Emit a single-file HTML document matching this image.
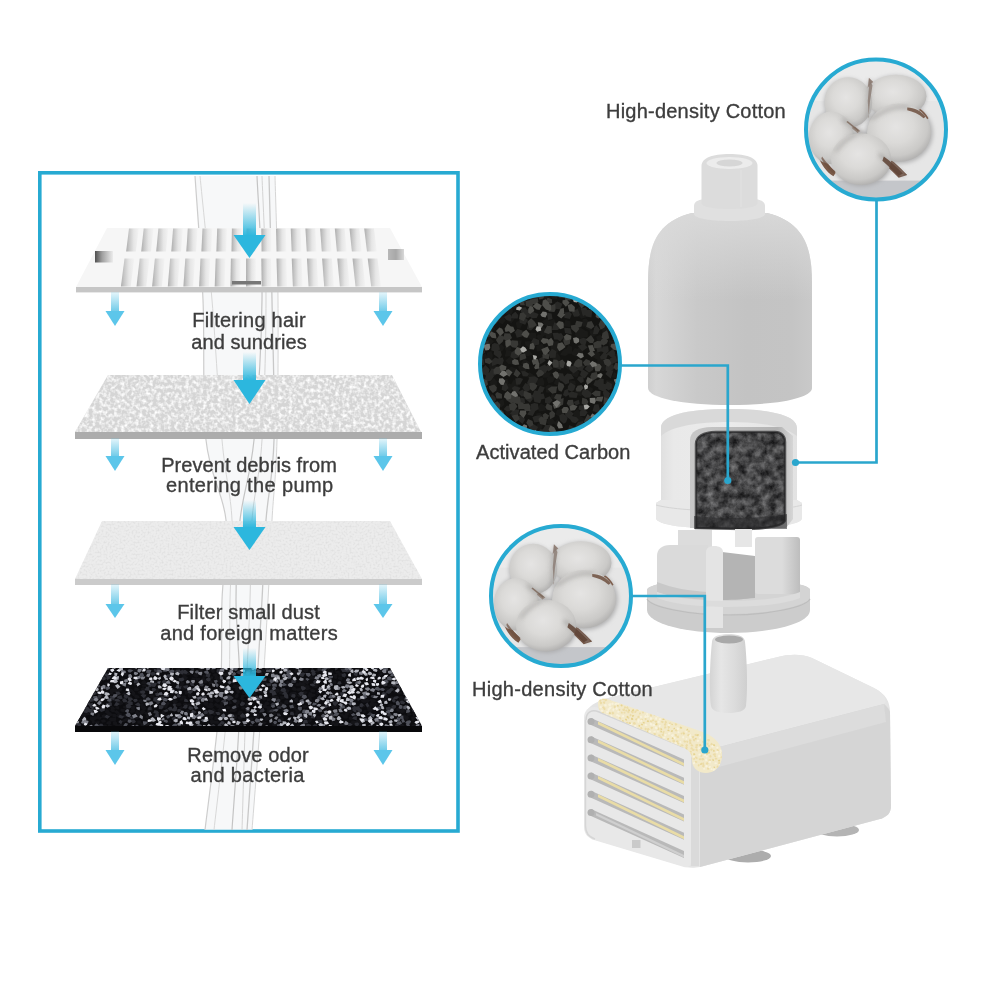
<!DOCTYPE html>
<html><head><meta charset="utf-8"><style>
html,body{margin:0;padding:0;background:#fff;}
svg{display:block;}
</style></head><body>
<svg width="1000" height="1000" viewBox="0 0 1000 1000">
<rect width="1000" height="1000" fill="#ffffff"/>

<defs>
 <linearGradient id="gShaft" x1="0" y1="0" x2="0" y2="1">
  <stop offset="0" stop-color="#2cb7de" stop-opacity="0"/>
  <stop offset="0.55" stop-color="#2cb7de" stop-opacity="0.55"/>
  <stop offset="1" stop-color="#2cb7de" stop-opacity="1"/>
 </linearGradient>
 <linearGradient id="gSmall" x1="0" y1="0" x2="0" y2="1">
  <stop offset="0" stop-color="#5cc4e6" stop-opacity="0.15"/>
  <stop offset="1" stop-color="#5cc4e6" stop-opacity="0.9"/>
 </linearGradient>
 <linearGradient id="gSlat" x1="0" y1="0" x2="1" y2="0">
  <stop offset="0" stop-color="#adadad"/>
  <stop offset="0.25" stop-color="#c8c8c8"/>
  <stop offset="0.6" stop-color="#e6e6e6"/>
  <stop offset="1" stop-color="#f3f3f3"/>
 </linearGradient>
 <linearGradient id="gBody" x1="0" y1="0" x2="1" y2="0">
  <stop offset="0" stop-color="#cfcfcf"/>
  <stop offset="0.05" stop-color="#d7d7d7"/>
  <stop offset="0.3" stop-color="#c9c9c9"/>
  <stop offset="0.6" stop-color="#c3c3c3"/>
  <stop offset="0.88" stop-color="#c4c4c4"/>
  <stop offset="1" stop-color="#c9c9c9"/>
 </linearGradient>
 <linearGradient id="gShoulder" x1="0" y1="0" x2="0" y2="1">
  <stop offset="0" stop-color="#dadada" stop-opacity="0.9"/>
  <stop offset="1" stop-color="#dadada" stop-opacity="0"/>
 </linearGradient>
 <filter id="fCartC" x="0" y="0" width="1" height="1" color-interpolation-filters="sRGB">
  <feTurbulence type="fractalNoise" baseFrequency="0.13" numOctaves="4" seed="12" result="n"/>
  <feColorMatrix in="n" type="matrix" values="0.55 0 0 0 0.0  0.55 0 0 0 0.0  0.55 0 0 0 0.005  0 0 0 0 1" result="g"/>
  <feComposite in="g" in2="SourceGraphic" operator="in"/>
 </filter>
 <linearGradient id="gBodyV" x1="0" y1="0" x2="0" y2="1">
  <stop offset="0" stop-color="#f2f2f2"/>
  <stop offset="1" stop-color="#e4e4e4"/>
 </linearGradient>
 <linearGradient id="gNotch" x1="0" y1="0" x2="1" y2="0"><stop offset="0" stop-color="#505050"/><stop offset="0.4" stop-color="#a0a0a0"/><stop offset="1" stop-color="#ececec"/></linearGradient>
 <linearGradient id="gNotch2" x1="0" y1="0" x2="1" y2="0"><stop offset="0" stop-color="#b8b8b8"/><stop offset="0.5" stop-color="#a8a8a8"/><stop offset="1" stop-color="#d8d8d8"/></linearGradient>
 <filter id="fFoam" x="0" y="0" width="1" height="1">
  <feTurbulence type="fractalNoise" baseFrequency="0.28" numOctaves="2" seed="3" result="n"/>
  <feColorMatrix in="n" type="matrix" values="0 0 0 0 0  0 0 0 0 0  0 0 0 0 0  2.4 0 0 0 -0.95" result="a"/>
  <feFlood flood-color="#ffffff" result="w"/>
  <feComposite in="w" in2="a" operator="in" result="spots"/>
  <feComposite in="spots" in2="SourceGraphic" operator="in" result="s2"/>
  <feMerge><feMergeNode in="SourceGraphic"/><feMergeNode in="s2"/></feMerge>
 </filter>
 <filter id="fPaper" x="0" y="0" width="1" height="1">
  <feTurbulence type="fractalNoise" baseFrequency="0.5" numOctaves="2" seed="5" result="n"/>
  <feColorMatrix in="n" type="matrix" values="0 0 0 0 0  0 0 0 0 0  0 0 0 0 0  1.4 0 0 0 -0.6" result="a"/>
  <feFlood flood-color="#d4d4d4" result="w"/>
  <feComposite in="w" in2="a" operator="in" result="spots"/>
  <feComposite in="spots" in2="SourceGraphic" operator="in" result="s2"/>
  <feMerge><feMergeNode in="SourceGraphic"/><feMergeNode in="s2"/></feMerge>
 </filter>
 <filter id="fCarbon" x="0" y="0" width="1" height="1">
  <feTurbulence type="fractalNoise" baseFrequency="0.3" numOctaves="2" seed="9" result="n"/>
  <feColorMatrix in="n" type="matrix" values="0 0 0 0 0  0 0 0 0 0  0 0 0 0 0  4 0 0 0 -1.95" result="a"/>
  <feFlood flood-color="#5a5c66" result="w"/>
  <feComposite in="w" in2="a" operator="in" result="spots"/>
  <feTurbulence type="fractalNoise" baseFrequency="0.45" numOctaves="1" seed="21" result="n2"/>
  <feColorMatrix in="n2" type="matrix" values="0 0 0 0 0  0 0 0 0 0  0 0 0 0 0  6 0 0 0 -3.6" result="a2"/>
  <feFlood flood-color="#d4d6de" result="w2"/>
  <feComposite in="w2" in2="a2" operator="in" result="spots2"/>
  <feMerge result="m"><feMergeNode in="spots"/><feMergeNode in="spots2"/></feMerge>
  <feComposite in="m" in2="SourceGraphic" operator="in" result="s2"/>
  <feMerge><feMergeNode in="SourceGraphic"/><feMergeNode in="s2"/></feMerge>
 </filter>
 <filter id="fCarbonC" x="0" y="0" width="1" height="1">
  <feTurbulence type="fractalNoise" baseFrequency="0.14" numOctaves="2" seed="13" result="n"/>
  <feColorMatrix in="n" type="matrix" values="0 0 0 0 0  0 0 0 0 0  0 0 0 0 0  3 0 0 0 -1.35" result="a"/>
  <feFlood flood-color="#3c3c3e" result="w"/>
  <feComposite in="w" in2="a" operator="in" result="spots"/>
  <feTurbulence type="fractalNoise" baseFrequency="0.2" numOctaves="1" seed="27" result="n2"/>
  <feColorMatrix in="n2" type="matrix" values="0 0 0 0 0  0 0 0 0 0  0 0 0 0 0  6 0 0 0 -3.7" result="a2"/>
  <feFlood flood-color="#8c8c90" result="w2"/>
  <feComposite in="w2" in2="a2" operator="in" result="spots2"/>
  <feMerge result="m"><feMergeNode in="spots"/><feMergeNode in="spots2"/></feMerge>
  <feComposite in="m" in2="SourceGraphic" operator="in" result="s2"/>
  <feMerge><feMergeNode in="SourceGraphic"/><feMergeNode in="s2"/></feMerge>
 </filter>
 <filter id="fCarbon2" x="0" y="0" width="1" height="1">
  <feTurbulence type="fractalNoise" baseFrequency="0.25" numOctaves="2" seed="4" result="n"/>
  <feColorMatrix in="n" type="matrix" values="0 0 0 0 0  0 0 0 0 0  0 0 0 0 0  3 0 0 0 -1.5" result="a"/>
  <feFlood flood-color="#5c5c5e" result="w"/>
  <feComposite in="w" in2="a" operator="in" result="spots"/>
  <feComposite in="spots" in2="SourceGraphic" operator="in" result="s2"/>
  <feMerge><feMergeNode in="SourceGraphic"/><feMergeNode in="s2"/></feMerge>
 </filter>
 <filter id="blur1"><feGaussianBlur stdDeviation="1"/></filter>
 <filter id="blur2"><feGaussianBlur stdDeviation="2"/></filter>
 <filter id="blur4"><feGaussianBlur stdDeviation="4"/></filter>
 <clipPath id="cC1"><circle cx="876" cy="129.5" r="69"/></clipPath>
 <clipPath id="cC2"><circle cx="550" cy="364" r="69"/></clipPath>
 <clipPath id="cC3"><circle cx="561" cy="596" r="69"/></clipPath>
</defs>

<rect x="39.8" y="172.8" width="418.2" height="658.2" fill="none" stroke="#27aad2" stroke-width="3.6"/>
<path d="M195.0 176.0 C196.3 196.7 201.2 256.0 203.0 300.0 C204.8 344.0 202.2 403.3 206.0 440.0 C209.8 476.7 223.3 493.3 226.0 520.0 C228.7 546.7 223.0 570.0 222.0 600.0 C221.0 630.0 222.8 661.7 220.0 700.0 C217.2 738.3 207.5 808.3 205.0 830.0 L252.0 830.0 C253.7 808.3 259.3 738.3 262.0 700.0 C264.7 661.7 266.3 630.0 268.0 600.0 C269.7 570.0 270.5 546.7 272.0 520.0 C273.5 493.3 276.0 476.7 277.0 440.0 C278.0 403.3 278.3 344.0 278.0 300.0 C277.7 256.0 275.5 196.7 275.0 176.0 Z" fill="#f4f5f6" opacity="0.7"/>
<path d="M195.0 176.0 C196.3 196.7 201.2 256.0 203.0 300.0 C204.8 344.0 202.2 403.3 206.0 440.0 C209.8 476.7 223.3 493.3 226.0 520.0 C228.7 546.7 223.0 570.0 222.0 600.0 C221.0 630.0 222.8 661.7 220.0 700.0 C217.2 738.3 207.5 808.3 205.0 830.0" fill="none" stroke="#cdcdcd" stroke-width="1.2"/>
<path d="M200.0 176.0 C202.0 196.7 208.3 256.0 212.0 300.0 C215.7 344.0 218.7 403.3 222.0 440.0 C225.3 476.7 230.7 493.3 232.0 520.0 C233.3 546.7 230.7 570.0 230.0 600.0 C229.3 630.0 230.7 661.7 228.0 700.0 C225.3 738.3 216.3 808.3 214.0 830.0" fill="none" stroke="#d8d8d8" stroke-width="1.0"/>
<path d="M257.0 176.0 C257.8 196.7 262.5 256.0 262.0 300.0 C261.5 344.0 257.7 403.3 254.0 440.0 C250.3 476.7 243.0 493.3 240.0 520.0 C237.0 546.7 236.0 570.0 236.0 600.0 C236.0 630.0 240.7 661.7 240.0 700.0 C239.3 738.3 233.3 808.3 232.0 830.0" fill="none" stroke="#c4c4c4" stroke-width="1.2"/>
<path d="M262.0 176.0 C262.7 196.7 266.0 256.0 266.0 300.0 C266.0 344.0 264.3 403.3 262.0 440.0 C259.7 476.7 254.0 493.3 252.0 520.0 C250.0 546.7 251.0 570.0 250.0 600.0 C249.0 630.0 247.3 661.7 246.0 700.0 C244.7 738.3 242.7 808.3 242.0 830.0" fill="none" stroke="#d4d4d4" stroke-width="1.0"/>
<path d="M269.0 176.0 C269.5 196.7 271.2 256.0 272.0 300.0 C272.8 344.0 275.0 403.3 274.0 440.0 C273.0 476.7 268.0 493.3 266.0 520.0 C264.0 546.7 263.7 570.0 262.0 600.0 C260.3 630.0 258.5 661.7 256.0 700.0 C253.5 738.3 248.5 808.3 247.0 830.0" fill="none" stroke="#c8c8c8" stroke-width="1.3"/>
<path d="M275.0 176.0 C275.5 196.7 277.7 256.0 278.0 300.0 C278.3 344.0 278.0 403.3 277.0 440.0 C276.0 476.7 273.5 493.3 272.0 520.0 C270.5 546.7 269.7 570.0 268.0 600.0 C266.3 630.0 264.7 661.7 262.0 700.0 C259.3 738.3 253.7 808.3 252.0 830.0" fill="none" stroke="#d6d6d6" stroke-width="1.0"/>
<polygon points="107,228 390,228 422,287 76,287" fill="#f6f6f6"/>
<rect x="76" y="287" width="346" height="5.4" fill="#c6c6c6"/>
<polygon points="129.0,228.5 138.8,228.5 135.9,251.5 126.1,251.5" fill="url(#gSlat)"/>
<polygon points="143.7,228.5 153.5,228.5 151.0,251.5 141.2,251.5" fill="url(#gSlat)"/>
<polygon points="158.4,228.5 168.2,228.5 166.0,251.5 156.2,251.5" fill="url(#gSlat)"/>
<polygon points="173.1,228.5 182.9,228.5 181.1,251.5 171.3,251.5" fill="url(#gSlat)"/>
<polygon points="187.8,228.5 197.6,228.5 196.1,251.5 186.3,251.5" fill="url(#gSlat)"/>
<polygon points="202.5,228.5 212.3,228.5 211.2,251.5 201.4,251.5" fill="url(#gSlat)"/>
<polygon points="217.2,228.5 227.0,228.5 226.2,251.5 216.4,251.5" fill="url(#gSlat)"/>
<polygon points="231.9,228.5 241.7,228.5 241.3,251.5 231.5,251.5" fill="url(#gSlat)"/>
<polygon points="246.6,228.5 256.4,228.5 256.3,251.5 246.5,251.5" fill="url(#gSlat)"/>
<polygon points="261.3,228.5 271.1,228.5 271.4,251.5 261.6,251.5" fill="url(#gSlat)"/>
<polygon points="276.0,228.5 285.8,228.5 286.4,251.5 276.6,251.5" fill="url(#gSlat)"/>
<polygon points="290.7,228.5 300.5,228.5 301.5,251.5 291.7,251.5" fill="url(#gSlat)"/>
<polygon points="305.4,228.5 315.2,228.5 316.6,251.5 306.8,251.5" fill="url(#gSlat)"/>
<polygon points="320.1,228.5 329.9,228.5 331.6,251.5 321.8,251.5" fill="url(#gSlat)"/>
<polygon points="334.8,228.5 344.6,228.5 346.7,251.5 336.9,251.5" fill="url(#gSlat)"/>
<polygon points="349.5,228.5 359.3,228.5 361.7,251.5 351.9,251.5" fill="url(#gSlat)"/>
<polygon points="364.2,228.5 374.0,228.5 376.8,251.5 367.0,251.5" fill="url(#gSlat)"/>
<polygon points="124.5,258.5 134.3,258.5 130.7,286.6 120.9,286.6" fill="url(#gSlat)"/>
<polygon points="139.7,258.5 149.5,258.5 146.3,286.6 136.5,286.6" fill="url(#gSlat)"/>
<polygon points="154.9,258.5 164.7,258.5 161.9,286.6 152.1,286.6" fill="url(#gSlat)"/>
<polygon points="170.1,258.5 179.9,258.5 177.6,286.6 167.8,286.6" fill="url(#gSlat)"/>
<polygon points="185.3,258.5 195.1,258.5 193.2,286.6 183.4,286.6" fill="url(#gSlat)"/>
<polygon points="200.5,258.5 210.3,258.5 208.9,286.6 199.1,286.6" fill="url(#gSlat)"/>
<polygon points="215.7,258.5 225.5,258.5 224.5,286.6 214.7,286.6" fill="url(#gSlat)"/>
<polygon points="230.9,258.5 240.7,258.5 240.2,286.6 230.4,286.6" fill="url(#gSlat)"/>
<polygon points="246.1,258.5 255.9,258.5 255.8,286.6 246.0,286.6" fill="url(#gSlat)"/>
<polygon points="261.3,258.5 271.1,258.5 271.5,286.6 261.7,286.6" fill="url(#gSlat)"/>
<polygon points="276.5,258.5 286.3,258.5 287.1,286.6 277.3,286.6" fill="url(#gSlat)"/>
<polygon points="291.7,258.5 301.5,258.5 302.7,286.6 292.9,286.6" fill="url(#gSlat)"/>
<polygon points="306.9,258.5 316.7,258.5 318.4,286.6 308.6,286.6" fill="url(#gSlat)"/>
<polygon points="322.1,258.5 331.9,258.5 334.0,286.6 324.2,286.6" fill="url(#gSlat)"/>
<polygon points="337.3,258.5 347.1,258.5 349.7,286.6 339.9,286.6" fill="url(#gSlat)"/>
<polygon points="352.5,258.5 362.3,258.5 365.3,286.6 355.5,286.6" fill="url(#gSlat)"/>
<polygon points="367.7,258.5 377.5,258.5 381.0,286.6 371.2,286.6" fill="url(#gSlat)"/>
<rect x="95" y="251" width="18" height="11.5" fill="url(#gNotch)"/>
<rect x="388" y="249" width="16" height="11" fill="url(#gNotch2)"/>
<rect x="232" y="281" width="29" height="3.5" fill="#777"/>
<polygon points="108,375 392,375 421,432 75,432" fill="#d5d5d5" filter="url(#fFoam)"/>
<rect x="75" y="432" width="347" height="7" fill="#acacac"/>
<polygon points="102,521 390,521 422,579 75,579" fill="#ececec" filter="url(#fPaper)"/>
<rect x="75" y="579" width="347" height="6" fill="#cbcbcb"/>
<clipPath id="cL4"><polygon points="108,668 390,668 422,726 75,726"/></clipPath>
<polygon points="108,668 390,668 422,726 75,726" fill="#0c0c0f"/>
<g clip-path="url(#cL4)"><path d="M82.1 664.5 84.8 662.7 87.6 664.8 86.0 666.4 83.4 666.6ZM101.4 663.7 102.2 666.8 99.1 667.1 96.0 665.5 98.2 663.4ZM102.1 664.6 100.6 662.7 104.5 660.4 104.6 663.3ZM125.7 660.0 127.7 663.6 124.7 664.3 121.7 663.1 123.0 661.0ZM126.3 665.3 126.2 662.4 129.0 660.7 131.9 662.8 129.4 665.4ZM175.3 661.0 178.3 661.1 179.9 663.6 178.2 665.7 174.9 664.9 174.6 662.2ZM190.5 661.2 193.6 662.9 192.0 664.9 188.9 663.9ZM205.3 663.5 205.4 661.7 208.5 661.8 209.6 664.1 207.3 665.0ZM209.0 664.8 213.6 663.6 215.1 666.4 212.2 668.1ZM235.0 662.6 238.3 663.5 238.2 665.6 234.4 665.7ZM242.3 660.8 245.7 661.8 245.8 664.9 242.9 664.9ZM263.2 663.2 266.4 661.6 267.8 662.9 267.4 665.2 263.6 665.3ZM270.1 663.0 272.7 662.8 273.9 664.4 272.6 666.8 268.9 666.5 268.2 663.7ZM283.6 661.4 287.2 662.0 287.2 665.5 283.5 664.8 281.2 663.3ZM297.9 661.6 300.1 664.4 297.8 666.2 294.1 664.4 296.0 662.4ZM298.8 664.1 299.0 661.5 302.7 662.8 302.6 664.9 299.6 666.1ZM342.0 662.5 345.7 662.0 345.9 664.9 343.5 666.5 340.4 664.9ZM356.6 664.9 353.1 666.2 351.0 663.3 354.4 662.4 357.9 663.2ZM358.1 665.5 356.1 662.9 357.8 661.4 361.4 662.1 361.4 663.7ZM364.8 664.1 364.4 666.5 360.4 665.5 360.3 663.9 361.8 661.9ZM369.1 664.8 368.2 666.4 366.3 666.2 363.7 665.6 364.8 662.9 367.5 663.5ZM390.4 667.1 387.0 665.9 385.4 664.5 388.2 662.8 391.1 664.0ZM398.6 662.9 397.2 665.5 394.8 664.3 394.2 662.3 397.3 661.7ZM401.3 663.7 400.8 665.3 400.3 667.4 397.1 666.1 396.2 664.0 398.2 663.0ZM406.2 666.8 406.5 664.0 408.2 662.9 410.4 663.9 410.4 666.7ZM417.0 662.3 420.0 662.2 422.0 663.4 422.5 664.7 419.2 666.4 418.2 664.1ZM426.2 666.5 423.4 665.2 425.2 663.0 427.1 663.4 429.6 665.6ZM427.9 661.2 431.3 661.6 430.6 664.3 427.0 664.6ZM78.6 666.9 82.1 667.9 80.2 669.9 77.0 668.7ZM91.6 668.9 92.5 666.1 93.9 665.5 96.5 667.4 96.6 669.6 93.9 670.4ZM99.5 669.0 98.4 666.7 98.4 665.1 101.5 664.6 102.7 666.5 102.3 668.3ZM125.5 665.2 129.2 666.6 126.4 668.4 122.8 667.2ZM130.2 667.5 132.7 667.0 134.8 668.9 133.5 671.2 130.1 670.6ZM156.3 666.2 155.9 668.7 151.9 668.9 151.7 666.8 153.1 665.2ZM176.0 668.4 177.3 665.6 180.8 665.5 180.6 667.8 179.2 669.5ZM183.8 666.7 185.7 668.9 182.3 669.5 179.5 667.7 181.9 665.7ZM221.7 667.4 220.2 669.0 216.7 669.0 216.5 666.9 219.5 664.9ZM240.1 664.8 242.6 665.0 243.2 666.8 242.7 668.6 239.6 668.1 238.3 665.9ZM248.1 664.2 249.7 666.1 248.5 669.0 246.8 667.9 245.0 667.1 245.6 664.7ZM340.2 668.6 339.6 666.1 343.6 666.2 343.3 668.4ZM358.6 669.7 357.4 668.0 356.7 665.6 360.4 665.3 362.4 666.7 361.1 668.2ZM388.2 664.9 392.0 665.9 390.7 669.1 387.9 667.5ZM405.1 666.2 403.0 668.3 400.2 667.4 401.3 664.5 404.3 664.4ZM419.6 670.9 417.1 668.8 419.3 667.0 421.1 668.4ZM423.3 670.5 420.8 670.5 419.4 668.2 422.9 667.2 424.3 668.6ZM426.3 669.2 423.3 667.6 426.1 665.8 428.9 666.1 429.0 668.6ZM90.1 672.4 85.8 671.6 87.2 668.8 90.2 668.9ZM100.8 671.9 101.8 669.9 104.7 668.8 105.3 671.4 104.7 672.7 101.7 672.8ZM109.5 675.1 106.3 673.7 106.9 670.9 110.0 670.8 112.4 672.6ZM134.2 672.4 132.1 672.2 132.7 669.5 135.2 668.3 137.9 669.2 137.2 671.3ZM200.2 671.8 198.6 669.3 203.0 668.2 202.7 671.2ZM210.2 670.5 211.5 668.8 214.5 669.8 215.0 672.2 212.6 673.0ZM225.7 671.3 229.5 669.4 230.6 672.6 228.6 674.0ZM264.9 669.8 266.7 672.4 264.8 673.5 261.8 671.5 260.4 670.1 262.4 668.4ZM293.5 671.1 296.0 669.0 298.9 669.5 299.7 672.8 295.4 674.1ZM305.1 672.7 302.5 670.1 306.0 668.6 308.8 668.4 307.9 671.5ZM317.9 672.6 314.7 671.7 316.1 669.5 317.8 669.5 319.7 671.4ZM328.0 671.6 332.9 670.1 333.5 674.1 328.9 673.7ZM336.2 673.6 334.4 671.6 339.3 670.5 340.3 673.6ZM381.7 671.3 379.1 672.7 377.2 671.0 378.1 669.4 380.8 668.9 382.6 669.1ZM428.8 673.0 426.7 670.9 431.4 669.5 431.4 672.2ZM76.9 676.0 76.6 677.7 72.5 678.4 71.0 676.7 71.8 673.7 74.6 674.8ZM82.4 676.9 76.9 677.0 77.2 673.9 81.7 674.1ZM82.5 672.3 84.1 671.6 86.5 672.4 85.6 674.5 84.0 675.7 81.4 675.3ZM97.8 676.7 93.6 677.9 92.2 675.8 92.8 673.9 95.4 673.0 97.4 673.9ZM104.1 674.8 102.3 677.5 100.0 677.1 99.2 676.2 99.8 673.7 102.0 673.7ZM125.1 676.3 123.3 674.1 123.8 672.3 126.5 671.5 127.9 673.3 127.8 675.0ZM187.1 675.5 184.4 675.9 182.4 676.3 181.8 673.1 184.8 672.0 187.1 672.6ZM187.0 675.5 185.0 672.4 188.4 671.4 190.6 674.4ZM196.7 677.7 194.5 677.0 193.0 675.6 194.9 672.9 198.3 674.0 198.0 676.7ZM207.7 674.8 206.2 677.2 202.9 678.2 202.4 675.3 205.7 674.3ZM212.9 675.7 212.4 674.5 214.9 673.3 217.2 673.4 217.8 675.3 216.0 677.3ZM228.5 673.4 228.1 676.7 224.5 676.2 222.9 674.7 225.5 672.3ZM249.8 677.9 247.6 675.6 250.3 673.8 252.7 676.1ZM256.9 672.8 259.3 675.1 256.2 677.3 252.5 675.0ZM263.4 673.4 262.4 675.1 259.5 675.0 258.7 673.7 260.9 671.1ZM334.5 676.9 332.6 674.2 337.8 673.7 337.2 676.3ZM343.1 673.3 341.9 675.4 339.0 676.4 337.8 673.9 339.2 672.4ZM379.7 672.4 382.3 673.1 382.3 674.8 380.4 675.9 377.2 675.8ZM418.9 672.5 417.6 676.2 415.3 674.7 415.0 672.4ZM426.5 674.2 423.3 677.5 420.0 675.9 422.2 672.8ZM86.9 675.5 91.0 677.8 89.3 679.7 85.0 680.4 85.7 677.7ZM93.0 680.4 90.0 680.2 89.9 677.1 93.1 676.1 94.6 678.6ZM95.6 680.4 97.4 678.2 100.9 678.7 99.6 681.4ZM125.0 680.9 121.2 680.7 120.7 678.5 122.8 677.4 125.1 678.7ZM178.7 677.6 178.2 679.9 175.1 678.3 174.6 676.3 178.0 675.9ZM181.6 677.3 183.7 675.6 186.1 676.1 188.0 677.6 186.2 680.3 184.1 679.7ZM191.1 680.4 191.8 677.6 195.4 677.8 195.3 680.0ZM195.2 678.1 200.6 677.7 200.0 680.6 196.8 681.3ZM205.3 678.3 205.2 679.9 202.0 681.1 201.3 678.6 202.5 677.4ZM212.4 679.1 210.1 679.6 209.1 678.6 209.6 676.8 211.4 676.2 213.9 676.5ZM215.4 675.7 217.2 675.5 219.2 677.2 218.6 679.3 215.8 679.5 214.0 678.6ZM251.0 678.4 247.0 679.2 247.0 675.9 251.1 675.6ZM262.3 679.5 259.8 679.3 258.8 676.1 263.1 675.8ZM271.0 680.5 267.8 681.7 267.3 677.8 270.3 678.0ZM314.0 676.4 314.3 679.2 311.5 679.6 308.6 679.4 309.7 676.3 310.7 675.4ZM334.0 675.9 336.9 675.6 337.5 677.9 335.7 679.2 333.8 677.8ZM339.7 679.7 337.9 678.9 338.3 676.8 341.3 676.4 342.8 678.1 341.8 680.7ZM409.6 677.2 411.3 674.6 413.1 676.2 414.5 678.4 411.2 678.8ZM411.8 677.4 414.3 676.6 415.9 680.2 411.8 679.8ZM422.6 680.5 420.1 679.2 420.9 677.3 424.3 678.2ZM424.5 679.8 422.7 678.6 424.0 676.2 425.3 674.6 427.4 677.0 427.1 678.3ZM95.9 679.6 97.8 680.9 96.6 683.7 92.9 682.5 93.4 680.6ZM99.9 683.1 97.5 682.4 97.2 679.4 100.3 679.3 102.2 681.7ZM110.0 684.1 107.1 685.0 104.0 684.5 104.9 682.3 106.9 681.9 109.9 681.6ZM140.8 683.6 141.8 681.4 144.3 679.7 147.0 682.7 145.5 684.7ZM184.7 683.8 183.0 685.5 180.1 684.1 181.1 681.8 184.2 681.9ZM204.7 683.7 202.1 680.6 206.0 679.2 207.9 682.2ZM212.8 682.8 208.9 685.1 208.5 681.8 212.2 680.1ZM221.1 683.2 216.5 681.7 218.7 678.9 222.5 679.2ZM246.3 680.0 248.8 682.0 246.5 684.7 243.8 682.3ZM247.5 681.1 249.6 680.7 253.2 681.9 251.1 683.7 248.0 683.7ZM258.7 678.9 260.6 679.9 258.8 683.3 256.1 683.3 254.2 681.9 255.7 679.6ZM264.9 682.5 262.1 684.9 258.2 683.6 258.9 680.7 263.2 681.5ZM265.1 685.6 263.7 682.2 266.0 681.1 268.5 683.7ZM285.4 682.1 287.8 680.5 290.8 682.4 289.3 684.8 287.3 684.6ZM302.2 685.4 298.7 685.8 298.1 683.9 299.6 681.5 301.9 682.4ZM301.8 681.9 303.6 679.5 305.1 679.4 308.1 681.6 307.7 683.0 304.2 683.0ZM307.3 684.9 305.0 683.0 307.6 679.8 309.5 682.2ZM333.1 680.2 336.1 680.6 336.5 683.6 332.7 683.4ZM344.7 680.2 347.6 679.0 348.4 681.2 347.0 683.9 344.5 683.0ZM369.1 681.1 369.5 679.6 372.6 678.6 373.3 681.2 370.8 683.5ZM400.4 681.5 402.4 679.3 406.1 680.6 406.1 684.1 402.8 683.4ZM409.8 682.0 409.8 684.4 406.6 684.4 406.8 681.6ZM419.3 680.9 421.5 683.6 418.6 685.5 416.0 685.2 416.5 682.5ZM421.3 681.8 423.6 682.0 423.7 684.3 421.8 686.0 418.9 684.6 418.8 682.5ZM426.8 684.2 426.3 682.9 427.4 680.8 430.0 682.0 431.8 684.6 429.5 685.0ZM92.6 684.6 95.8 684.3 96.9 686.6 95.3 687.5 92.0 687.7ZM116.9 686.1 115.6 688.2 113.7 688.8 112.4 686.1 114.2 684.9ZM126.3 685.9 128.2 685.6 130.4 686.6 130.4 688.3 126.6 689.5ZM137.9 685.7 133.9 685.6 134.1 682.5 137.3 682.9ZM141.3 684.4 145.9 684.9 146.6 687.1 142.3 686.8ZM180.0 683.6 183.3 683.3 184.0 684.9 182.6 687.4 179.5 686.5ZM236.8 686.3 234.8 688.1 232.0 687.8 233.5 684.6 235.7 684.5ZM236.7 685.0 239.4 685.0 239.0 687.6 237.6 689.3 234.7 688.8 234.3 685.7ZM251.0 685.1 248.7 686.1 246.4 683.9 248.1 682.7 251.8 683.1ZM255.8 687.4 252.5 686.6 251.7 683.4 255.8 684.1ZM295.7 683.6 297.9 683.0 299.7 685.2 298.1 686.3 295.5 685.7ZM303.3 687.0 300.9 685.3 300.2 682.2 304.3 682.7 306.0 684.8ZM307.4 689.1 305.4 688.2 303.9 686.8 306.4 684.9 309.4 685.5 309.7 687.4ZM318.7 685.7 316.4 688.3 313.3 687.6 312.6 684.2 315.1 683.7ZM369.2 686.7 366.1 688.8 364.0 686.5 368.0 684.8ZM392.1 683.4 392.3 686.7 390.9 687.5 387.7 686.6 388.5 684.6ZM418.6 686.2 420.6 684.7 423.4 684.0 424.5 686.4 422.4 687.3 420.6 688.8ZM109.4 691.9 109.9 689.4 112.8 688.1 114.7 690.9 112.1 693.0ZM116.9 688.6 117.6 690.2 116.1 693.0 113.7 691.7 113.4 688.9ZM122.6 689.9 119.9 691.7 116.4 689.9 121.3 687.1ZM131.0 692.3 128.1 691.7 129.0 689.3 130.9 688.5 132.4 689.4 134.0 691.3ZM137.5 687.7 140.0 689.8 137.6 690.9 134.0 690.7 134.7 686.9ZM143.3 687.1 145.1 688.6 146.2 690.5 142.3 691.5 141.1 690.8 141.0 688.5ZM159.1 690.2 158.0 692.7 155.1 691.2 154.8 689.4 158.8 687.9ZM186.8 688.4 185.5 689.7 183.4 690.1 180.8 688.9 181.9 686.8 185.1 686.7ZM224.0 690.2 221.5 692.4 219.2 690.4 218.8 688.0 223.6 687.4ZM239.2 688.2 237.8 690.6 234.8 690.2 236.2 686.4ZM254.0 690.5 249.3 691.3 248.4 689.8 250.1 687.3 252.5 687.8ZM280.2 691.0 277.8 692.9 275.2 692.0 273.8 690.4 276.5 688.8 278.7 688.7ZM284.6 689.6 286.7 689.2 289.8 690.0 287.9 693.4 284.9 692.6ZM296.6 689.0 296.2 691.0 292.8 690.5 291.6 689.1 293.2 686.5 296.1 687.7ZM302.3 690.4 297.6 691.6 296.1 689.2 297.6 688.3 300.5 687.9ZM305.4 690.0 305.6 687.3 306.8 685.9 309.4 687.5 311.0 688.7 308.1 690.0ZM310.0 689.8 312.3 688.9 315.4 690.3 314.5 692.7 310.8 692.1ZM385.5 688.0 388.6 688.1 389.1 690.4 386.6 692.4 384.4 690.8 383.6 688.1ZM398.4 689.7 398.7 687.1 400.0 686.4 402.2 687.1 402.9 688.6 401.3 689.8ZM90.4 691.6 91.4 693.7 87.5 694.3 85.1 692.0 88.6 690.2ZM109.6 694.3 110.6 690.8 113.5 692.6 113.3 694.6ZM124.1 692.1 127.9 694.2 124.9 695.5 121.5 694.8ZM135.3 694.4 133.1 695.9 131.5 694.3 132.0 692.0 133.8 691.1 135.2 692.6ZM144.0 692.8 140.9 694.4 138.7 693.6 137.3 692.3 140.8 690.0 143.6 691.0ZM188.1 689.8 188.9 691.8 188.8 694.1 185.3 694.7 184.2 690.7ZM239.0 689.6 240.5 692.4 237.5 693.9 235.9 691.0ZM242.3 691.5 245.0 690.7 248.4 692.6 246.2 693.8 242.3 694.0ZM250.7 695.3 246.5 694.6 246.7 692.4 248.1 690.7 250.6 692.8ZM252.4 694.6 253.5 692.1 256.8 692.9 256.6 695.0 253.9 695.6ZM262.8 692.1 259.9 693.4 258.0 692.9 257.9 690.8 260.5 689.4ZM283.2 692.7 281.5 694.2 279.0 694.1 279.6 691.6 281.9 691.3ZM288.8 695.1 290.1 692.8 292.1 691.9 294.4 694.6 291.0 696.7ZM290.6 693.9 293.1 691.7 295.9 691.9 296.9 693.6 296.3 695.7 292.6 696.3ZM305.8 694.8 303.1 693.4 302.7 691.2 304.1 691.1 307.8 691.8 306.7 693.3ZM312.4 692.7 311.3 696.5 307.9 694.9 308.9 691.9ZM316.4 691.5 317.5 689.7 320.0 692.2 320.0 693.5 316.4 694.2ZM375.7 693.0 371.7 694.2 371.7 690.7 375.8 689.8ZM394.8 693.0 392.9 691.6 392.6 689.9 396.6 689.5 397.1 691.1 398.1 692.6ZM402.0 694.3 398.8 694.5 396.9 693.1 397.6 691.7 400.2 691.6 401.9 692.3ZM78.0 694.7 82.5 696.1 80.9 699.9 77.7 697.7ZM91.4 697.2 88.6 697.8 88.5 695.4 90.8 693.3 92.4 695.0ZM130.2 700.3 127.8 697.7 129.4 694.9 132.4 697.1ZM135.8 699.1 133.4 695.7 135.7 694.4 138.2 695.2 140.0 697.5ZM142.7 699.3 145.1 696.0 148.2 696.8 146.5 699.8ZM151.6 694.5 154.8 695.1 154.2 697.5 151.8 698.1 149.3 697.2 149.5 695.2ZM156.7 696.2 159.7 697.4 159.3 699.4 156.6 700.2 154.8 698.5 155.0 697.3ZM183.2 699.1 181.0 698.0 181.3 695.8 184.9 695.4 186.6 696.9 185.5 698.6ZM189.3 697.9 187.8 696.5 187.9 694.0 192.6 694.0 193.5 696.3ZM238.7 694.5 238.5 696.7 237.0 698.3 234.7 697.8 234.5 696.3 236.5 693.6ZM240.8 695.7 242.3 694.3 245.2 695.4 243.5 697.9 241.1 698.4ZM245.4 693.1 249.6 694.6 248.8 697.2 243.8 696.6ZM271.6 696.9 273.2 695.1 276.1 696.1 276.7 697.8 273.7 700.1 271.8 698.3ZM276.5 695.4 279.0 697.1 279.6 699.4 277.7 700.0 274.6 699.0 275.3 696.7ZM284.3 696.0 285.9 698.3 280.9 699.7 279.6 696.2ZM302.0 695.7 300.1 697.0 297.9 696.5 297.0 695.3 299.5 693.8 301.5 694.1ZM312.7 695.7 311.4 697.1 308.3 697.2 307.8 694.8 308.9 692.9 311.8 694.0ZM309.8 695.8 310.6 693.3 315.3 694.0 315.7 696.1 311.7 697.5ZM388.8 697.2 386.7 698.4 383.9 696.9 384.4 694.5 387.6 695.0ZM395.2 697.2 393.4 700.0 388.7 698.0 391.8 696.2ZM399.7 696.1 403.4 696.3 403.7 699.2 399.8 700.2 398.5 697.7ZM71.1 700.2 70.9 697.1 74.2 696.8 74.8 699.1 72.6 701.3ZM80.0 699.6 77.8 701.9 75.1 700.1 77.1 697.9 80.1 697.4ZM83.7 701.6 80.6 698.1 84.6 696.6 86.2 698.7ZM87.4 700.1 90.8 699.7 91.7 701.4 89.0 704.4 86.2 702.7ZM111.3 700.5 112.4 698.4 116.6 699.2 114.8 702.1ZM141.6 699.1 143.8 701.6 141.8 703.3 138.8 702.3 138.0 700.4ZM174.7 699.4 178.3 701.0 175.7 703.7 173.5 704.0 171.9 700.5ZM182.6 700.5 179.5 700.3 180.4 698.1 182.4 697.1 185.0 698.6ZM211.0 697.8 213.8 699.0 212.9 702.3 209.2 701.5 208.0 699.6ZM217.9 698.3 220.7 700.9 217.2 702.7 213.8 699.6ZM236.4 703.5 235.1 701.2 237.8 699.8 239.6 700.4 240.2 701.9ZM242.5 700.9 239.9 698.6 242.1 696.9 245.6 699.6ZM264.2 700.5 261.0 699.8 263.0 697.5 264.3 696.2 266.8 697.3 266.6 699.8ZM267.2 701.2 266.8 698.6 270.4 697.9 270.1 700.4ZM284.2 702.5 284.5 700.7 286.6 699.8 289.1 701.2 286.5 702.8ZM297.5 697.3 298.7 700.4 297.0 702.4 293.5 701.3 295.2 698.0ZM311.2 696.9 312.1 700.0 307.6 700.6 308.0 698.0ZM366.5 700.9 365.1 702.7 363.3 702.9 360.6 700.8 362.4 698.6 365.0 698.2ZM370.4 700.2 368.7 702.6 364.8 702.7 366.6 699.1ZM369.9 698.9 373.9 698.9 375.9 700.3 375.7 702.2 371.9 702.9 370.0 701.2ZM382.6 701.3 382.6 698.8 385.9 698.2 387.2 700.8 384.9 702.6ZM398.3 700.7 398.9 699.5 402.2 699.1 404.1 700.6 403.5 702.2 400.0 703.2ZM79.0 707.2 78.7 703.6 80.9 703.5 84.5 704.0 82.4 706.4ZM120.8 705.6 117.7 704.8 116.9 702.0 119.1 700.4 122.3 701.3 123.2 703.9ZM129.2 703.3 127.2 705.5 125.3 704.5 125.6 702.4 127.0 701.2ZM143.6 703.0 143.7 706.0 142.0 707.4 140.2 705.8 139.9 703.8ZM170.1 703.1 167.9 705.7 165.7 706.4 165.1 703.3 167.8 701.8ZM175.3 703.5 178.2 702.9 180.3 702.4 181.9 705.3 179.1 706.2 177.1 706.1ZM187.3 703.4 187.4 705.1 184.0 706.6 182.6 703.9 185.1 702.8ZM190.7 706.3 186.5 706.0 186.4 703.3 190.6 703.8ZM203.0 704.0 203.8 701.6 208.0 701.6 208.5 704.0 206.0 706.2ZM210.1 702.6 212.0 702.6 213.8 705.3 210.2 705.8 208.1 704.2ZM213.8 704.5 215.8 702.5 217.8 703.9 219.2 705.7 216.7 706.6 214.5 706.0ZM221.2 706.4 219.7 702.5 222.2 701.7 224.3 703.8ZM229.5 704.6 228.0 702.8 229.2 700.0 231.3 701.7 232.1 703.5ZM237.2 705.5 234.6 702.7 237.5 701.2 240.6 703.1ZM248.5 702.8 250.6 705.3 247.4 706.8 244.7 705.5 246.8 701.9ZM264.2 703.3 265.8 701.8 268.0 701.5 269.8 704.1 267.8 704.9 265.5 704.7ZM282.5 706.3 279.0 705.9 277.6 703.8 280.6 701.7 283.7 703.6ZM288.0 704.2 283.5 703.5 284.5 701.5 287.9 700.6 288.8 702.6ZM296.0 705.0 294.2 707.4 291.6 704.8 292.7 702.7ZM370.7 702.1 373.4 702.3 374.7 703.4 373.2 706.0 370.8 706.4 369.4 703.7ZM373.8 707.6 372.8 705.0 374.9 702.7 378.0 703.8 376.2 706.1ZM390.1 707.6 387.1 705.4 389.9 703.4 393.1 703.9 392.1 705.7ZM422.9 703.3 426.0 704.2 424.4 706.6 421.5 706.4 420.6 704.0ZM71.4 708.5 73.7 706.4 76.4 708.8 72.7 709.8ZM80.4 708.3 79.2 710.2 76.5 709.7 75.2 707.5 78.1 706.2ZM112.6 706.1 115.8 708.7 111.3 709.6 110.0 707.4ZM117.2 709.3 115.3 708.0 115.8 706.1 118.9 706.2 119.5 709.2ZM127.1 709.2 123.4 708.2 122.8 706.2 128.0 705.8ZM134.3 705.4 135.3 707.2 134.0 709.7 130.9 708.9 130.7 706.5ZM144.2 710.5 140.9 708.6 140.5 706.3 144.7 705.5 146.4 708.8ZM167.9 706.4 166.1 708.9 163.6 706.7 165.9 704.0ZM180.0 709.5 178.8 707.6 181.7 706.0 184.2 708.4ZM206.5 707.6 206.8 704.8 210.2 705.6 209.5 708.4ZM210.6 708.6 208.5 707.3 209.5 705.2 211.8 704.5 214.2 706.0 212.4 708.5ZM220.2 707.3 219.4 708.1 216.7 707.8 215.5 705.4 218.4 704.2 221.4 704.7ZM224.7 707.0 223.9 708.7 221.0 709.9 218.4 707.7 220.0 705.3 222.8 705.6ZM230.6 707.1 229.3 709.8 226.5 709.0 226.5 706.0 229.3 706.3ZM238.7 705.4 239.0 707.3 236.0 707.4 235.6 704.6ZM242.1 706.3 246.2 707.0 243.3 709.8 240.8 708.7ZM262.1 706.2 264.7 704.0 267.4 705.8 266.3 708.3 264.1 708.1ZM271.4 706.5 270.7 709.5 267.8 710.3 265.8 707.3 267.7 705.9ZM294.3 706.6 296.6 707.3 296.1 709.9 292.7 709.5ZM304.9 704.7 307.9 706.5 304.4 708.8 301.6 706.5ZM330.4 706.5 334.3 704.9 335.5 708.5 332.1 708.7ZM337.3 708.0 333.2 707.3 334.8 704.3 338.1 705.7ZM360.8 705.8 362.8 704.4 365.6 704.7 365.0 706.9 361.2 708.0ZM370.0 705.2 371.5 707.2 370.2 709.9 367.2 708.9 366.7 706.7ZM427.1 706.3 430.0 705.4 431.9 706.8 429.5 709.3 427.9 708.5ZM106.6 708.9 108.8 710.4 110.0 713.0 107.6 714.2 105.0 712.8 105.2 710.4ZM110.1 710.8 111.0 708.7 113.8 708.9 115.0 710.1 114.3 712.1 112.0 712.1ZM116.8 710.1 119.7 712.8 116.6 714.1 113.9 711.8ZM125.8 709.2 123.7 712.2 120.2 711.2 120.6 708.5ZM131.6 713.0 129.4 711.9 131.3 709.6 135.3 709.4 134.8 712.3ZM136.3 710.1 138.5 710.3 138.8 712.6 137.0 714.4 135.0 712.5ZM139.4 711.2 142.7 709.4 145.7 711.0 143.0 714.0ZM149.6 709.6 151.2 712.4 149.3 713.7 146.5 712.9 147.0 711.0ZM151.0 706.9 153.1 709.3 152.2 711.3 149.7 711.1 149.0 708.5ZM161.5 711.4 163.4 710.0 165.4 711.6 166.3 712.6 164.0 714.2 161.8 714.5ZM184.6 713.3 185.6 710.6 188.7 709.5 190.3 712.8ZM213.2 708.1 215.8 710.3 215.0 712.4 212.3 711.8 210.7 710.4ZM223.4 709.7 222.4 711.8 217.8 711.7 217.5 708.9 220.4 707.8ZM233.4 712.1 229.5 711.4 230.2 709.8 231.8 707.5 233.2 708.4 235.0 710.1ZM233.5 709.2 236.2 707.8 237.1 710.3 234.3 712.6 232.7 711.3ZM240.4 714.9 238.5 713.1 238.8 710.6 241.8 711.1 243.1 712.1ZM267.4 709.3 270.1 708.8 271.8 710.3 271.0 713.1 267.5 713.7 266.4 710.9ZM281.7 708.4 284.2 708.7 286.9 710.0 284.3 712.0 281.5 711.2ZM294.4 714.4 290.1 714.0 290.5 711.2 293.8 711.1ZM301.0 711.2 297.9 713.5 295.5 711.9 295.1 709.6 298.6 708.9ZM352.5 710.7 352.2 712.9 350.7 714.0 348.2 711.9 348.4 709.7ZM364.0 709.9 366.6 710.2 366.4 712.7 362.1 713.2ZM372.7 710.5 370.5 712.5 366.5 710.6 368.7 708.3 370.7 708.2ZM396.8 711.4 396.1 708.4 399.7 707.3 399.9 711.4ZM404.8 709.3 405.0 712.2 401.6 713.2 398.9 711.5 400.5 709.8 402.9 708.5ZM431.2 707.5 432.6 709.6 430.0 711.7 427.0 710.6 427.2 708.0ZM78.7 716.9 76.2 717.9 73.6 716.8 73.5 714.3 77.2 714.2ZM85.8 717.1 82.4 717.7 80.2 716.7 80.7 714.9 82.8 713.8 85.8 713.7ZM85.6 715.8 84.4 713.5 84.3 711.4 88.6 711.6 90.0 714.7ZM100.3 714.9 99.0 717.7 96.5 716.7 98.5 712.7ZM106.9 714.9 104.7 718.2 101.9 717.6 101.7 715.3 103.9 714.3ZM111.2 716.2 107.3 715.6 107.0 712.9 110.1 712.0 112.8 714.4ZM115.7 713.9 117.0 715.7 115.8 716.9 112.6 717.1 112.1 714.4 113.4 714.0ZM117.0 716.9 116.6 715.6 118.3 713.1 122.0 713.6 121.4 716.4 120.5 717.1ZM127.8 716.3 124.6 717.6 121.5 716.5 123.6 714.5 126.0 714.0ZM137.5 715.4 137.4 712.2 140.5 712.2 143.3 713.4 139.9 716.1ZM143.8 713.2 145.8 711.7 149.1 713.4 146.5 715.3ZM162.9 715.1 166.2 713.8 167.6 714.8 167.3 716.6 164.2 717.3ZM206.2 714.9 207.9 712.3 210.0 713.1 210.3 715.2 208.8 715.7ZM212.7 712.5 214.6 711.4 217.5 713.0 214.7 715.6 212.6 714.6ZM238.1 711.7 241.8 711.8 242.0 713.9 240.1 715.7 237.1 714.6ZM258.1 717.7 254.8 715.1 257.0 712.9 259.8 714.1ZM272.4 714.2 273.4 712.1 274.7 711.3 276.6 713.4 276.1 714.8 273.6 715.6ZM295.8 711.8 298.7 712.7 297.7 716.3 294.3 714.5ZM342.1 716.4 339.3 714.3 343.2 713.5 344.7 716.5ZM346.1 712.4 349.0 711.9 348.5 715.1 345.8 716.3 344.4 714.2ZM406.9 716.5 404.5 718.8 401.7 716.5 404.8 714.3ZM406.5 714.3 407.3 712.6 410.2 712.5 411.8 714.8 408.4 716.1ZM414.7 711.6 416.2 713.1 415.5 715.6 413.3 716.5 412.1 713.6ZM71.2 718.0 72.6 715.8 76.2 715.4 77.0 717.3 74.6 719.7ZM78.2 718.2 81.0 717.5 82.3 719.4 80.6 721.6 77.8 722.0 76.0 719.8ZM94.8 719.2 91.6 721.0 89.6 719.5 90.1 716.6 93.5 717.3ZM94.4 720.4 93.4 719.1 91.8 717.4 95.1 716.1 97.5 716.7 97.5 718.6ZM99.9 720.1 95.5 718.1 98.2 716.2 102.4 717.3ZM108.9 719.9 110.1 717.7 113.7 717.4 114.4 720.6 111.9 721.8ZM113.2 717.9 116.0 717.0 116.3 720.0 115.0 721.6 111.8 720.9ZM125.3 718.0 129.0 718.1 129.7 718.7 129.8 721.5 126.8 721.1 125.2 720.2ZM139.4 715.4 139.2 718.3 136.2 719.5 134.1 718.0 136.1 714.9ZM149.1 717.9 147.3 718.8 145.4 717.0 146.4 714.7 148.7 715.4ZM213.6 716.3 212.3 719.2 209.4 719.0 208.2 716.9 210.5 715.0ZM217.9 720.0 214.5 720.3 214.5 717.0 216.3 715.8 218.7 717.7ZM234.3 714.3 237.1 714.4 237.5 717.8 234.8 719.7 232.6 718.5ZM240.9 715.5 242.7 717.3 242.6 719.5 238.4 719.5 237.7 716.9ZM252.8 720.2 250.3 721.5 249.6 718.0 250.8 717.1 254.3 717.8ZM259.3 717.6 256.5 719.6 253.5 717.4 256.3 715.7ZM264.3 719.2 264.6 717.3 266.8 716.4 269.7 717.4 269.5 719.4 265.5 720.9ZM272.0 715.5 273.1 718.2 271.6 720.0 268.0 719.6 268.4 717.3 270.0 715.2ZM282.7 721.6 280.3 720.7 278.1 718.6 280.9 716.9 283.8 717.7 283.8 719.8ZM306.7 715.4 308.7 716.2 310.3 717.6 308.4 719.0 305.7 719.9 304.5 717.6ZM317.0 720.3 315.3 717.2 317.9 715.4 321.6 716.7 320.4 718.9ZM347.8 718.1 346.1 718.8 343.6 718.6 342.4 715.9 345.0 714.4 347.8 715.1ZM349.4 720.1 348.4 717.2 350.9 716.5 353.8 717.6 352.1 720.5ZM407.8 720.1 404.2 719.8 404.4 716.1 407.5 715.3 409.1 717.6ZM413.2 720.4 411.3 719.4 411.2 716.9 414.2 715.9 416.0 717.9ZM95.2 721.9 93.4 723.9 91.9 722.7 91.6 720.5 93.8 719.5ZM98.9 724.7 96.4 724.5 94.6 721.8 99.6 721.1ZM105.9 720.7 105.6 722.3 102.4 722.8 100.6 720.5 103.8 719.2ZM111.0 721.6 111.0 724.1 109.4 724.8 106.0 723.4 107.4 721.5 109.9 720.7ZM116.9 724.8 113.4 725.0 112.8 722.4 114.4 720.1 117.1 722.5ZM123.9 722.4 120.9 722.0 122.0 719.9 124.8 718.8 127.2 720.2ZM137.1 720.7 140.5 720.2 141.9 723.8 137.4 723.7ZM171.6 722.2 167.8 723.6 167.5 720.9 170.3 719.3ZM215.3 721.0 214.9 722.6 211.4 724.3 210.1 722.6 209.8 720.7 211.4 718.8ZM218.8 724.0 215.2 723.7 213.3 722.7 213.9 721.3 217.3 720.6 218.9 721.8ZM266.9 722.4 264.7 724.4 261.4 724.6 260.5 722.5 263.9 721.3ZM288.3 719.9 291.2 720.1 292.8 721.9 290.5 723.2 286.9 723.1ZM308.0 719.7 310.3 717.9 312.5 719.8 309.9 722.9 307.9 722.1ZM334.5 721.9 334.9 723.4 332.3 725.2 330.4 724.0 331.5 721.4ZM339.6 724.0 336.4 724.5 334.4 721.7 336.5 720.5 339.9 722.0ZM355.9 723.6 351.9 725.0 350.2 722.0 353.0 720.2 355.2 720.9ZM356.7 720.1 358.7 719.9 361.5 721.6 359.6 724.3 357.0 723.7 355.2 721.6ZM388.5 720.3 386.7 721.8 384.3 723.3 383.1 721.7 382.5 719.0 385.5 718.5ZM106.7 724.8 107.2 727.7 102.9 726.8 103.3 724.7ZM111.5 724.9 112.3 728.2 108.7 729.1 106.6 727.4 108.6 724.3ZM117.5 723.9 118.9 725.4 117.3 728.2 114.5 725.1ZM122.4 726.4 120.2 727.0 117.8 726.4 118.3 724.6 121.5 723.1ZM143.7 722.5 144.5 724.6 143.7 726.5 140.8 726.3 140.3 723.2ZM143.6 723.4 148.2 722.0 149.6 725.1 146.2 725.9ZM183.6 723.5 185.8 726.3 182.2 728.4 179.4 726.3ZM194.1 727.2 192.0 725.5 192.3 724.2 195.1 723.3 197.8 724.6ZM236.8 724.1 238.7 726.7 235.5 728.5 232.7 727.1 233.4 725.3ZM240.5 724.2 243.7 727.1 240.0 728.2 239.0 726.4ZM255.3 727.8 254.4 725.1 259.0 725.2 259.2 728.5ZM272.9 722.3 275.8 722.6 276.5 725.7 273.8 727.3 272.1 724.9ZM301.1 726.7 299.0 727.4 297.1 727.2 296.6 725.3 298.7 723.2 301.3 725.4ZM338.2 726.9 336.0 727.3 333.7 725.6 333.5 723.5 336.5 722.7 338.4 724.2ZM343.1 725.5 342.9 728.1 340.1 728.6 338.3 727.4 338.7 725.7 342.0 724.2ZM345.5 727.3 342.5 725.3 343.1 722.8 346.7 722.5 346.7 725.4ZM362.7 726.1 360.8 728.2 358.5 726.7 360.2 723.7ZM403.3 724.3 404.6 725.5 402.5 727.6 400.0 726.5 399.2 724.9 401.2 723.1ZM410.9 726.7 412.4 724.4 415.1 723.4 416.4 725.7 414.4 727.4ZM71.4 727.1 73.9 728.9 74.1 732.1 71.2 732.0 68.9 730.3 69.0 728.6ZM92.2 727.0 95.5 727.0 96.1 728.2 94.8 730.6 92.8 730.2 92.0 728.7ZM110.8 728.7 112.0 726.0 115.3 726.2 116.5 729.6 113.4 730.3ZM121.8 728.9 118.5 730.2 116.6 727.7 119.4 726.0ZM135.8 730.1 134.4 732.2 131.1 730.4 132.7 728.3 135.2 727.9ZM171.1 732.5 167.9 732.0 167.0 730.9 168.7 728.4 171.2 728.7 171.2 730.8ZM221.5 727.3 222.4 730.4 218.3 730.1 216.0 729.1 219.1 726.8ZM246.0 729.8 244.8 732.1 241.5 731.5 241.3 728.1 243.5 727.4ZM248.4 727.7 250.8 726.6 251.9 730.4 250.1 731.7 246.7 729.2ZM253.3 727.8 254.2 729.2 255.4 731.6 252.7 733.0 250.8 732.0 249.7 730.2ZM261.6 726.1 263.4 728.6 259.6 730.6 257.7 728.5 258.9 726.2ZM266.6 732.2 264.0 730.7 264.9 728.9 266.7 728.2 269.0 730.2ZM272.1 731.2 268.3 732.8 266.8 729.6 268.6 728.0 271.5 728.1ZM270.7 729.6 272.7 727.9 275.0 727.6 275.6 730.0 274.1 731.7 271.2 731.4ZM306.4 729.3 304.8 731.7 302.8 730.3 302.6 727.7 304.1 726.2 307.1 728.0ZM319.3 730.4 317.5 732.1 314.1 731.5 314.5 728.7 317.2 728.4ZM323.2 725.5 325.2 728.8 321.9 730.7 321.2 728.2ZM345.0 728.0 344.6 730.8 341.7 731.3 340.4 729.7 341.7 728.0ZM370.5 732.8 369.2 730.6 370.4 728.5 373.4 728.8 374.6 731.7ZM385.6 728.9 384.6 731.1 380.9 730.6 380.3 728.8 383.9 727.4ZM390.5 728.5 392.5 726.6 394.7 728.4 394.2 731.0 390.8 730.8ZM402.8 728.3 405.6 728.3 406.5 730.5 403.5 731.5 401.8 731.6 400.8 729.9ZM413.1 731.2 410.9 732.2 408.2 729.6 410.4 727.3 414.1 728.7ZM415.8 726.1 420.1 728.1 416.7 731.2 413.6 729.3ZM425.4 725.7 427.1 728.9 425.5 730.6 422.8 728.4ZM118.9 731.9 122.7 732.3 124.1 735.0 121.2 736.8 118.6 735.6ZM143.7 730.1 143.1 732.2 140.7 733.9 138.5 733.3 138.3 730.0 142.0 728.7ZM163.2 732.4 163.0 735.5 158.9 735.4 160.3 732.5ZM170.4 732.4 168.1 733.7 164.9 732.2 165.8 730.4 170.2 730.2ZM171.5 731.1 173.8 733.4 172.9 735.3 170.6 735.8 169.1 733.3ZM194.0 730.8 196.9 731.7 195.4 733.5 194.1 735.6 190.6 733.9 190.6 732.0ZM196.2 734.8 198.1 732.3 200.3 732.1 202.4 734.4 200.5 735.6ZM223.7 731.0 226.6 729.5 230.0 732.3 226.7 734.7ZM237.3 735.3 233.6 733.4 236.1 730.9 239.0 731.3 240.0 734.0ZM255.8 730.0 259.0 729.0 260.0 732.4 258.1 733.8 255.3 732.1ZM259.2 731.8 260.1 728.9 264.3 729.3 263.9 731.6 262.9 732.9 260.2 733.0ZM263.3 731.5 266.8 732.1 267.7 734.0 265.5 735.1 262.7 734.3ZM273.7 733.8 273.1 736.2 269.8 736.0 268.9 733.8 270.3 732.5 272.5 731.6ZM299.9 730.5 303.2 731.5 305.5 732.4 303.0 735.1 300.7 734.8 299.1 732.2ZM309.3 735.5 306.4 732.4 309.1 731.3 312.2 731.8 312.6 734.1ZM334.6 731.2 337.9 731.6 335.9 734.0 333.5 734.9 331.7 732.7ZM338.1 732.0 341.9 731.7 344.2 733.6 340.5 735.7ZM345.3 731.1 348.2 731.6 350.0 733.2 348.4 735.3 344.9 734.0 343.5 733.3ZM375.2 733.4 371.6 734.6 368.3 732.9 370.1 730.2 372.8 730.0ZM380.6 734.9 379.7 733.4 381.4 730.3 384.1 731.0 385.2 733.1 383.6 734.3ZM399.0 732.3 399.3 729.9 402.2 730.1 404.2 731.8 402.4 733.8ZM403.4 734.4 405.0 732.3 408.4 733.1 406.9 735.4ZM412.3 735.1 411.2 734.0 411.1 731.4 412.7 731.0 416.0 732.1 416.3 733.5ZM420.4 731.2 418.4 733.4 416.0 732.6 415.8 730.2 418.6 729.0ZM422.0 735.9 421.2 733.1 424.7 731.4 424.8 734.5Z" fill="#141418"/><path d="M84.6 662.4 87.2 661.8 87.6 664.6 84.8 664.8ZM119.0 662.2 121.4 664.2 120.0 665.3 116.8 665.7 116.1 663.8 117.0 661.9ZM139.9 662.8 143.8 661.9 145.4 664.8 142.0 666.4ZM158.0 663.0 157.7 664.8 155.2 664.6 152.2 663.5 152.6 661.7 156.3 661.2ZM158.3 664.0 157.2 662.3 159.4 661.5 162.0 660.8 163.6 663.8 160.9 664.6ZM166.9 664.0 168.4 665.7 164.7 667.7 163.9 665.3ZM166.3 664.5 169.2 664.0 170.5 663.7 172.4 666.0 170.0 666.9 167.9 667.5ZM184.7 662.7 188.4 663.2 185.7 666.3 182.8 665.0ZM282.7 663.2 280.3 666.1 278.0 662.4 280.7 661.3ZM329.9 665.6 330.5 663.1 331.9 662.1 334.4 664.0 334.2 664.8 332.1 666.7ZM335.0 661.1 339.5 662.4 338.6 664.8 334.1 665.4 333.0 663.1ZM374.0 664.1 375.4 662.4 378.4 661.5 380.6 663.6 378.4 665.1ZM385.0 661.6 386.9 664.2 384.1 664.4 381.6 664.9 382.3 661.9 382.9 660.8ZM409.0 664.7 407.2 666.3 403.9 665.2 403.5 663.7 405.3 662.9 408.3 662.9ZM157.1 670.5 156.5 667.9 158.4 666.9 160.8 667.5 159.7 669.5ZM187.7 667.4 190.4 665.0 192.8 665.4 191.6 668.4 190.1 669.0ZM194.0 670.7 191.0 669.5 191.4 665.8 194.0 667.4ZM267.0 665.5 269.1 666.0 269.3 668.5 267.7 669.7 265.5 669.5 264.5 667.0ZM275.2 668.5 272.3 670.5 269.5 670.1 269.4 667.4 273.0 667.4ZM296.1 666.1 296.2 668.5 293.0 668.2 291.8 666.3 293.2 664.3ZM309.9 666.8 309.6 664.8 313.0 664.5 314.6 664.8 314.7 666.9 312.3 669.1ZM321.0 668.6 321.9 670.6 318.8 670.8 317.5 669.9 317.5 668.0 319.5 666.3ZM330.2 667.0 330.5 668.8 328.1 669.4 326.0 667.5 327.5 665.8ZM335.3 670.4 334.5 666.4 338.1 665.6 337.8 668.9ZM357.0 665.6 355.9 667.6 351.7 668.2 350.3 665.2 353.2 663.8ZM374.0 667.1 377.1 666.5 378.4 669.1 376.4 670.6 373.1 670.2 372.6 668.3ZM408.9 666.3 411.6 668.8 410.0 670.3 405.4 668.9 406.9 666.3ZM410.2 671.2 408.3 668.5 409.7 667.1 413.4 666.3 414.0 667.7 412.1 669.7ZM93.5 674.2 90.1 673.6 90.7 671.4 94.6 670.4ZM95.1 670.5 96.9 667.8 100.9 670.9 97.3 672.2ZM154.2 671.5 153.8 668.7 156.1 669.3 158.1 670.8 157.9 672.6ZM180.9 672.2 177.5 673.5 174.8 672.4 175.8 669.7 179.8 669.4ZM182.7 674.6 180.3 673.9 180.0 671.2 182.4 669.8 184.2 671.6ZM186.6 673.9 183.4 673.4 183.4 671.6 183.6 670.0 185.6 670.1 188.1 672.2ZM216.9 669.1 220.0 668.9 221.8 670.4 221.2 672.4 218.2 673.8 216.4 672.0ZM236.0 672.4 237.8 670.9 240.4 669.8 241.3 672.2 240.6 674.5 238.4 673.9ZM247.2 673.6 245.7 671.2 248.7 670.0 250.8 670.0 250.2 672.7ZM313.4 669.5 316.0 672.0 313.6 673.3 310.6 672.0 311.4 669.6ZM344.3 668.4 346.8 671.8 342.5 672.3 340.6 669.1ZM345.0 668.6 350.1 668.1 350.3 671.6 346.9 672.4 345.3 670.7ZM393.5 672.7 393.9 671.2 397.2 670.7 397.8 672.6 396.6 674.9ZM418.7 670.0 422.2 669.0 424.3 670.7 421.0 673.1ZM427.1 670.9 424.9 672.4 423.7 670.5 423.9 668.2 427.9 668.2ZM107.1 677.2 104.4 675.5 105.7 672.9 110.0 674.6ZM152.0 676.1 150.5 673.7 151.8 671.9 154.5 672.2 156.5 674.0ZM171.1 676.3 169.9 678.0 165.9 676.2 167.1 674.5 170.1 674.0ZM205.8 676.5 206.3 673.4 210.6 673.3 209.7 677.6ZM300.4 673.1 303.1 672.6 305.3 673.2 303.2 677.0 299.5 676.1ZM314.0 675.8 312.0 675.5 311.4 672.9 314.0 671.9 316.2 673.8ZM341.8 676.6 341.6 674.2 345.0 673.1 346.4 674.9 344.8 677.5ZM358.3 672.3 357.4 674.6 357.2 676.3 353.8 675.2 353.9 672.9 355.2 671.3ZM105.4 679.7 103.0 680.4 101.1 678.4 102.1 676.4 105.3 676.6 106.0 678.8ZM108.1 675.8 111.2 676.2 110.0 678.5 107.3 680.0 106.0 677.9ZM178.5 678.3 183.2 677.6 184.5 680.0 182.0 681.6 179.0 680.9ZM208.3 681.7 206.0 680.1 206.0 678.8 208.4 677.2 210.6 678.5 210.7 680.6ZM73.0 683.4 70.8 681.7 72.3 680.6 73.7 679.7 76.8 681.8 75.7 683.9ZM138.0 680.1 138.7 682.2 137.5 682.8 133.8 683.2 133.9 680.6 136.2 678.9ZM161.6 682.0 163.0 680.3 165.5 679.9 167.1 681.5 165.8 684.4 164.0 684.3ZM295.4 683.1 291.1 682.9 291.6 679.9 295.5 678.9 296.4 680.9ZM314.8 680.1 318.0 680.6 316.6 683.2 313.8 684.5 313.3 681.6ZM337.1 683.8 338.3 681.5 340.3 681.1 341.7 683.4 339.8 684.7ZM411.8 684.4 408.3 683.0 409.2 680.7 411.0 680.0 413.3 682.2ZM82.8 685.6 84.9 687.5 81.9 688.5 79.6 688.3 79.5 684.9ZM148.3 687.1 148.3 685.4 150.3 683.7 151.8 685.0 151.4 686.9ZM152.1 686.8 150.9 683.3 153.6 682.6 156.8 683.0 156.3 685.0 154.8 687.0ZM185.2 688.6 183.8 687.7 183.0 686.1 186.5 685.2 188.3 685.6 187.9 688.5ZM193.5 683.3 194.6 686.3 191.4 685.9 190.0 684.4 190.3 682.2ZM201.3 682.3 203.5 684.1 203.8 685.1 202.4 686.5 199.8 686.0 199.2 683.8ZM258.8 684.3 260.1 685.8 260.2 687.9 257.1 688.0 256.5 686.1ZM271.4 683.0 270.9 686.0 267.2 686.1 265.9 683.4ZM309.9 684.1 312.8 683.5 315.5 685.5 312.8 686.4 310.2 685.6ZM387.4 685.8 384.1 686.6 382.9 685.0 382.7 682.9 386.2 682.4 387.5 683.3ZM393.1 683.0 396.2 683.7 396.9 686.2 393.3 686.8 391.5 685.0ZM397.9 684.5 399.9 685.9 400.3 688.5 396.5 687.6 396.6 685.7ZM411.4 686.4 413.3 684.0 416.3 684.4 417.1 685.6 417.2 687.4 414.2 688.3ZM144.4 690.3 146.3 686.8 149.4 686.9 149.5 691.0ZM155.2 690.7 153.3 692.2 151.7 689.7 152.2 688.1 154.5 688.0 156.3 689.3ZM179.5 689.6 176.2 688.9 178.1 686.9 181.5 685.9 181.0 688.9ZM244.3 690.8 244.2 689.0 245.9 686.6 248.4 688.4 247.3 691.6ZM286.1 690.2 285.0 692.9 282.2 691.8 280.2 691.0 281.4 688.6 284.7 687.8ZM300.9 688.2 300.8 686.1 303.6 686.3 306.2 688.0 304.7 689.7 302.4 690.7ZM391.4 691.7 388.0 691.0 390.0 688.3 392.0 687.4 394.0 689.3ZM74.8 695.2 70.9 696.3 71.0 692.5 73.3 692.6ZM95.9 691.9 96.8 694.1 92.2 695.7 90.7 693.2 91.9 691.6ZM120.9 694.1 116.7 695.4 115.6 691.7 119.0 691.4ZM143.0 690.3 145.0 691.3 145.3 693.0 143.6 694.1 140.6 693.3 139.8 691.5ZM159.5 696.2 156.0 695.9 155.0 693.5 158.0 692.2ZM188.4 690.5 192.6 690.1 192.9 692.1 190.4 694.1 187.6 692.7ZM269.8 693.0 269.3 690.8 271.2 689.5 273.5 690.4 273.1 693.0ZM276.9 694.5 272.4 695.7 271.3 692.3 274.9 690.7ZM287.7 694.4 285.5 695.0 281.6 694.2 283.7 692.6 286.0 691.7ZM301.0 691.6 303.8 692.2 303.0 694.9 300.4 696.3 298.1 693.3ZM343.5 692.0 344.5 693.4 344.1 695.9 342.8 696.8 340.5 695.3 339.9 692.6ZM383.0 691.7 386.4 693.1 386.8 695.3 382.8 695.8 381.5 694.0ZM388.9 694.0 385.4 692.6 386.5 691.2 388.0 689.5 389.8 690.1 391.3 692.4ZM87.1 697.6 85.5 698.3 83.4 696.7 84.7 694.0 87.8 694.0 89.4 695.5ZM97.4 696.4 98.3 694.4 102.0 695.4 100.2 698.5 97.7 699.1ZM114.5 696.7 114.6 698.7 113.7 700.0 110.7 698.9 109.8 696.1 112.1 695.8ZM122.8 698.7 120.2 699.3 116.9 698.1 117.9 696.0 121.4 695.2ZM128.8 696.8 126.1 699.1 123.6 697.1 124.3 694.3 127.4 694.9ZM143.7 698.2 140.6 695.3 142.7 693.9 146.6 694.7 145.2 697.1ZM163.4 696.6 164.5 698.3 163.0 700.6 160.8 698.5 160.9 696.4ZM181.1 696.9 179.3 697.5 177.1 697.2 176.7 695.6 177.4 693.2 180.0 694.7ZM206.1 695.8 207.1 698.9 204.1 700.3 200.5 697.8 202.6 695.1ZM231.6 696.0 233.9 698.0 231.6 699.8 227.6 699.2 227.5 696.7 228.5 695.1ZM254.2 697.1 257.2 695.4 259.4 697.2 259.3 698.9 256.2 699.7ZM284.1 696.9 284.0 694.4 288.1 694.5 288.4 698.4 286.3 698.4ZM294.6 693.9 295.7 696.0 294.6 697.9 291.1 697.1 291.8 694.2ZM373.0 698.3 370.6 696.7 371.5 694.9 374.4 695.0 375.7 696.4ZM392.9 698.9 394.2 696.7 397.2 696.0 399.3 697.1 396.7 699.3ZM412.8 699.5 411.5 698.2 411.8 696.0 415.5 696.5 416.8 698.2ZM94.0 699.1 94.5 701.0 90.4 702.1 89.6 699.0 91.7 697.2ZM114.9 701.1 114.3 699.5 117.2 698.8 119.0 699.3 120.5 701.2 116.9 701.8ZM123.5 702.6 122.0 700.1 124.1 698.1 127.0 700.3 126.9 702.0ZM128.2 696.9 131.1 697.6 133.5 699.2 130.7 700.9 128.9 701.4 127.7 698.6ZM134.1 699.0 137.0 698.9 137.8 701.1 134.9 702.4 133.0 700.5ZM158.9 699.5 156.0 702.1 153.1 701.0 153.5 697.4 157.6 697.0ZM187.4 699.4 188.6 701.9 185.9 702.0 183.8 701.4 184.7 698.2ZM199.3 703.0 195.9 701.5 196.2 699.7 198.1 698.9 200.0 700.7ZM223.7 703.1 220.6 701.3 223.2 699.7 226.4 699.5 225.8 703.1ZM230.4 698.1 230.2 700.5 228.0 700.4 225.3 698.1 228.3 697.0ZM234.2 699.6 236.3 699.5 237.0 701.3 235.2 702.9 233.4 702.3 232.1 700.2ZM275.8 700.0 278.6 698.7 280.5 699.5 280.1 702.0 276.4 701.8ZM361.0 697.2 361.1 699.5 357.8 700.7 356.8 698.6ZM391.8 700.0 393.4 698.8 395.5 700.1 395.5 701.3 394.2 702.7 392.4 701.8ZM403.4 698.9 405.3 696.9 407.5 697.6 407.7 700.3 404.9 700.9ZM418.8 702.5 415.9 703.3 413.0 701.7 415.1 699.1 417.7 700.1ZM423.8 700.7 424.1 703.4 420.2 702.8 420.2 700.3 421.6 699.2ZM83.2 703.0 85.4 701.5 88.9 701.1 90.2 703.5 88.2 705.2 85.6 704.9ZM89.9 706.7 88.2 704.2 89.4 703.8 92.7 702.8 93.2 704.9 92.0 706.8ZM108.3 706.2 104.9 705.4 106.7 702.7 109.7 703.8ZM107.9 703.0 110.1 702.1 111.8 702.8 111.9 705.8 108.9 706.2 106.1 704.2ZM116.1 701.8 119.8 704.1 117.1 706.0 113.9 705.4ZM126.9 702.0 128.9 700.4 132.7 701.9 132.7 705.1 129.5 705.1ZM138.1 702.3 140.1 704.1 139.8 707.1 134.8 704.8ZM158.4 699.8 160.2 702.3 158.2 704.4 156.4 703.4 156.1 701.3ZM176.6 704.7 174.2 707.3 172.5 704.7 174.0 703.4ZM244.2 705.3 241.1 706.2 239.8 704.6 241.9 701.3 245.2 703.0ZM270.8 705.5 270.7 704.0 273.0 702.6 276.2 703.9 274.9 705.8 272.1 706.9ZM337.8 703.5 335.3 705.9 333.4 705.0 332.5 701.9 335.9 701.2 338.4 701.2ZM362.0 707.3 359.3 706.8 359.9 703.8 361.9 702.9 364.0 705.3ZM367.5 702.5 369.5 706.0 367.0 707.5 365.3 704.2ZM405.3 702.2 404.0 704.3 400.8 704.1 399.8 701.6 402.1 700.6ZM414.9 702.1 417.4 701.6 417.8 704.2 414.3 704.5ZM426.9 703.9 427.7 702.3 430.1 699.7 431.8 701.7 430.8 705.1ZM90.1 709.2 87.7 710.2 84.7 708.8 85.9 706.3 88.2 706.9ZM91.8 708.8 89.9 707.7 89.9 705.7 93.0 704.5 94.1 707.0 93.1 709.7ZM127.6 704.0 129.8 704.0 131.6 706.7 129.8 708.5 126.6 708.2 125.7 705.2ZM151.8 709.8 147.6 710.5 147.8 708.1 150.4 706.1 151.5 707.6ZM164.0 706.8 161.9 709.3 158.8 709.0 158.8 705.0 162.0 705.6ZM171.8 707.0 172.6 710.3 169.6 710.8 167.4 708.5 169.9 706.7ZM177.3 707.5 176.6 710.3 172.6 709.3 174.9 705.2ZM186.5 704.5 187.7 705.3 187.3 708.1 185.4 708.7 182.5 707.7 184.5 705.1ZM193.4 707.4 193.2 709.0 190.6 710.0 188.3 709.1 188.8 706.2 190.9 706.2ZM281.2 709.1 276.7 708.5 277.5 706.3 281.8 706.2ZM325.4 708.5 323.6 706.5 326.4 704.2 328.0 706.7ZM355.3 709.5 351.3 708.4 354.2 706.0 356.9 706.7ZM355.9 709.4 355.1 706.9 358.7 706.0 360.3 708.4 358.0 710.9ZM386.4 710.0 385.7 707.5 389.1 706.7 391.9 707.9 390.1 711.1ZM396.4 705.4 395.7 707.9 394.0 709.1 390.9 707.1 393.4 704.7ZM412.7 704.6 415.5 704.3 416.7 707.4 414.4 708.7 412.3 708.1 411.6 706.7ZM420.1 704.2 421.9 705.7 421.8 707.7 419.4 709.1 417.3 706.2ZM424.0 704.2 427.6 705.8 425.6 708.7 423.0 707.4ZM73.4 712.8 70.8 711.7 72.0 709.2 75.7 710.2ZM87.3 709.1 89.3 710.9 86.9 713.0 83.5 712.5 84.4 709.9ZM87.3 710.8 90.0 709.1 92.7 708.9 92.9 712.5 89.0 712.4ZM105.0 709.1 104.7 710.8 101.1 712.0 99.0 709.9 101.6 707.5ZM155.1 713.6 153.2 712.7 154.6 710.0 157.4 710.8 158.9 712.4 158.4 713.9ZM165.9 712.3 163.1 710.7 167.1 708.9 168.6 710.9ZM174.8 711.6 171.6 710.8 172.6 708.4 175.8 708.6 177.7 710.1ZM177.2 711.7 177.8 709.0 180.2 709.1 181.5 710.6 178.7 712.5ZM190.8 712.2 192.7 709.6 196.7 712.1 193.1 714.8ZM204.5 710.5 207.4 710.2 208.0 712.4 207.3 713.8 204.8 714.5 203.4 712.4ZM214.3 711.5 213.4 713.5 210.0 714.4 207.9 711.5 208.6 709.5 211.5 710.1ZM246.6 707.7 250.2 710.1 249.0 711.8 246.4 711.4 245.4 710.0ZM259.2 712.4 260.6 709.6 263.3 708.1 264.7 710.4 263.3 712.2ZM274.8 710.9 272.7 712.4 268.4 711.5 271.0 709.6 274.4 709.1ZM353.1 708.6 356.4 709.3 356.5 712.4 354.3 711.9 352.2 710.2ZM362.4 711.2 359.9 712.6 357.4 711.2 358.0 709.4 361.2 708.5ZM416.0 711.3 413.8 711.9 412.2 711.2 411.5 709.0 414.5 708.5 416.1 709.3ZM72.6 717.2 70.2 714.9 71.6 713.2 73.6 713.4 74.8 716.3ZM158.9 714.2 159.0 717.2 154.2 716.7 155.7 713.4ZM219.5 715.1 217.0 715.1 215.4 711.9 218.9 711.9 220.5 713.1ZM245.3 717.7 240.9 717.4 240.0 715.4 242.6 713.1 245.8 715.8ZM279.6 713.4 281.5 716.3 277.6 716.2 276.6 713.5ZM294.2 713.8 294.1 715.6 290.7 714.9 289.8 714.3 290.6 711.8 293.0 711.9ZM332.0 712.6 334.9 716.3 331.0 717.6 328.8 714.5ZM366.8 714.8 369.6 712.0 372.4 713.2 371.2 715.4ZM389.2 716.7 386.8 715.5 388.8 712.8 390.8 713.2 392.3 715.9ZM425.6 712.4 426.9 714.5 426.6 717.1 423.5 716.0 422.2 713.6ZM110.1 716.6 107.5 718.7 104.4 717.0 106.5 714.7ZM119.8 714.8 124.4 716.4 122.1 718.8 118.1 717.3ZM129.2 716.7 133.7 716.5 134.5 718.9 131.0 719.4ZM174.4 716.8 176.2 718.3 175.5 720.0 172.5 720.0 171.5 718.0ZM305.4 719.1 303.8 718.7 302.1 716.0 303.5 714.3 306.9 715.1 307.3 717.4ZM315.5 716.5 314.7 718.5 310.3 718.2 312.3 714.3ZM356.8 720.2 352.2 719.1 353.6 716.6 356.9 716.2ZM118.3 722.1 120.4 719.7 122.6 721.6 121.1 724.3ZM131.6 721.6 130.7 720.3 134.2 719.4 135.9 721.5 135.3 722.6 132.6 723.8ZM224.8 724.3 222.1 724.8 219.6 723.3 221.7 720.8 224.3 721.7ZM308.0 723.3 302.6 723.5 304.0 720.0 307.3 720.1ZM321.8 719.8 322.6 723.5 317.9 723.3 318.2 720.0ZM381.3 719.6 381.7 721.8 380.5 724.2 377.3 722.9 377.5 721.7 379.2 719.0ZM72.4 725.8 71.4 724.2 74.1 722.8 75.7 723.5 77.7 724.6 73.9 726.9ZM80.5 726.8 77.5 725.7 76.9 724.3 77.6 722.5 80.3 723.5 81.0 724.6ZM101.2 726.8 98.2 726.1 100.0 723.8 102.4 723.8 103.8 726.4ZM216.2 726.5 212.2 728.5 210.1 725.6 213.8 724.0ZM222.3 726.6 218.6 728.1 217.5 724.9 220.2 723.1ZM251.2 729.3 248.5 728.0 250.5 724.1 253.3 725.9ZM306.5 727.3 305.9 724.5 308.5 723.7 311.2 725.1 310.8 727.2ZM312.6 727.7 312.7 725.4 314.2 724.2 317.2 724.6 317.2 726.5 315.7 728.7ZM348.2 725.7 347.6 723.8 350.2 722.7 352.7 724.7 349.7 726.4ZM354.9 722.8 357.9 722.5 359.3 724.1 358.5 725.6 356.5 726.5 354.5 724.8ZM368.2 725.6 370.5 724.2 373.7 726.2 370.1 727.7ZM397.4 723.7 399.3 726.5 397.3 728.7 394.6 727.4 395.2 724.8ZM80.8 730.6 77.2 730.4 76.2 727.4 77.9 725.7 80.7 727.7ZM102.0 728.1 104.1 727.5 104.4 730.1 104.0 732.3 100.7 731.8 99.7 729.0ZM131.8 731.0 127.4 728.7 130.6 727.0 134.5 729.1ZM145.5 732.3 142.8 730.9 143.4 729.3 145.8 728.3 148.8 730.1ZM166.9 726.6 169.1 730.2 166.7 731.9 163.2 730.1 163.1 727.5ZM195.7 729.9 194.3 729.5 193.9 727.6 195.4 725.9 198.1 727.3 197.7 729.3ZM213.3 731.4 210.3 731.7 208.4 729.5 209.4 727.7 212.3 727.0 214.7 728.9ZM233.6 726.4 236.0 729.2 233.5 731.6 231.0 729.9 229.8 727.3ZM331.7 727.0 333.2 728.8 333.8 731.0 331.0 732.1 329.2 729.9 328.5 727.8ZM349.4 730.5 347.2 731.6 344.3 730.4 345.5 728.3 347.7 728.3ZM423.8 730.1 420.8 729.4 420.0 726.4 424.7 726.7ZM88.6 732.4 88.4 730.2 92.3 729.7 93.4 732.7ZM96.0 733.3 94.1 732.1 92.7 730.1 95.8 729.6 98.1 730.5 98.9 732.6ZM248.9 731.3 247.9 734.3 243.9 733.5 245.1 730.4ZM290.5 732.6 291.7 731.0 294.5 730.5 296.7 731.8 295.1 733.9 293.6 734.9ZM378.5 731.7 378.3 734.6 375.8 735.1 373.9 734.3 373.3 732.0 375.2 730.5Z" fill="#2e2f36"/><path d="M134.6 665.3 131.9 663.8 133.1 661.3 135.5 661.4 137.6 662.3 137.4 664.6ZM138.7 666.5 136.7 665.7 137.0 663.4 139.0 662.5 140.6 664.1ZM182.6 662.2 184.3 664.8 183.8 666.6 180.5 665.8 179.2 664.7 180.7 663.1ZM194.7 664.4 192.4 662.6 194.9 661.4 197.6 663.5ZM258.5 664.2 259.7 666.7 256.1 666.9 255.5 663.8ZM326.7 666.7 323.1 665.4 323.5 663.3 327.0 663.2 329.0 665.3ZM346.1 665.2 346.1 663.3 350.6 662.7 349.1 665.6ZM413.3 662.7 416.3 662.7 418.9 664.1 416.8 666.5 414.4 665.0ZM109.0 669.3 106.1 670.4 105.6 667.7 107.5 666.9 109.5 667.8ZM146.1 668.9 143.6 669.3 141.4 668.8 141.5 667.0 143.4 666.6ZM233.6 668.5 234.7 666.2 238.0 667.7 237.5 670.3 234.9 671.1ZM286.7 670.9 284.7 670.2 285.6 667.4 287.6 667.4 288.9 669.1ZM298.9 668.5 299.2 666.5 302.2 665.8 304.5 666.5 302.1 668.5ZM323.6 668.6 323.7 666.3 326.5 665.7 327.8 668.3 325.6 670.3ZM346.7 670.6 344.6 669.8 344.7 667.2 347.7 666.7 349.8 669.1ZM387.7 670.6 384.5 670.7 383.2 669.8 384.0 667.0 385.6 666.7 388.0 668.4ZM131.1 669.5 133.4 670.5 130.5 672.4 128.4 672.2 127.4 670.3 129.1 669.2ZM146.9 669.6 151.4 670.1 150.2 673.5 145.9 672.4ZM157.3 672.3 157.3 670.1 160.4 669.4 162.5 671.7 161.4 672.7ZM168.5 668.4 169.0 670.2 166.3 671.8 163.0 671.4 164.1 668.4ZM172.4 669.6 174.6 670.7 173.2 674.0 171.5 674.2 168.5 672.0 169.6 670.6ZM196.2 673.4 194.6 672.1 196.1 670.4 198.4 670.4 198.8 672.7ZM205.2 673.6 203.6 671.8 206.4 670.6 207.9 670.8 209.2 672.9 208.0 673.9ZM251.3 672.5 252.6 670.4 256.0 670.5 255.9 672.8ZM261.6 672.3 258.5 673.2 255.7 672.3 257.0 669.3 258.4 669.2 261.2 670.6ZM271.3 671.4 269.4 672.3 266.1 672.1 266.1 670.1 269.5 669.4 270.6 669.9ZM292.0 673.3 290.1 674.1 286.4 672.9 286.1 671.1 290.2 670.0ZM324.2 672.5 321.6 671.0 321.6 668.4 324.8 668.4 326.1 670.6ZM405.5 670.8 405.6 673.1 403.6 673.8 400.8 672.4 401.6 670.0ZM412.8 674.4 411.5 672.3 412.8 669.7 415.4 672.3ZM92.0 676.9 88.5 675.8 89.1 673.8 93.2 673.1 95.0 674.9ZM139.7 673.6 142.7 672.8 144.2 675.6 142.2 677.4 139.4 676.5ZM236.0 673.3 235.5 675.2 232.6 676.1 232.1 674.0 234.0 671.8ZM246.9 671.2 249.8 671.9 249.8 674.3 247.9 675.1 245.6 674.3ZM287.2 676.3 285.6 674.4 287.6 672.8 290.7 673.3 291.5 675.9 289.1 677.4ZM306.5 675.8 305.5 673.1 309.8 672.9 311.0 675.0 308.8 677.1ZM393.3 676.6 390.0 676.3 391.6 672.8 395.2 673.0ZM400.4 675.6 398.5 677.6 396.2 677.9 395.8 674.9 397.3 673.6 400.0 674.6ZM415.0 677.0 411.8 678.2 409.0 676.6 411.5 674.6 414.2 674.4ZM68.3 680.7 69.3 678.5 72.5 679.1 71.7 681.6ZM223.3 680.2 219.8 679.1 219.8 675.8 222.7 676.8ZM232.8 679.8 233.6 676.9 235.7 677.0 237.0 680.0 235.4 680.5ZM235.9 678.9 236.9 676.5 239.3 676.5 241.7 679.0 239.1 679.5ZM253.4 677.8 254.8 679.9 251.9 681.8 249.7 679.8 251.8 678.3ZM262.1 678.2 266.8 678.4 266.2 680.8 262.4 681.1ZM291.1 678.3 288.1 679.0 286.7 677.2 288.9 675.6 291.3 676.1ZM305.3 678.9 306.9 677.7 309.6 679.2 307.5 681.1ZM332.6 678.1 329.2 678.9 327.9 675.7 333.2 675.9ZM389.2 676.3 392.9 678.6 391.4 680.5 387.4 680.2 386.9 677.5ZM429.5 677.4 432.7 677.4 435.1 679.5 433.2 680.4 430.4 680.7ZM150.5 682.3 150.4 685.5 146.1 684.1 147.7 682.0ZM160.7 681.0 159.9 684.1 157.3 683.2 157.6 681.5ZM213.7 680.4 217.1 679.8 217.8 681.8 215.3 683.8ZM229.8 684.5 227.4 682.7 229.2 680.5 231.9 681.9ZM236.8 681.4 239.0 680.0 242.7 680.2 242.8 682.8 239.5 683.1ZM269.8 679.4 273.3 679.5 274.6 681.6 271.4 683.2 269.5 681.9ZM358.9 684.1 355.3 684.7 355.3 682.6 357.2 680.7 358.8 682.7ZM388.9 681.9 387.5 683.0 384.9 683.8 383.6 680.5 386.4 679.2ZM88.9 688.0 86.6 687.4 86.6 684.9 88.8 684.7 91.0 685.3 91.5 687.9ZM98.6 687.5 95.5 685.9 98.8 684.5 100.3 686.2ZM179.0 688.0 175.2 688.0 176.9 684.8 179.2 685.3ZM217.5 683.4 218.8 685.0 217.1 687.4 215.1 685.3 215.6 682.7ZM246.0 684.2 246.3 686.8 243.5 687.9 241.7 686.7 242.3 683.9ZM272.6 686.7 271.7 684.5 274.7 683.5 276.7 683.9 276.9 686.7ZM287.1 684.9 285.2 685.8 283.1 686.3 280.6 685.6 282.0 683.9 284.0 682.8ZM408.7 686.3 408.9 683.5 410.7 683.2 413.8 684.8 412.8 687.1 410.9 686.9ZM82.8 686.8 85.9 685.7 87.5 688.8 86.1 690.1 82.6 689.2ZM92.8 690.5 91.6 692.1 88.6 691.4 87.7 689.1 90.0 688.8 91.6 688.9ZM109.5 689.0 106.7 690.3 105.3 688.1 107.0 686.3 110.2 687.3ZM226.1 686.6 228.0 687.7 229.1 689.2 227.1 690.7 225.1 689.5 223.6 687.8ZM272.9 690.8 271.9 688.0 273.5 686.7 275.8 687.6 276.0 688.9ZM378.8 691.1 374.4 689.3 375.7 687.3 378.0 686.4 380.7 689.6ZM385.0 689.5 383.3 691.2 380.4 690.3 379.3 689.1 382.3 687.8 383.9 688.6ZM410.8 688.1 410.6 690.1 406.6 690.2 405.7 687.1 407.8 686.5ZM80.1 695.3 78.4 694.0 80.8 691.4 83.2 692.4 84.8 693.8 83.5 695.7ZM157.4 694.6 159.3 692.5 161.6 691.9 162.9 694.4 161.3 695.3ZM96.9 696.1 98.2 698.3 95.6 699.3 93.5 698.2 92.5 696.7 94.6 695.9ZM117.5 696.1 114.8 697.7 112.3 697.2 113.5 694.2 116.7 694.1ZM163.7 696.3 163.8 693.9 167.5 692.8 168.3 694.8 169.1 696.2 167.0 696.9ZM196.5 697.7 200.8 696.2 202.2 698.1 198.4 700.0ZM302.9 694.6 306.0 694.9 307.2 697.2 304.5 699.2 301.4 697.2ZM317.0 697.5 319.9 695.2 321.8 697.5 321.6 699.2 318.1 699.6ZM330.1 694.9 332.8 695.0 334.3 697.3 330.3 698.6 328.1 697.6ZM361.8 697.6 363.4 694.2 365.8 695.1 367.3 697.4 363.9 699.5ZM109.5 701.8 106.9 701.1 108.0 698.5 111.3 698.3 111.6 701.3ZM148.1 696.9 151.0 699.1 149.5 700.4 146.3 700.6 145.9 698.5ZM168.3 698.9 166.6 701.4 163.6 701.0 162.6 699.8 164.5 697.8 165.7 698.0ZM257.8 697.7 260.9 699.7 258.0 701.0 255.8 701.6 254.9 698.4ZM300.3 699.7 303.5 698.5 303.7 700.9 302.3 702.1 298.9 701.6ZM74.2 705.9 72.7 704.4 71.9 703.0 75.4 702.3 76.2 703.1 76.1 706.1ZM161.2 703.1 163.7 701.0 166.1 703.8 164.2 705.5 161.2 705.3ZM223.5 702.3 227.9 701.6 227.9 704.1 224.1 705.8ZM314.3 705.6 311.9 705.2 313.2 702.6 316.1 703.1 317.1 704.2ZM351.1 701.7 353.3 703.7 350.5 705.4 347.9 703.6ZM397.9 700.4 399.9 702.9 399.6 705.6 396.3 705.0 395.6 702.0ZM410.2 700.2 411.5 702.9 410.5 703.7 407.9 703.5 406.9 702.1 408.2 700.7ZM84.4 705.6 85.7 707.6 84.2 710.0 82.6 709.0 81.7 706.2ZM196.1 705.8 198.6 708.2 195.6 709.4 193.8 707.6 194.1 705.2ZM235.9 705.5 236.5 707.7 233.8 709.0 232.5 708.7 231.7 707.2 233.6 706.0ZM274.2 704.4 275.2 707.0 272.7 707.9 270.6 705.9ZM282.8 704.0 285.9 705.0 286.8 707.0 283.9 708.6 281.1 706.4ZM290.3 708.6 289.1 705.5 293.0 704.8 294.1 707.8ZM298.1 706.6 301.9 707.1 301.8 709.7 300.1 710.7 297.7 709.1ZM339.3 707.2 341.7 705.3 344.6 705.4 345.0 708.1 340.4 708.9ZM380.6 709.9 376.9 709.6 376.0 707.0 380.5 706.4ZM399.1 705.8 400.5 704.7 402.5 705.7 402.5 708.5 400.3 708.9 398.6 707.9ZM403.1 708.8 403.3 706.3 406.1 704.9 407.0 706.3 405.9 709.5ZM128.2 713.4 124.7 711.2 127.0 709.1 129.3 709.7ZM275.9 708.8 278.8 709.5 276.7 711.8 272.7 710.6ZM302.0 712.7 302.7 709.7 305.2 709.6 306.9 712.2 304.7 714.0ZM322.2 711.7 319.7 712.3 317.6 710.6 318.0 709.2 321.8 709.2ZM389.6 713.4 386.1 712.9 386.0 710.9 388.9 709.7 390.5 710.6ZM406.0 713.0 406.4 709.9 408.0 708.8 410.5 710.9 409.3 712.6ZM420.0 710.5 416.7 712.2 415.5 708.8 419.0 708.1ZM422.0 710.3 425.9 710.0 427.3 711.9 426.1 714.0 422.8 712.6ZM126.8 716.6 125.4 714.7 127.1 713.0 129.7 712.9 131.2 715.4 129.3 717.3ZM196.4 717.8 195.9 715.5 197.4 714.3 200.5 714.4 200.2 717.6ZM224.4 718.2 222.1 717.7 221.1 715.7 221.3 714.9 223.9 713.3 225.4 715.5ZM230.3 713.6 233.5 714.4 234.6 716.4 230.7 717.6ZM324.3 718.2 321.3 717.0 321.2 715.2 322.4 714.3 324.1 713.8 325.1 716.1ZM335.8 711.6 339.4 713.7 337.0 716.3 333.1 715.4ZM352.2 716.3 351.0 714.6 353.5 713.1 356.2 714.9ZM371.8 713.8 375.2 714.2 373.8 717.6 370.3 715.6ZM170.3 716.7 168.9 718.2 167.2 718.5 166.1 716.2 169.2 714.6ZM246.7 717.8 249.2 718.3 249.7 719.9 247.9 721.7 245.8 719.4ZM364.8 720.8 362.6 719.3 364.2 717.9 367.4 718.5 368.0 721.0ZM400.9 718.3 399.7 720.8 397.7 722.0 396.3 719.6 397.5 716.9ZM399.7 717.9 400.7 715.8 403.3 715.5 403.5 718.9 401.5 718.9ZM128.2 719.4 130.9 719.5 131.9 722.0 129.3 723.1 127.5 722.1ZM146.5 721.5 147.8 722.5 146.3 724.1 143.8 725.6 143.0 723.1 142.9 721.2ZM166.7 719.7 168.1 721.1 167.1 723.1 163.5 721.8 164.3 720.0ZM202.5 718.9 204.9 719.4 205.8 721.3 203.5 722.3 200.6 720.2ZM252.4 724.5 250.2 721.6 253.3 720.8 255.0 722.4ZM259.9 719.2 259.9 722.2 256.1 722.4 254.6 720.5 256.0 718.2ZM273.1 722.4 274.0 720.9 276.0 721.1 277.3 722.1 276.1 724.1 274.5 724.3ZM278.0 722.1 277.5 719.4 280.0 719.1 281.4 720.7 281.4 722.2ZM397.4 722.0 400.7 721.3 402.1 723.6 399.5 725.0 396.1 723.8ZM402.3 722.7 401.2 719.7 403.5 718.5 405.1 722.0ZM411.1 721.2 410.3 723.3 408.0 724.7 405.2 722.5 407.0 720.8 409.6 720.2ZM98.2 724.6 98.9 726.1 94.6 727.3 94.5 725.1 96.2 723.5ZM123.8 724.7 125.3 723.1 127.7 723.5 127.7 724.7 126.2 726.7 123.3 726.1ZM137.0 724.5 139.0 726.1 138.8 728.3 134.7 728.2 134.9 725.9ZM151.7 724.0 153.3 726.0 154.3 727.4 151.7 728.6 148.8 726.5 149.8 724.7ZM175.3 723.6 177.9 724.3 175.9 727.1 173.9 727.0 171.8 725.5 173.7 724.1ZM198.4 727.9 196.4 725.7 199.3 724.1 201.7 724.9 202.1 727.2ZM281.8 725.8 277.4 726.7 276.6 724.4 280.0 723.9ZM410.0 725.4 409.2 726.6 406.7 726.0 405.7 723.8 408.7 723.1ZM427.9 728.1 424.6 727.7 423.9 725.3 427.2 724.7 429.1 725.7ZM88.7 726.6 91.3 728.0 89.7 730.3 87.8 730.5 86.0 730.0 86.2 727.6ZM96.8 726.4 98.9 725.8 100.9 728.8 97.9 730.1 95.6 729.1ZM205.4 730.2 204.5 728.6 204.5 726.7 207.9 726.3 208.5 728.4 207.8 729.6ZM294.0 727.9 293.9 730.5 290.0 729.4 290.2 727.0 292.7 726.5ZM304.7 730.2 303.3 731.7 300.5 731.3 298.5 729.7 301.8 728.3ZM335.2 730.7 335.7 728.5 338.8 727.4 339.5 730.0 337.7 731.0ZM377.8 728.2 378.9 727.2 381.2 728.2 380.5 729.9 378.2 730.6ZM79.3 734.6 78.6 731.0 82.5 732.0 81.8 734.4ZM133.8 732.5 133.5 729.5 137.0 729.8 138.5 732.8 135.9 734.2ZM231.0 734.3 228.0 733.4 228.0 731.0 231.2 730.6 233.7 731.0 233.1 733.8ZM299.1 734.5 296.6 733.5 298.6 730.8 302.6 732.2 301.4 734.3ZM429.7 731.7 430.4 733.7 428.8 735.7 425.7 734.0 425.8 731.2Z" fill="#50525b"/><path d="M78.1 664.1 77.4 665.9 75.4 666.0 73.3 665.2 75.5 663.2ZM109.9 662.5 112.0 663.7 111.2 666.1 108.7 665.4 106.9 663.9ZM148.6 665.1 147.4 662.4 149.7 660.8 151.9 663.3ZM287.9 662.8 289.2 661.6 291.8 663.2 291.0 665.0 289.0 665.4ZM308.5 666.3 305.2 665.8 304.5 663.4 308.0 663.3ZM319.0 665.4 318.2 662.9 320.2 661.8 322.4 663.5 321.7 665.5ZM373.1 667.0 369.4 664.9 371.6 662.4 375.0 663.6ZM82.4 668.0 81.7 665.6 86.3 665.7 85.4 668.3ZM90.7 669.8 89.4 670.9 87.5 669.6 86.5 667.4 90.0 667.1 91.4 667.5ZM133.7 667.7 133.8 666.0 137.4 665.0 137.5 667.2 136.6 669.1ZM165.0 670.1 165.6 668.3 168.0 667.6 169.4 668.3 169.6 670.3 168.1 671.2ZM206.9 670.6 205.7 668.7 207.5 667.0 209.9 666.1 210.3 668.6 209.3 669.8ZM215.8 666.6 215.6 668.9 211.7 669.2 212.0 666.1ZM350.7 667.0 351.8 668.8 350.1 670.7 347.9 668.2ZM79.8 671.0 77.5 673.3 74.9 670.7 77.2 668.6ZM126.0 672.4 122.7 674.3 121.6 672.8 120.9 670.7 122.7 670.2 125.5 670.8ZM139.2 672.7 137.2 671.3 138.1 668.7 141.6 668.7 141.6 671.1ZM192.7 674.0 190.5 672.9 189.3 671.3 190.7 670.4 193.5 670.7 193.6 672.1ZM224.6 668.1 224.2 669.7 224.2 671.7 221.5 671.5 219.2 670.3 221.1 668.6ZM230.2 669.6 233.1 670.8 233.1 673.0 230.9 673.1 229.1 671.3ZM298.7 672.1 297.9 669.6 301.5 669.8 301.9 671.0 300.4 672.9ZM386.3 671.3 386.2 673.0 383.7 673.3 381.8 671.6 382.7 669.8 385.9 669.3ZM392.5 672.4 390.0 674.0 387.9 672.9 387.9 670.9 391.4 670.3ZM398.2 668.0 401.9 669.2 400.1 672.3 398.2 671.8 396.1 669.9ZM412.2 670.8 411.7 672.8 408.9 673.2 408.0 671.3 409.3 670.3ZM131.9 678.1 128.3 676.8 128.4 674.4 130.8 674.1 132.2 675.9ZM135.7 675.2 133.8 674.2 134.0 672.7 134.7 671.8 138.0 672.7 138.0 674.1ZM147.1 673.7 150.4 673.2 150.0 675.3 149.0 677.2 146.1 676.3ZM198.7 674.6 197.6 672.9 198.9 672.1 202.2 671.7 202.3 673.5 201.3 675.4ZM271.2 673.7 274.1 673.4 275.0 675.6 274.8 677.2 271.3 677.3 270.9 675.8ZM274.6 677.5 274.2 674.8 277.2 674.6 280.1 675.9 277.8 678.4ZM284.1 673.5 286.1 674.7 286.3 677.3 282.4 677.3 281.9 675.5ZM317.0 675.0 319.9 674.1 321.1 674.5 321.7 676.2 319.9 677.8 317.4 676.2ZM358.9 672.1 362.6 671.3 364.0 673.5 361.8 674.9 359.1 674.5ZM428.7 675.0 426.7 673.5 427.3 672.3 430.5 671.9 430.3 674.0ZM74.1 680.2 75.4 678.3 79.3 679.8 77.6 682.0ZM83.5 680.3 81.6 680.9 80.0 680.9 79.3 678.8 81.1 677.0 83.8 678.2ZM139.8 675.4 140.5 678.3 136.8 679.7 135.4 677.2ZM144.9 678.1 143.5 679.5 141.4 679.4 140.2 677.6 142.3 676.7 145.4 676.5ZM303.8 678.4 303.3 680.5 300.9 681.1 298.8 679.8 299.6 678.4 300.3 677.2ZM315.6 676.2 319.0 676.7 318.8 679.3 316.7 679.8 314.2 678.4ZM346.2 679.2 347.7 678.0 350.2 678.9 349.3 681.6 345.9 681.2ZM408.1 679.8 406.0 680.6 403.8 680.2 405.0 678.1 408.3 677.2ZM80.6 683.1 79.3 680.8 83.1 680.5 83.4 683.4ZM127.3 679.0 128.2 681.5 125.4 682.7 123.9 681.3 124.6 679.5ZM169.1 680.0 169.9 682.1 170.8 683.7 167.6 683.8 165.4 683.4 166.8 681.2ZM189.6 683.1 186.6 683.4 185.8 681.8 187.2 680.1 189.6 681.1ZM194.2 683.3 192.5 683.2 190.6 681.0 191.9 680.1 194.4 679.9 195.1 681.1ZM202.2 679.6 203.2 681.9 202.6 683.5 199.8 683.8 198.1 682.3 200.2 680.5ZM278.4 680.8 278.2 682.5 276.5 682.6 274.4 681.7 275.6 680.1 276.7 678.8ZM279.4 680.0 283.7 679.3 283.4 682.8 280.4 683.4ZM359.1 684.7 357.2 681.9 359.8 680.2 361.4 682.3ZM396.3 684.0 394.3 682.3 397.1 680.2 399.9 682.2 398.1 684.1ZM100.2 686.9 103.5 684.7 105.6 685.4 105.3 688.8 102.5 688.5ZM126.4 683.0 125.6 686.7 122.2 685.3 123.2 683.1ZM208.8 686.2 207.7 688.7 204.0 687.8 205.5 685.6ZM215.0 683.9 215.0 687.0 212.6 686.5 211.7 683.3ZM278.9 683.8 281.0 682.6 282.4 684.9 281.4 687.6 278.7 686.0ZM291.3 683.1 293.4 684.5 292.0 687.1 289.1 686.7 287.6 684.9 289.1 683.2ZM329.4 684.8 330.6 682.2 332.6 683.8 332.9 685.5 331.0 686.0ZM345.8 684.3 349.6 684.7 349.3 686.5 347.8 688.4 344.7 686.9ZM406.3 684.9 407.3 687.0 405.1 688.8 403.2 686.8 403.3 684.5ZM428.3 685.1 429.5 687.9 425.2 687.9 426.1 685.5ZM430.8 688.1 427.5 687.2 426.8 684.7 429.4 683.5 432.0 685.5ZM80.6 688.3 82.1 690.6 80.1 691.9 77.4 690.4 77.0 688.3ZM197.1 689.7 194.4 691.3 192.5 690.6 192.1 689.1 194.4 687.5 196.8 688.7ZM239.9 685.9 242.2 687.0 242.8 689.1 241.1 689.4 239.6 689.5 238.6 687.5ZM255.6 688.8 256.6 688.4 259.0 689.5 258.3 691.3 255.4 692.2 255.0 690.6ZM318.0 689.7 319.6 686.7 322.2 688.3 321.4 690.2ZM325.5 688.4 327.1 687.4 328.8 686.6 330.7 688.0 330.2 690.0 328.2 689.7ZM336.6 686.6 340.6 687.0 339.4 690.0 335.9 689.5ZM342.3 690.2 344.1 688.7 346.8 690.4 345.7 691.8 342.2 692.1ZM370.5 689.0 367.9 691.0 365.5 689.7 365.0 687.9 368.3 687.3ZM370.3 691.0 370.1 689.4 372.7 688.0 375.3 689.5 373.9 691.9ZM414.0 689.7 413.0 691.1 409.8 690.8 410.4 688.3 411.7 686.8 413.8 687.8ZM223.5 694.1 221.3 695.2 218.9 694.0 219.3 692.1 221.5 691.9 223.7 692.0ZM328.5 692.4 330.5 691.2 332.9 693.7 330.2 694.5ZM366.8 691.2 367.0 693.8 365.9 694.2 363.5 694.9 361.7 692.8 364.5 691.7ZM407.0 692.4 411.0 691.8 410.4 693.9 407.2 695.0ZM414.1 691.3 416.6 691.2 417.0 692.4 416.0 694.2 412.3 693.4ZM422.6 691.5 426.3 691.6 427.1 693.3 424.6 694.8 422.3 693.4ZM428.8 694.7 429.6 692.7 432.0 691.8 433.1 693.5 431.2 695.2ZM76.4 696.1 73.8 696.9 71.7 695.2 73.4 693.1 76.2 694.4ZM174.4 695.6 175.9 696.1 177.3 698.1 173.6 699.2 173.0 697.5ZM223.0 695.9 222.2 697.8 219.2 696.4 217.9 694.8 221.0 693.2 222.7 694.0ZM222.5 697.7 224.2 696.4 227.4 695.6 227.9 697.8 226.4 699.3 224.3 699.6ZM262.2 695.7 262.1 698.7 259.6 698.6 258.9 696.4 259.7 695.2ZM332.3 694.5 335.0 695.5 335.7 697.3 333.2 697.7 331.9 696.6ZM378.6 696.2 376.4 698.3 373.1 698.1 374.0 695.5ZM420.9 696.4 421.5 694.9 424.7 694.9 424.7 696.9 423.4 698.3ZM96.5 697.4 97.8 698.7 98.7 699.8 96.6 701.4 94.7 700.9 93.4 699.0ZM146.4 702.1 143.8 701.7 142.9 699.7 146.6 699.8ZM201.1 701.5 200.7 699.4 202.2 697.9 204.1 697.8 204.8 700.0 203.5 702.1ZM271.1 700.1 272.6 698.0 276.0 698.5 275.7 700.4 274.7 702.2ZM318.0 702.8 315.1 702.0 314.9 700.5 315.6 699.2 317.8 698.5 319.9 700.1ZM350.2 702.0 348.0 699.6 349.3 698.5 352.1 698.7 353.8 700.2 352.2 702.5ZM101.8 703.0 99.3 705.3 96.9 703.3 99.6 700.3ZM153.5 703.7 150.4 705.7 148.4 704.0 149.6 701.8 152.2 701.3ZM259.7 703.2 262.4 704.0 261.7 706.5 259.3 706.2 258.6 704.1ZM304.5 701.7 303.5 703.8 301.6 704.6 300.4 703.6 299.7 702.0 302.9 700.7ZM310.8 704.4 308.1 705.1 307.5 702.0 308.6 700.7 311.8 702.3ZM318.0 703.9 320.1 703.9 321.4 704.9 319.5 706.7 316.4 706.1ZM341.5 706.9 338.0 704.6 340.5 702.9 342.9 704.4ZM412.0 702.0 415.1 701.6 415.6 703.2 413.7 704.8 410.9 704.3 410.8 703.0ZM139.6 707.1 140.0 707.9 139.7 710.2 138.2 710.0 136.6 708.9 136.2 707.3ZM245.3 708.6 247.4 707.1 249.4 707.2 249.7 709.1 248.0 710.4ZM182.8 714.4 179.8 713.0 181.5 710.5 184.0 711.1ZM285.4 712.7 283.3 710.4 284.5 709.5 286.6 708.8 288.7 709.9 288.2 711.8ZM305.9 714.1 304.7 711.9 305.8 709.7 308.7 710.0 309.6 712.4 308.6 713.3ZM328.4 711.6 325.1 714.3 323.6 711.6 326.1 710.4ZM337.5 711.7 334.2 713.1 332.6 710.7 334.0 709.4 337.0 709.3ZM338.4 709.1 340.9 708.5 342.3 710.8 343.0 712.0 340.1 712.3 339.1 711.7ZM391.3 708.4 393.3 708.5 393.8 710.5 392.9 712.1 389.9 712.0 389.9 710.3ZM90.9 712.5 94.6 712.8 93.3 715.9 90.2 714.2ZM133.6 718.3 131.8 715.6 135.5 713.8 137.8 716.4ZM149.1 716.2 147.7 713.0 150.5 712.1 152.1 715.1ZM180.2 713.9 181.7 716.7 179.4 718.2 176.9 716.2 177.2 714.0ZM184.5 714.9 184.0 713.1 184.6 711.9 186.9 711.9 187.9 713.6 187.5 715.7ZM204.7 715.3 201.0 717.8 200.1 714.5 202.2 712.7ZM265.6 713.1 266.7 714.7 264.2 716.8 262.2 713.2ZM269.1 714.3 271.4 713.6 273.8 715.2 272.5 716.7 270.3 717.2 269.2 716.6ZM301.7 716.8 298.4 717.2 297.6 714.9 299.2 713.8 301.8 713.5 301.9 715.5ZM308.4 714.9 308.7 712.4 310.2 712.0 312.3 711.5 312.0 714.3 311.7 715.8ZM359.2 712.0 360.6 714.2 360.4 715.9 357.2 716.1 355.9 714.2 356.6 712.6ZM397.4 713.2 396.8 716.3 394.9 716.0 393.1 714.3 393.9 712.9ZM140.5 714.5 143.1 716.6 142.4 719.4 139.1 717.3ZM163.4 717.5 164.7 718.8 164.3 720.3 161.9 720.5 161.4 719.3ZM182.6 716.3 180.9 718.0 179.6 718.5 177.7 718.3 177.2 716.0 179.0 714.8ZM194.6 719.3 191.9 718.6 191.2 716.9 194.6 714.8 196.6 716.7ZM232.8 720.9 230.1 720.1 229.7 718.2 232.4 717.5 234.8 719.0ZM275.9 716.3 278.4 717.1 276.5 720.1 274.0 718.4ZM331.4 719.8 333.2 717.2 335.6 718.4 335.1 720.6 332.2 721.2ZM378.8 721.4 375.1 721.7 374.1 719.0 377.4 717.3 378.6 719.1ZM389.7 718.0 390.7 715.4 393.7 715.5 394.1 718.1 391.5 719.1ZM84.8 723.5 81.9 723.4 81.1 722.2 83.1 719.9 85.7 720.8ZM87.8 724.0 84.6 723.2 85.2 720.0 88.6 720.9ZM196.4 724.1 194.9 722.3 196.1 721.1 199.3 720.4 200.0 722.1 199.2 724.8ZM243.8 724.5 242.1 721.5 245.9 721.1 247.3 723.7ZM272.4 719.9 272.3 721.9 269.8 723.0 269.1 720.4 271.5 718.5ZM296.2 723.1 293.5 721.7 294.9 718.6 296.8 719.4 298.5 720.9ZM347.5 721.9 348.6 723.1 347.5 725.1 344.6 724.7 344.2 723.3 345.6 720.8ZM94.1 727.4 91.2 727.7 89.4 725.5 91.7 724.8ZM133.4 725.1 135.3 726.5 133.5 729.0 130.9 728.1 131.2 726.0ZM181.5 724.4 180.2 725.7 177.7 725.6 177.4 723.3 180.1 722.4ZM233.2 725.0 235.3 726.1 232.9 727.5 230.8 727.0 230.3 724.8ZM242.0 727.2 243.1 726.0 245.3 725.0 246.7 727.2 244.7 729.4ZM261.4 725.9 258.1 725.5 258.4 724.1 260.0 722.3 262.7 723.6ZM267.6 725.2 268.7 726.9 267.6 728.4 264.4 727.2 265.8 725.3ZM303.8 727.8 299.5 726.1 301.1 724.6 304.2 723.4 305.4 724.9ZM321.9 726.6 320.3 725.4 321.7 724.2 325.1 724.0 325.2 725.5 324.4 726.8ZM384.7 727.4 384.6 725.1 385.7 724.1 389.4 725.4 389.6 726.5 387.7 727.9ZM419.1 727.6 415.5 726.2 416.2 724.6 419.6 723.8ZM159.5 729.8 162.3 728.5 164.2 729.0 163.7 730.9 160.6 731.6ZM182.0 727.9 185.4 727.9 184.7 730.8 182.3 731.0 180.5 728.8ZM184.5 727.3 187.3 726.8 189.3 729.5 186.4 730.2 183.7 729.6ZM219.3 729.3 221.5 728.8 224.2 730.0 222.5 732.3 219.9 731.7ZM279.3 727.8 280.7 726.8 282.2 726.0 283.7 728.2 283.4 730.1 280.5 729.7ZM310.9 729.0 313.8 728.3 313.7 730.7 314.1 732.0 309.8 731.9 309.6 729.4ZM363.6 728.9 362.3 730.1 359.8 728.7 359.6 726.7 361.0 726.4 363.1 727.3ZM385.1 730.3 386.6 728.4 389.0 728.1 389.3 730.3 387.2 731.5ZM73.3 734.3 72.0 732.3 75.9 730.9 77.2 734.1ZM106.3 731.3 107.4 732.8 106.0 734.8 103.2 735.0 103.3 732.4ZM106.4 734.7 107.5 732.5 110.7 732.2 110.8 734.4ZM112.5 731.0 115.4 729.8 117.2 730.9 116.1 733.1 114.3 733.5ZM129.2 733.9 126.9 734.4 124.3 734.2 124.0 731.6 126.4 731.9ZM152.0 730.9 154.7 730.8 154.7 733.9 152.5 733.7 150.9 732.5ZM159.6 734.0 157.0 733.9 155.2 732.6 158.2 730.4 160.0 731.9ZM210.0 730.7 212.9 730.5 213.8 732.6 210.3 733.1ZM243.3 731.8 244.6 733.9 242.9 734.9 240.7 733.8 240.3 732.0ZM282.1 732.2 285.6 732.0 285.2 733.9 281.5 734.4ZM359.3 731.3 358.6 733.1 355.7 733.1 353.7 731.6 354.4 730.4 357.6 729.7ZM399.1 733.0 398.1 733.9 394.6 733.2 395.9 730.9 398.4 729.9Z" fill="#80828b"/><path d="M92.7 663.2 94.3 665.7 92.4 666.5 89.3 666.5 89.9 663.8ZM216.6 664.6 215.5 662.8 216.8 661.9 219.5 661.8 219.7 663.7 218.0 665.0ZM232.9 663.9 230.3 662.5 232.0 660.6 234.9 661.6 235.7 664.0ZM249.6 662.0 252.6 663.3 250.8 666.1 247.9 664.5ZM254.0 664.2 253.9 666.6 251.3 666.2 251.0 663.1ZM275.0 662.3 277.2 663.9 275.7 665.1 273.2 664.3ZM309.4 663.9 312.1 662.6 313.3 664.9 311.4 665.9ZM314.7 665.5 314.2 664.3 314.6 662.5 317.6 662.3 318.7 664.1 317.2 665.9ZM72.2 665.8 72.9 665.1 75.1 664.9 76.5 666.0 75.4 667.6 72.4 667.6ZM112.9 667.3 112.7 665.4 115.4 665.9 116.5 667.6 114.6 669.1ZM122.9 667.8 123.0 670.2 120.8 670.5 118.8 668.3 120.6 666.8ZM145.6 667.7 145.4 666.6 146.1 664.9 149.0 665.1 149.4 667.5 148.0 669.0ZM197.6 668.1 198.7 664.7 201.9 666.4 200.8 668.6ZM230.3 669.3 230.0 667.9 232.2 666.9 233.7 667.7 233.3 670.4ZM254.3 670.0 252.1 669.9 251.2 668.1 252.4 667.1 254.1 667.6ZM278.2 666.8 280.2 668.6 275.8 669.7 274.7 667.5ZM295.7 668.4 294.7 666.8 295.8 666.1 299.4 667.0 298.6 669.2ZM366.2 666.8 366.3 668.9 362.9 669.7 363.0 667.0ZM70.2 669.2 73.3 669.7 74.0 670.8 73.0 672.8 69.5 671.1ZM283.9 668.4 286.2 668.6 287.7 670.4 285.9 671.6 284.0 671.7 283.1 669.9ZM353.1 669.3 353.6 671.7 353.2 673.3 350.2 671.9 350.9 669.7ZM353.8 671.6 355.6 669.5 359.3 669.7 358.3 671.9 355.6 672.7ZM374.2 668.9 376.4 669.0 377.6 670.7 376.5 671.9 373.2 671.0 373.0 669.7ZM117.6 673.3 116.8 675.9 114.4 675.7 114.3 672.6ZM164.7 677.9 163.5 676.8 163.2 675.9 164.8 674.4 166.1 674.9 166.9 677.1ZM170.0 674.5 170.4 672.4 174.2 673.3 173.3 675.6 171.7 675.7ZM175.7 674.7 175.1 673.2 177.5 671.8 179.7 673.3 178.8 675.6ZM229.0 675.5 227.8 672.5 230.1 671.9 232.0 674.1ZM243.0 676.7 240.3 675.4 241.8 672.6 244.4 674.2ZM267.6 675.9 264.6 675.6 265.8 672.9 268.9 673.1ZM300.7 672.3 300.2 674.1 298.3 675.4 296.7 673.9 297.3 672.6ZM365.1 675.7 363.5 674.0 364.8 671.9 367.3 673.6 367.7 675.4ZM367.6 673.8 368.7 671.6 371.0 671.9 372.5 674.1 371.2 675.0 369.1 675.2ZM371.7 675.6 373.2 673.6 375.8 673.9 376.0 675.3 375.4 676.3 373.2 676.8ZM119.0 677.0 118.5 679.7 116.2 679.6 114.4 677.4 116.2 676.5 118.8 675.9ZM159.3 680.1 157.4 678.2 160.5 676.6 161.1 678.5ZM165.0 679.8 164.2 677.4 167.5 677.7 168.1 680.1ZM226.3 679.6 226.5 677.5 228.4 676.0 230.7 676.4 230.3 677.9 229.7 679.3ZM242.2 681.0 241.7 678.0 243.5 678.3 246.4 679.8 244.6 681.3ZM275.9 679.1 277.2 676.3 279.7 677.0 280.2 679.8ZM284.4 680.6 282.5 678.5 285.6 676.5 287.9 677.4 286.7 679.6ZM292.6 679.0 293.3 676.9 295.2 676.7 296.7 679.4 294.9 680.6 293.3 679.7ZM324.2 677.7 326.6 677.2 327.7 677.4 329.2 678.9 327.1 680.2 324.9 679.8ZM385.6 678.8 382.3 679.7 381.8 677.9 383.4 676.3 385.0 676.8ZM86.2 680.3 86.6 682.7 82.8 683.1 82.0 680.8 83.4 679.5ZM118.0 681.7 116.2 683.0 114.5 683.3 112.9 681.4 114.2 679.6 116.7 679.6ZM154.1 681.0 153.9 682.9 149.7 682.3 150.9 680.0ZM178.5 684.7 176.6 683.4 175.4 682.1 177.7 681.1 179.2 681.8 179.3 683.0ZM331.7 681.9 329.2 682.4 328.0 681.3 329.2 679.8 331.4 679.2ZM350.7 681.5 352.5 683.1 349.8 684.1 346.6 682.9 347.4 681.4ZM395.9 684.2 393.5 684.4 390.9 683.4 391.7 681.2 394.8 681.2ZM69.0 686.4 70.5 684.2 72.4 685.9 72.3 688.4 69.2 688.1ZM115.0 685.4 117.8 684.1 120.5 686.8 117.5 688.9ZM140.6 684.3 137.5 686.4 136.4 684.1 138.7 682.6ZM158.2 688.2 157.7 685.8 159.6 685.3 161.3 686.2 161.9 688.2 159.8 688.4ZM196.1 689.0 194.2 687.6 195.2 686.2 197.5 685.0 199.6 687.1 198.0 689.3ZM226.1 687.7 226.7 686.0 228.3 685.3 229.9 686.8 230.3 688.1 227.8 688.8ZM328.8 684.6 330.7 686.7 327.4 688.7 326.6 686.6ZM333.7 687.9 334.3 685.6 337.4 685.1 338.8 686.2 336.1 688.6ZM344.3 685.9 345.5 688.1 342.6 688.7 340.8 686.9 341.8 686.2ZM354.0 686.6 353.1 687.8 351.3 688.8 348.9 687.2 349.7 685.6 352.3 685.0ZM76.7 688.9 77.1 692.1 74.4 692.7 73.1 690.3 73.2 688.6ZM95.1 688.6 98.1 687.6 98.8 689.9 97.1 691.3 95.4 690.7ZM100.6 689.3 101.4 687.3 103.3 688.0 102.4 690.0ZM171.2 689.3 174.9 689.9 173.6 691.8 170.5 691.2ZM189.2 686.8 191.0 687.1 191.5 689.7 187.6 690.6 187.0 688.5ZM210.1 688.2 210.8 689.5 209.9 691.1 207.1 690.7 208.0 688.0ZM227.4 687.7 230.6 687.0 230.6 690.0 227.4 690.6ZM337.6 687.2 338.2 689.6 335.2 689.9 333.5 687.9 335.8 686.6ZM349.1 689.8 350.2 687.9 352.8 689.0 353.0 691.3 349.3 691.4ZM361.7 688.1 362.9 689.7 362.2 691.6 360.3 691.0 359.4 688.3ZM397.7 692.8 394.7 691.1 395.9 689.9 397.6 688.3 399.3 688.8 399.5 691.0ZM417.6 689.2 419.9 689.0 420.7 692.0 418.4 693.1 415.9 690.6ZM423.9 688.4 422.2 690.3 419.3 688.5 420.5 686.3 423.3 687.0ZM106.0 696.2 104.1 693.9 105.7 692.0 109.1 692.9 109.9 694.7ZM129.1 695.6 126.0 693.6 129.5 691.3 130.5 693.9ZM149.3 690.4 153.3 691.6 152.8 693.6 149.4 694.1ZM176.8 691.1 178.2 692.9 176.1 693.8 174.5 693.0 174.6 690.9ZM211.0 693.1 209.9 694.9 206.4 694.7 208.1 692.4ZM211.7 694.4 209.4 694.0 210.6 691.5 213.5 691.5 214.1 693.9ZM233.0 690.8 233.9 692.1 232.5 693.8 229.8 692.7 229.3 691.1ZM263.0 691.2 265.5 690.9 267.3 691.7 266.3 694.6 264.0 693.7ZM325.6 692.7 327.8 691.0 329.5 692.4 329.0 694.8 326.4 693.9ZM356.9 693.6 355.8 692.3 357.9 690.8 360.5 692.2 359.3 693.7ZM370.0 693.5 369.5 694.7 368.1 695.8 365.4 694.9 366.1 692.8 368.2 692.5ZM379.9 694.8 376.9 694.6 377.1 692.0 379.9 692.4ZM403.8 691.6 408.4 692.1 407.8 695.0 403.8 694.7ZM421.3 693.2 418.5 692.4 419.3 690.1 421.7 691.0ZM105.0 696.1 106.4 695.4 108.2 696.6 108.9 698.6 106.7 699.1 103.9 697.9ZM192.0 696.6 195.7 695.7 196.6 698.2 193.8 698.7ZM212.2 698.1 209.9 697.4 208.6 695.6 210.4 694.4 212.5 695.2ZM218.1 696.2 216.2 697.7 214.3 696.8 214.5 695.5 217.3 694.3ZM253.6 696.4 255.3 697.2 252.6 699.4 251.1 698.4 249.8 696.7ZM323.0 695.5 325.0 694.5 326.7 695.1 325.7 698.1 323.3 697.0ZM340.8 699.3 337.5 699.0 336.8 697.4 337.8 695.7 341.0 696.1 340.5 697.7ZM362.0 695.7 362.9 695.7 364.7 698.0 363.7 699.1 360.4 698.8 360.0 696.6ZM414.6 694.2 417.8 693.3 418.7 695.9 414.9 696.3ZM206.8 698.1 208.2 700.7 204.7 700.6 204.2 698.6ZM252.4 699.4 252.4 700.6 249.0 700.7 247.6 699.9 247.9 697.8 250.0 697.9ZM293.1 702.5 289.5 702.2 289.6 700.6 291.6 699.3 292.8 700.3ZM307.4 702.6 305.5 701.7 305.8 700.0 308.3 699.3 309.8 700.9ZM323.2 696.8 324.9 700.0 322.5 700.2 320.0 698.7ZM325.4 702.9 326.3 699.4 329.4 699.9 329.5 703.2ZM346.0 698.7 347.0 697.2 350.0 699.0 348.9 701.0 345.8 701.1ZM391.1 700.3 389.1 701.0 387.8 699.9 388.4 698.0 391.3 698.5ZM431.8 701.5 429.4 702.6 427.0 700.9 429.2 698.3 431.9 699.1ZM146.1 706.1 145.3 703.8 146.1 702.6 148.7 702.5 149.0 705.1ZM196.3 705.5 195.2 702.9 197.5 702.1 199.3 701.4 200.5 703.4 199.2 704.7ZM278.9 704.7 276.6 706.2 275.1 703.3 278.6 702.2ZM352.0 702.3 355.4 702.5 356.2 704.3 353.7 705.4 352.0 705.0ZM380.9 703.0 383.2 704.2 381.9 706.9 379.4 705.5ZM386.5 700.5 387.7 702.4 387.3 704.1 384.1 703.7 384.3 701.6ZM110.4 705.9 107.5 707.7 105.1 706.1 107.3 703.9ZM323.6 706.5 325.3 707.5 322.4 709.7 319.7 707.7 321.4 706.5ZM350.8 707.2 351.3 709.4 348.5 710.1 346.6 709.0 346.1 708.0 348.6 706.6ZM383.0 705.7 384.4 708.3 383.2 709.5 381.0 708.6 381.2 706.7ZM410.4 707.9 408.9 709.8 406.5 708.1 406.9 705.4 409.0 706.2ZM79.1 711.3 78.2 709.4 79.8 708.9 82.2 708.5 83.0 710.8 81.4 712.0ZM198.6 714.8 197.9 712.2 198.9 711.0 201.1 712.0 201.0 713.2ZM254.1 713.0 250.1 711.9 251.6 709.1 254.7 710.0ZM252.1 711.2 254.5 708.7 257.1 710.9 255.5 712.2ZM171.8 713.0 173.2 716.0 170.7 716.5 169.7 715.3ZM179.1 715.5 175.9 717.3 174.7 714.8 175.9 713.9ZM229.8 717.5 227.3 716.0 228.8 714.3 231.8 714.2 231.7 716.4ZM306.9 717.9 304.3 716.8 303.3 714.3 306.7 713.8 307.5 715.7ZM312.9 715.5 313.5 713.5 316.4 714.7 314.7 717.4ZM327.7 717.2 325.3 717.3 324.3 715.4 327.2 713.9 329.0 715.3ZM400.7 713.7 401.8 715.1 398.8 717.0 397.0 714.5ZM416.7 712.4 419.2 711.4 420.5 713.1 419.2 715.3 416.3 714.8ZM86.3 720.0 82.5 720.9 82.1 719.4 84.3 716.7 86.0 717.9ZM155.2 719.2 153.5 720.6 150.5 719.7 150.6 718.3 152.8 717.1ZM186.8 716.5 190.4 716.7 190.0 719.4 187.2 718.9ZM220.0 716.5 222.9 717.7 222.1 720.0 219.8 720.5 217.6 718.8ZM226.0 720.3 224.1 719.4 223.7 717.7 225.9 716.7 227.5 717.3 228.4 719.1ZM262.6 718.6 263.4 719.6 261.8 721.1 259.9 720.4 259.9 718.6ZM287.3 719.7 288.6 717.8 291.4 717.5 289.9 720.5ZM296.6 717.3 296.0 720.1 294.2 719.6 292.9 717.7 293.7 716.4ZM296.4 717.6 298.2 715.5 300.4 717.7 298.1 719.0ZM332.7 717.5 332.1 719.7 329.0 719.4 328.6 716.5 332.1 715.6ZM340.0 716.5 341.5 719.1 339.3 720.3 337.4 720.1 336.6 718.2 338.3 716.0ZM368.1 718.0 368.6 717.2 370.5 715.7 372.7 718.4 371.3 720.1 368.2 719.8ZM428.9 718.1 428.0 719.3 425.1 718.9 424.4 717.4 427.3 716.3ZM72.9 721.0 71.9 723.5 68.9 721.7 70.4 719.9ZM78.3 723.2 75.0 723.3 74.6 721.4 77.3 720.4 79.2 721.8ZM153.9 721.8 150.5 721.3 151.6 719.3 154.5 719.2 156.3 720.3ZM175.8 722.5 173.1 721.1 174.9 719.1 177.7 718.8 177.7 721.7ZM203.3 719.9 206.0 719.0 208.8 720.0 206.3 722.1 203.8 721.9ZM229.5 724.8 227.1 723.7 228.0 721.0 230.3 721.8 230.9 724.3ZM238.6 725.0 235.8 724.6 237.0 720.8 240.8 721.9ZM287.0 723.0 285.5 724.2 282.6 724.1 282.6 721.3 285.8 721.5ZM362.2 723.1 360.6 721.2 362.2 719.7 364.1 719.1 365.1 721.5ZM370.3 723.0 373.4 721.3 374.9 723.0 371.5 725.4ZM392.9 722.0 390.9 723.2 388.3 722.5 388.8 721.1 391.5 720.1ZM396.8 722.0 394.3 721.5 394.0 719.6 396.7 719.6 397.8 720.4ZM189.0 724.2 191.4 722.5 193.8 724.4 191.9 727.0 188.9 725.2ZM208.7 723.8 210.5 725.0 210.8 726.8 208.6 728.2 206.7 726.1ZM225.7 723.2 228.5 725.2 227.0 726.7 223.5 725.3ZM284.3 724.1 281.8 726.7 279.5 725.0 280.2 722.9ZM290.2 725.3 292.2 723.6 294.2 725.2 292.8 727.3 290.1 726.8ZM320.6 723.1 322.9 724.1 322.2 727.1 319.7 726.4 318.2 724.3ZM364.2 727.8 362.3 726.8 362.1 724.2 365.6 723.8 365.8 725.8ZM379.1 725.8 377.5 728.1 375.8 726.9 376.8 724.5ZM423.6 727.2 421.6 727.2 420.6 725.3 423.8 725.2ZM109.7 728.8 109.6 730.4 107.2 729.9 106.3 728.1 107.5 727.0 109.3 726.8ZM138.9 730.8 136.1 728.5 138.8 726.7 140.6 728.8ZM150.3 731.9 147.4 730.8 148.3 728.6 151.3 728.6 151.7 729.9ZM155.8 726.6 158.1 726.2 157.9 728.7 156.5 729.9 154.9 728.7 154.4 727.4ZM292.7 728.8 295.4 728.0 295.6 729.7 294.9 732.0 292.8 730.8ZM327.7 726.7 326.8 728.2 324.9 730.3 323.7 728.9 324.5 726.9ZM349.4 729.7 349.1 728.7 350.3 727.1 353.2 727.7 352.4 729.5 352.3 730.5ZM357.4 730.0 355.7 728.2 357.0 727.1 359.8 727.2 360.0 729.0ZM399.9 730.9 398.5 728.6 401.8 726.8 402.8 729.6ZM432.5 730.8 428.9 730.5 428.7 728.4 430.5 727.1 432.6 729.2ZM135.1 733.0 133.2 734.4 130.4 732.7 132.5 730.8 134.6 731.0ZM186.0 733.8 183.5 733.7 182.5 732.4 183.5 730.7 185.8 730.5 187.1 731.7ZM218.0 731.0 216.8 733.2 214.5 733.7 213.2 732.8 213.1 730.3 216.0 729.6ZM247.7 732.7 248.8 730.7 251.2 731.0 253.1 733.3 250.5 733.7ZM286.4 734.7 284.7 733.6 286.2 731.1 288.9 732.9 289.0 735.3ZM317.5 732.5 319.0 730.3 322.3 732.3 319.8 733.4ZM326.8 732.7 325.5 733.6 322.9 732.5 321.6 731.0 323.3 729.7 326.3 730.5ZM330.0 735.0 328.3 734.9 326.2 733.5 327.9 731.6 329.0 731.5 331.0 732.9ZM360.2 734.2 360.5 732.7 363.7 732.6 363.3 735.3ZM393.0 730.6 395.5 731.9 392.8 734.2 390.7 732.5Z" fill="#b4b6be"/><path d="M73.7 663.6 74.2 665.1 71.1 666.7 70.9 664.1ZM115.3 663.8 113.1 664.4 111.0 663.9 111.9 661.0 114.1 661.1 116.1 662.5ZM200.2 662.7 203.8 663.0 203.5 665.7 201.1 666.4 198.8 664.8ZM225.0 664.4 223.8 666.0 220.8 665.0 221.0 663.7 222.4 661.9 225.0 663.6ZM226.0 664.9 226.2 662.3 228.9 662.0 229.4 664.0ZM111.8 668.0 107.7 667.0 110.4 664.4 112.9 665.9ZM163.4 667.1 165.8 667.7 164.5 670.3 161.9 670.1 160.3 668.5ZM172.3 668.3 171.5 666.6 174.4 665.0 174.5 667.7ZM204.2 668.6 200.6 668.8 201.7 665.8 205.4 665.7ZM226.0 667.0 227.5 668.1 227.4 670.1 224.7 669.3 223.3 667.5ZM254.1 666.4 257.0 665.8 256.5 669.4 253.4 668.9ZM259.4 665.6 261.7 665.4 262.6 667.9 261.9 668.6 259.0 668.7 258.1 667.1ZM282.8 666.3 284.9 667.0 283.9 669.0 281.4 669.4 281.1 668.0ZM311.4 667.6 307.1 667.8 306.8 665.0 310.0 665.1ZM371.2 666.9 372.7 665.6 374.4 667.5 373.2 669.8 370.8 668.6ZM384.4 667.7 382.1 669.3 380.6 670.0 378.5 667.8 380.8 666.2 382.9 666.5ZM398.5 668.7 395.9 668.5 393.3 667.6 394.7 665.2 397.2 666.2ZM83.7 671.8 84.2 674.2 81.2 673.8 80.4 672.4 82.0 671.1ZM110.0 669.8 113.3 668.2 114.4 670.6 112.1 672.2 110.6 670.8ZM118.8 668.9 121.5 669.8 119.3 672.0 116.3 670.5ZM141.9 671.6 143.0 668.9 144.9 668.4 146.0 670.0 144.6 671.5ZM245.1 670.0 244.8 672.0 241.7 671.7 239.8 670.7 241.4 669.4 242.8 669.2ZM275.0 670.4 274.1 672.1 271.9 672.4 271.8 670.0 273.4 669.5ZM281.9 673.5 279.7 673.6 279.3 671.7 281.3 670.6 283.0 671.5ZM322.5 673.0 324.0 670.5 326.6 671.2 326.6 673.3 325.0 674.0ZM363.0 669.8 365.7 671.6 365.6 673.4 363.2 673.5 361.8 671.8ZM368.0 670.8 366.1 671.0 364.2 668.5 365.9 667.6 368.5 669.4ZM109.4 672.5 112.1 673.5 110.7 675.0 108.2 674.8ZM121.5 672.6 123.6 672.3 123.8 674.8 122.4 676.4 120.7 674.6ZM156.7 672.5 159.5 672.4 159.2 675.6 155.9 674.2ZM223.4 674.2 220.7 675.7 218.4 673.2 219.3 671.4 223.1 672.0ZM289.3 673.4 291.9 672.3 293.7 674.0 291.6 675.4ZM326.5 673.5 327.3 676.0 323.3 677.3 321.9 675.0 323.8 673.9ZM331.8 672.7 331.7 675.0 328.1 674.7 328.3 672.2ZM348.2 674.3 350.6 672.8 351.1 676.7 348.2 676.2ZM384.6 675.1 388.2 674.8 386.8 676.9 384.9 677.8 383.6 676.4ZM404.4 674.6 402.4 676.4 399.3 676.4 400.9 674.2ZM410.7 673.9 410.7 675.8 408.4 676.4 407.3 674.0ZM115.4 679.9 111.6 678.8 112.9 676.7 115.2 675.7 116.8 677.9ZM127.7 679.8 127.7 678.1 130.2 677.1 131.9 680.4 129.6 681.4ZM135.4 679.4 133.1 678.3 134.0 676.8 136.9 676.8 137.7 679.0ZM149.6 677.5 152.0 677.5 152.6 679.4 150.9 680.3 148.7 679.5ZM157.8 677.9 156.2 679.9 153.4 679.4 153.3 677.7 154.8 675.8ZM174.0 678.9 172.3 680.9 170.1 679.9 169.0 678.3 171.2 676.2 173.0 677.0ZM275.7 676.9 277.0 678.9 275.8 681.3 273.0 680.2 273.7 678.0ZM321.0 677.3 322.8 676.5 323.9 677.3 324.4 678.9 321.4 678.9ZM356.1 681.0 352.1 681.3 352.5 679.1 355.3 677.4ZM356.3 677.9 357.9 677.0 360.9 678.6 359.2 679.8 356.5 680.2ZM362.9 679.8 359.7 679.4 359.4 677.6 361.1 676.6 364.1 678.0ZM366.2 681.2 365.4 679.0 367.7 677.6 368.1 680.5ZM369.5 678.3 370.8 677.0 372.1 676.5 374.2 677.1 374.8 679.0 372.3 679.1ZM379.1 676.5 381.1 677.5 380.5 679.1 377.7 679.8 377.5 678.1ZM396.8 678.6 394.6 680.4 392.1 679.7 392.1 678.4 394.2 677.5ZM397.4 678.5 400.5 677.3 402.8 677.7 401.3 681.2 398.5 680.7ZM88.1 681.6 90.9 681.2 92.6 682.7 91.9 684.3 89.5 684.0ZM113.9 680.1 114.6 682.4 109.8 682.2 110.7 680.0ZM120.0 684.1 119.9 681.6 123.2 680.8 123.4 682.6 122.5 684.5ZM127.6 683.8 129.2 681.6 131.8 682.6 132.1 684.2 130.4 685.1ZM172.4 681.5 174.5 679.4 177.4 681.3 174.6 682.5ZM223.8 683.6 222.3 681.2 223.2 679.6 225.9 680.4 226.1 681.8ZM237.0 681.8 232.6 682.5 232.9 679.4 236.4 679.1ZM319.7 683.1 316.8 683.4 315.7 682.2 317.2 680.0 320.7 680.8ZM322.9 681.7 325.4 679.6 326.8 680.7 326.9 683.8 324.4 683.6ZM365.9 685.4 363.9 682.7 367.3 682.0 369.2 684.5ZM376.4 680.3 375.8 682.9 373.0 681.7 373.1 680.1 374.3 679.5ZM381.2 682.4 382.3 680.5 384.2 681.2 386.0 682.8 384.2 684.2 381.8 684.8ZM80.1 686.2 76.7 686.0 76.8 683.6 81.3 683.6ZM107.2 685.8 107.4 683.5 108.9 683.5 110.1 684.7 108.8 686.7ZM163.0 683.5 165.5 683.2 167.6 685.7 165.0 687.3 162.1 686.3ZM166.9 687.2 169.0 685.6 172.2 686.6 169.5 688.4ZM224.7 686.6 223.6 688.3 220.9 688.0 219.5 686.8 220.2 685.2 222.6 685.8ZM266.0 686.2 262.3 686.9 261.0 685.6 262.9 684.3ZM321.3 686.2 322.4 685.3 324.9 684.5 324.7 686.9 324.6 688.6 321.6 688.4ZM355.9 686.7 355.0 685.3 356.5 683.9 359.0 685.4 358.0 686.7ZM364.3 684.6 363.9 687.3 362.0 688.0 360.6 687.0 361.7 684.8ZM371.5 683.1 374.7 683.3 375.4 686.1 371.9 685.8ZM375.9 685.6 375.7 683.2 378.9 682.9 379.2 684.8 378.0 686.1ZM128.7 691.6 125.6 690.5 126.2 688.4 128.7 688.6 129.4 690.3ZM166.8 687.7 166.2 689.2 164.5 690.2 161.9 689.1 163.7 687.7ZM167.5 690.6 167.2 688.4 169.5 686.6 172.6 688.3 171.2 691.0ZM200.5 689.9 199.7 691.9 197.6 690.6 196.6 688.0 199.6 688.2ZM207.4 688.7 207.4 691.4 204.0 690.1 204.4 688.2ZM216.9 692.4 213.8 691.4 213.5 689.9 217.3 688.9 217.8 690.5ZM261.3 691.2 258.7 690.2 259.7 688.2 262.7 688.7ZM265.3 687.2 267.6 686.9 268.3 688.9 266.8 691.1 264.4 690.4ZM322.4 690.8 322.5 688.3 327.1 689.3 325.9 691.2ZM355.8 688.7 354.4 691.5 350.9 690.1 353.2 687.4ZM431.0 689.0 428.7 690.6 425.8 691.0 425.9 688.5 428.0 687.6ZM78.0 694.7 75.2 695.7 73.1 693.1 74.8 692.4 77.2 692.2ZM97.3 691.8 99.6 691.5 101.6 692.4 101.2 693.9 99.9 694.2 97.7 693.4ZM102.8 690.3 104.7 692.0 103.4 693.9 101.6 693.4 100.6 690.8ZM168.7 693.8 166.7 695.8 163.5 694.8 164.8 692.2 166.9 691.8ZM170.2 690.4 174.0 690.6 173.2 693.2 170.0 693.1ZM178.8 693.8 178.7 690.8 181.7 691.0 181.8 693.5 180.9 694.6ZM196.7 695.5 195.9 694.1 196.6 692.5 198.6 692.1 199.6 693.4 198.5 695.4ZM201.3 693.7 203.0 692.2 204.2 692.7 204.9 694.4 203.0 695.7 201.4 695.1ZM219.4 691.8 218.3 693.5 215.7 693.7 214.2 692.3 216.5 690.5ZM224.5 690.8 225.5 690.0 228.2 690.9 228.8 692.4 226.6 694.0 224.6 693.4ZM322.3 691.6 320.3 693.6 318.3 691.4 319.5 689.9ZM337.1 692.3 338.4 693.4 338.4 695.0 337.7 695.6 335.2 695.3 334.6 694.3ZM352.4 693.1 349.5 694.4 346.8 692.6 349.1 690.6ZM351.5 690.8 353.9 691.3 354.9 693.1 352.1 693.7 350.3 692.6ZM263.7 695.2 266.0 694.1 267.2 694.8 267.4 696.8 264.7 696.9ZM343.9 693.5 347.1 694.1 346.1 697.3 342.2 696.4ZM353.3 696.7 352.1 698.3 349.1 696.9 350.8 695.4ZM356.1 697.0 355.3 699.5 353.9 699.2 352.1 697.9 353.0 695.2 355.0 695.3ZM383.9 697.8 380.4 697.7 380.9 694.9 384.6 694.4ZM405.6 697.5 408.1 695.6 410.1 697.4 409.5 699.2 405.6 699.3ZM428.1 696.6 428.7 698.8 428.2 700.1 424.5 698.9 425.3 697.6 425.7 695.7ZM101.9 701.4 100.2 700.2 101.6 698.4 103.2 698.2 104.9 698.2 104.3 700.1ZM158.4 698.0 160.4 697.3 161.8 699.4 160.1 700.8 157.0 700.1ZM169.8 700.8 167.7 699.3 169.3 698.0 170.9 697.9 173.1 699.1 171.9 700.2ZM190.1 702.1 189.6 699.7 192.1 699.1 194.5 701.0 193.2 703.1ZM253.4 701.0 252.3 698.8 253.9 697.3 255.1 696.7 257.3 699.0 255.1 700.1ZM330.5 702.1 329.4 700.2 332.1 698.5 333.8 700.9ZM338.8 697.8 340.0 699.2 338.7 702.1 336.8 701.1 336.2 699.2ZM340.4 699.2 343.6 699.0 343.7 700.9 343.1 702.9 339.4 701.7ZM378.9 703.2 377.5 701.3 380.6 699.6 382.1 702.4ZM407.2 700.2 409.7 699.5 409.9 701.9 409.6 703.1 407.3 702.5 405.7 701.1ZM422.4 698.6 423.6 697.6 425.1 697.5 425.9 698.9 424.8 700.4 423.7 700.0ZM96.7 705.3 94.2 706.7 92.2 705.7 94.2 703.6ZM191.3 702.7 194.5 703.2 194.4 706.0 191.4 704.5ZM252.6 702.6 251.8 705.1 249.9 705.3 247.7 704.1 250.1 702.1ZM256.4 700.8 259.7 701.3 259.7 704.3 256.7 703.1ZM298.8 705.7 296.8 704.1 299.5 702.7 301.0 702.0 302.2 704.7 299.9 705.4ZM325.2 701.1 327.5 702.3 327.4 704.4 325.5 704.8 324.0 703.5ZM331.3 705.8 328.9 706.6 328.2 704.1 330.5 703.1ZM346.0 704.9 343.3 703.0 343.0 701.3 346.7 701.4 347.6 703.4ZM95.4 706.3 98.5 707.4 99.7 709.1 96.2 709.8 95.4 708.2ZM102.0 708.2 101.5 706.4 102.9 704.5 105.3 705.2 105.1 706.7 104.5 708.4ZM157.8 705.3 156.5 707.3 154.1 707.6 153.7 705.7 156.2 704.1ZM203.5 710.5 201.8 708.4 203.2 707.1 206.0 709.1ZM256.8 707.7 254.5 708.7 253.2 707.2 255.8 705.5ZM257.5 707.7 258.6 706.1 261.4 705.4 262.0 707.4 260.3 708.7ZM309.8 709.5 308.4 706.7 310.8 705.5 313.2 707.1 312.3 709.1ZM313.3 709.1 313.6 707.2 316.9 707.7 318.4 709.0 317.2 709.9 315.5 710.2ZM375.5 706.2 376.7 708.4 374.7 710.0 372.4 709.0ZM93.5 709.7 96.3 710.0 98.4 711.8 95.2 713.6 94.1 712.3ZM223.3 711.3 222.0 709.2 225.5 708.8 226.3 711.5ZM312.7 712.7 311.8 711.6 312.1 710.0 315.2 709.3 315.5 711.7 315.1 712.9ZM331.3 710.8 331.3 712.7 329.9 713.7 327.6 713.4 327.4 711.4 329.0 710.2ZM344.5 708.8 346.1 708.8 347.4 710.0 347.1 711.8 345.0 711.4 343.7 710.2ZM375.3 709.6 376.8 707.5 379.0 709.9 376.8 711.0ZM380.6 712.3 381.0 710.7 382.8 710.8 383.9 711.1 383.9 712.8 381.3 714.1ZM163.4 716.6 161.1 717.9 160.5 715.5 160.9 713.7 164.5 715.4ZM192.7 717.0 190.1 717.0 189.8 713.5 192.8 712.8 193.7 714.9ZM248.1 713.0 249.7 714.7 248.5 716.3 246.5 717.3 245.5 714.1ZM254.0 715.9 253.5 714.7 254.1 713.2 257.2 714.4 256.6 715.7ZM283.1 713.4 283.8 712.1 286.3 712.4 288.2 713.5 286.5 715.2 284.0 715.1ZM361.3 716.7 360.6 714.6 363.6 714.3 365.8 716.2 363.2 717.7ZM379.6 714.2 378.7 716.6 377.0 717.1 375.7 715.2 377.9 713.9ZM386.2 712.9 387.1 714.1 385.9 715.2 384.6 715.2 382.3 714.3 383.9 712.0ZM433.3 713.4 432.0 715.3 429.5 714.8 429.8 712.6ZM160.6 717.6 161.2 719.3 158.3 721.2 157.0 719.5 157.0 717.3ZM182.4 719.4 183.0 717.2 184.9 716.9 186.3 717.9 186.7 720.1 184.9 720.2ZM198.4 719.1 196.7 718.0 198.5 716.5 201.1 716.2 201.2 718.4ZM204.6 719.7 204.8 716.9 207.4 716.7 208.3 719.4ZM323.9 720.8 322.5 718.5 324.7 717.1 327.4 718.8 326.8 720.6ZM364.3 719.3 363.0 721.5 361.4 721.4 359.7 720.1 359.5 718.2 362.8 718.4ZM381.4 715.9 382.9 717.5 382.5 719.4 378.3 718.7 378.6 716.4ZM385.9 717.4 388.2 719.1 386.8 720.7 383.3 720.0 383.5 717.2ZM420.7 719.5 417.5 719.8 415.4 717.6 419.0 716.2ZM424.1 718.5 422.6 720.1 420.6 719.2 419.5 717.3 422.9 716.2ZM148.5 719.3 149.6 719.3 152.1 720.6 150.5 721.8 148.1 722.1 147.3 721.1ZM159.5 724.5 157.8 721.7 161.1 720.6 161.8 722.5ZM181.7 720.1 183.0 722.6 182.9 724.5 179.7 723.5 179.6 721.4ZM188.8 721.7 188.4 724.2 185.6 723.9 186.1 721.4ZM189.8 721.2 192.4 721.7 192.2 723.1 191.0 725.1 188.6 724.2 188.4 722.9ZM233.4 720.7 235.4 720.6 235.6 722.9 233.2 723.3 231.8 722.0ZM250.4 720.4 248.1 722.4 245.5 721.6 247.4 718.7ZM298.2 722.5 298.3 721.2 298.7 719.1 301.4 718.5 302.9 719.9 301.8 722.0ZM316.3 723.5 315.0 720.9 317.3 720.5 318.7 722.7ZM327.9 721.5 329.0 723.7 325.8 724.8 323.9 723.1 324.5 721.2ZM343.5 722.8 340.3 723.6 338.8 722.3 340.3 719.9 343.5 721.6ZM369.7 723.0 367.8 721.3 368.4 720.0 370.1 719.3 371.8 718.9 373.0 721.4ZM415.3 721.3 418.1 720.4 419.4 722.4 416.6 724.1 414.5 722.8ZM423.2 719.4 423.4 721.6 420.6 722.7 418.2 720.9 420.0 718.6ZM424.2 724.6 422.8 721.6 425.9 720.9 427.9 723.0ZM432.8 722.4 430.6 721.5 431.0 719.6 434.2 719.6 434.7 721.1ZM86.9 723.3 87.2 724.7 85.1 725.7 83.7 724.5 84.7 722.5ZM156.4 723.0 159.4 722.8 159.5 725.4 157.9 725.7 155.5 725.1ZM159.5 723.5 163.3 724.4 163.1 726.9 159.5 725.7ZM165.4 725.3 167.9 724.9 169.9 726.3 166.8 727.8 165.1 727.2ZM205.3 729.2 202.2 727.4 203.2 725.3 205.5 725.4 206.5 727.0ZM286.6 726.4 285.9 723.9 288.3 722.2 290.4 723.7 289.1 725.5ZM329.2 724.7 332.2 725.4 331.5 727.4 330.1 728.6 327.7 728.4 328.0 726.9ZM383.5 724.3 382.0 726.2 379.7 725.4 379.1 723.7 381.2 722.5 382.9 722.9ZM389.7 725.8 389.3 723.5 391.9 723.6 392.9 725.8ZM85.3 729.0 83.9 731.1 82.1 731.2 80.1 730.0 81.3 727.8 83.5 728.6ZM123.8 727.2 126.1 727.4 124.8 729.1 123.0 730.0 122.0 729.1 121.6 727.4ZM174.8 730.4 174.9 728.8 178.0 727.9 178.6 730.1 178.2 731.8ZM190.2 728.8 193.1 730.0 192.0 731.8 189.3 730.8ZM205.4 730.2 201.4 729.7 201.5 727.3 203.6 725.9 205.4 728.1ZM227.8 729.7 225.1 728.5 227.2 725.7 229.9 726.6 230.5 729.0ZM242.9 729.2 239.0 730.2 237.0 728.5 241.1 727.6ZM283.0 730.5 280.8 729.0 282.7 728.1 285.1 727.3 285.9 728.4 285.3 730.6ZM367.0 729.2 365.8 727.3 368.0 726.7 369.4 728.4ZM87.1 734.5 84.7 733.6 82.8 731.9 84.7 731.1 86.4 730.1 87.9 731.8ZM99.1 733.5 99.6 730.9 103.1 732.1 102.1 733.7ZM148.1 735.4 144.1 734.9 144.9 732.2 148.4 732.5ZM177.4 736.0 176.6 733.4 180.6 732.5 181.0 735.4ZM191.9 730.7 192.5 733.6 189.7 733.6 188.8 731.3ZM206.4 735.5 204.5 734.5 204.0 731.9 206.4 731.2 207.9 733.7ZM217.7 734.7 217.2 732.5 218.8 731.3 221.2 731.0 220.8 734.0ZM280.8 734.4 277.7 734.1 277.6 732.3 279.9 730.7 281.1 732.3ZM317.0 733.1 317.2 733.9 316.1 735.8 314.0 735.5 312.9 733.6 314.7 733.1ZM353.0 732.4 350.1 733.5 348.7 732.0 351.1 730.7ZM362.1 732.2 363.1 729.3 365.6 730.1 366.0 731.5 364.7 733.4ZM384.6 731.9 386.1 730.4 388.4 732.1 387.2 734.2 384.4 734.6Z" fill="#e6e7ee"/></g>
<rect x="75" y="726" width="347" height="6" fill="#08080a"/>
<rect x="243.0" y="203" width="13" height="33" fill="url(#gShaft)"/>
<polygon points="233.5,235 265.5,235 249.5,258" fill="#2cb7de"/>
<rect x="243.0" y="352" width="13" height="29" fill="url(#gShaft)"/>
<polygon points="233.5,380 265.5,380 249.5,404" fill="#2cb7de"/>
<rect x="243.0" y="500" width="13" height="28" fill="url(#gShaft)"/>
<polygon points="233.5,527 265.5,527 249.5,550" fill="#2cb7de"/>
<rect x="243.0" y="648" width="13" height="29" fill="url(#gShaft)"/>
<polygon points="233.5,676 265.5,676 249.5,698" fill="#2cb7de"/>
<rect x="111" y="292" width="8" height="20" fill="url(#gSmall)"/>
<polygon points="105.5,311 124.5,311 115,326" fill="#5cc6ea"/>
<rect x="111" y="438" width="8" height="19" fill="url(#gSmall)"/>
<polygon points="105.5,456 124.5,456 115,471" fill="#5cc6ea"/>
<rect x="111" y="584" width="8" height="21" fill="url(#gSmall)"/>
<polygon points="105.5,604 124.5,604 115,618" fill="#5cc6ea"/>
<rect x="111" y="731" width="8" height="20" fill="url(#gSmall)"/>
<polygon points="105.5,750 124.5,750 115,765" fill="#5cc6ea"/>
<rect x="379" y="292" width="8" height="20" fill="url(#gSmall)"/>
<polygon points="373.5,311 392.5,311 383,326" fill="#5cc6ea"/>
<rect x="379" y="438" width="8" height="19" fill="url(#gSmall)"/>
<polygon points="373.5,456 392.5,456 383,471" fill="#5cc6ea"/>
<rect x="379" y="584" width="8" height="21" fill="url(#gSmall)"/>
<polygon points="373.5,604 392.5,604 383,618" fill="#5cc6ea"/>
<rect x="379" y="731" width="8" height="20" fill="url(#gSmall)"/>
<polygon points="373.5,750 392.5,750 383,765" fill="#5cc6ea"/>
<path d="M648,388 L648,282 C648,246 656,222 692,213 L767,213 C803,222 812,246 812,282 L812,388 C812,398 778,405 730,405 C682,405 648,398 648,388 Z" fill="url(#gBody)"/>
<path d="M648,282 C648,246 656,222 692,213 L767,213 C803,222 812,246 812,282 L812,300 L648,300 Z" fill="url(#gShoulder)"/>
<path d="M694,214 L694,206 C694,201 700,199 706,199 L753,199 C759,199 765,201 765,206 L765,214 C765,218 750,221 729.5,221 C709,221 694,218 694,214 Z" fill="#e0e0e0"/>
<path d="M701.5,203 L701.5,166 C701.5,158 712,154 729.5,154 C747,154 757.5,158 757.5,166 L757.5,203 C757.5,207 745,209 729.5,209 C714,209 701.5,207 701.5,203 Z" fill="#dcdcdc"/>
<ellipse cx="729.5" cy="163" rx="23" ry="6" fill="#ececec"/>
<ellipse cx="729.5" cy="163" rx="13" ry="3.5" fill="#d6d6d6"/>
<line x1="719" y1="170" x2="719" y2="207" stroke="#dcdcdc" stroke-width="1.5"/>
<line x1="741" y1="170" x2="741" y2="207" stroke="#e2e2e2" stroke-width="1"/>
<defs><linearGradient id="gFrame" x1="0" y1="0" x2="1" y2="0"><stop offset="0" stop-color="#c8c8c8"/><stop offset="0.85" stop-color="#b2b2b2"/><stop offset="1" stop-color="#d6d6d6"/></linearGradient><linearGradient id="gRB" x1="0" y1="0" x2="1" y2="0"><stop offset="0" stop-color="#dcdcdc"/><stop offset="0.6" stop-color="#dcdcdc"/><stop offset="1" stop-color="#bdbdbd"/></linearGradient></defs>
<defs><linearGradient id="gCart" x1="0" y1="0" x2="1" y2="0"><stop offset="0" stop-color="#dcdcdc"/><stop offset="0.12" stop-color="#e9e9e9"/><stop offset="0.5" stop-color="#ebebeb"/><stop offset="1" stop-color="#e2e2e2"/></linearGradient></defs>
<path d="M661,500 L661,428 C661,416 684,409 729,409 C774,409 797,416 797,428 L797,500 L802,503 L802,518 C802,525 770,529 729,529 C688,529 656,525 656,518 L656,503 Z" fill="url(#gCart)"/>
<path d="M661,428 C661,416 684,409 729,409 C774,409 797,416 797,428 L797,436 C785,426 760,422 729,422 C698,422 672,426 661,436 Z" fill="#d9d9d9"/>
<path d="M656,503 L661,500 L797,500 L802,503 L802,518 C802,525 770,529 729,529 C688,529 656,525 656,518 Z" fill="#e8e8e8"/>
<path d="M656,505 C670,509 700,511 729,511 C758,511 790,509 802,505" fill="none" stroke="#d4d4d4" stroke-width="1"/>
<path d="M690,528 L690,440 C690,432 698,427 712,427 L782,427 L793,436 L793,519 L786,528 Z" fill="url(#gFrame)"/>
<clipPath id="cCart"><path d="M696,528 L696,444 C696,437 703,432 716,432 L775,432 C781,432 785,436 785,442 L785,520 C785,525 770,529 742,529 Z"/></clipPath>
<path d="M696,528 L696,444 C696,437 703,432 716,432 L775,432 C781,432 785,436 785,442 L785,520 C785,525 770,529 742,529 Z" fill="#2e2e30"/>
<path d="M696,528 L696,444 C696,437 703,432 716,432 L775,432 C781,432 785,436 785,442 L785,520 C785,525 770,529 742,529 Z" fill="#000" filter="url(#fCartC)"/>
<path d="M694,516 C720,519 760,519 787,514 L787,529 L694,529 Z" fill="#262628" opacity="0.55"/>
<path d="M696,528 L696,444 C696,437 703,432 716,432 L775,432 C781,432 785,436 785,442 L785,520 C785,525 770,529 742,529 Z" fill="none" stroke="#222224" stroke-width="2.5" opacity="0.7"/>
<rect x="678" y="530" width="34" height="18" fill="#dcdcdc"/>
<rect x="735" y="529" width="17" height="18" fill="#e6e6e6"/>
<path d="M647,590 C647,583 690,579 728.5,579 C767,579 810,583 810,590 L810,610 C810,624 770,633 728.5,633 C687,633 647,624 647,610 Z" fill="#cccccc"/>
<path d="M647,590 C647,583 690,579 728.5,579 C767,579 810,583 810,590 L810,598 C806,606 770,614 728.5,614 C687,614 651,606 647,598 Z" fill="#d4d4d4"/>
<path d="M647,599 C651,607 687,615 728.5,615 C770,615 806,607 810,599" fill="none" stroke="#bdbdbd" stroke-width="1.2"/>
<path d="M657,592 L657,556 C657,549 662,545 670,545 L708,545 L708,600 C690,599 670,597 657,592 Z" fill="#dadada"/>
<path d="M657,582 C672,588 690,591 708,592 L708,600 C690,599 670,597 657,592 Z" fill="#c8c8c8"/>
<rect x="755" y="537" width="45" height="57" rx="3" fill="url(#gRB)"/>
<path d="M722,552 L755,556 L755,598 C745,599 735,600 722,600 Z" fill="#b4b4b4"/>
<path d="M706,628 L706,552 C706,548 710,546 714.5,546 C719,546 723,548 723,552 L723,628 Z" fill="#e4e4e4"/>
<path d="M657,592 C672,598 700,601 728.5,601 C757,601 786,598 800,592 L800,598 C786,604 757,607 728.5,607 C700,607 672,604 657,598 Z" fill="#dcdcdc"/>
<ellipse cx="748" cy="856" rx="23" ry="6.5" fill="#adadad"/>
<ellipse cx="837" cy="830" rx="22" ry="6.5" fill="#b4b4b4"/>
<path d="M586,712 C590,704 600,700 612,697 L778,657 C790,654 802,654 812,658 L874,688 C886,694 890,702 890,712 L891,806 C891,813 887,817 880,819 L700,867 C694,868 690,868 686,867 L596,840 C589,838 584,833 584,826 Z" fill="#e4e4e4"/>
<path d="M600,700 L778,657 C790,654 802,654 812,658 L874,688 C884,693 888,700 884,704 L725,748 L612,706 Z" fill="#e7e7e7"/>
<path d="M700,752 L884,704 C889,708 890,712 890,712 L891,806 C891,813 887,817 880,819 L700,867 Z" fill="#d5d5d5"/>
<path d="M700,752 L884,704 L886,722 L700,772 Z" fill="#dcdcdc"/>
<path d="M584,718 C584,709 591,705 599,708 L684,744 C689,747 691,751 691,757 L691,862 C691,866 688,868 684,867 L594,840 C588,838 584,834 584,826 Z" fill="#e8e8e8"/>
<path d="M691,757 L691,866 L699,866 L699,752 Z" fill="#dadada"/>
<path d="M586,720 C586,712 592,709 599,712 L683,747" fill="none" stroke="#d4d4d4" stroke-width="1.5"/>
<path d="M585.5,720 L585.5,826 C585.5,833 589,837 595,839" fill="none" stroke="#d6d6d6" stroke-width="1.5"/>
<path d="M598,703 C598,699 602,698 607,699 L700,731 C712,735 722,742 722,755 C722,767 714,773 706,773 C698,773 692,768 692,760 C692,753 688,749 682,747 L603,713 C599,711 598,707 598,703 Z" fill="#f2e9c9"/>
<g clip-path="url(#cFoamY)"><path d="M597.0 695.8 594.8 696.6 594.1 694.5 595.9 694.2ZM600.0 691.7 602.0 692.9 600.7 694.0 599.2 693.1ZM603.5 691.6 605.3 692.4 605.0 693.4 603.3 694.2 602.3 693.4ZM610.9 692.2 611.1 694.1 609.2 694.6 608.9 693.4ZM598.7 697.1 597.0 696.7 596.6 695.3 598.4 694.4ZM607.9 697.0 609.5 696.8 610.3 698.0 609.9 699.0 608.6 699.6 607.6 698.3ZM611.5 696.1 612.3 697.7 611.8 698.7 610.4 699.0 610.1 698.3 609.9 697.0ZM600.9 699.5 601.4 700.5 600.8 702.1 599.1 701.3 599.7 699.6ZM604.1 697.8 605.3 698.9 604.4 700.3 602.3 700.0 602.0 698.6ZM604.9 698.7 607.0 698.8 607.3 700.2 605.7 701.4 604.3 699.9ZM600.2 703.9 599.7 701.9 601.2 702.0 602.1 701.8 602.1 703.6 600.9 704.6ZM603.8 703.7 603.0 702.9 602.9 701.9 604.1 701.2 605.2 701.8 605.0 703.7ZM624.4 702.0 624.3 704.0 622.7 704.2 621.9 703.3 623.2 701.7ZM626.3 703.3 626.8 702.6 627.8 701.9 629.0 702.8 628.6 704.6 627.4 704.9ZM595.9 708.4 595.3 707.5 595.9 705.9 597.3 706.4 597.0 708.2ZM603.8 708.8 601.9 707.3 604.3 705.9 604.7 707.7ZM614.8 708.3 613.8 707.4 613.8 705.6 615.6 705.8 615.9 707.0ZM624.8 705.9 626.5 707.2 626.0 708.3 624.4 708.6 623.9 707.3ZM626.7 708.7 626.3 707.5 627.6 706.0 628.3 707.2 628.7 708.9ZM631.3 705.9 632.5 704.5 633.9 705.8 632.3 707.3ZM634.0 707.4 634.1 706.4 635.0 705.4 636.4 706.7 635.6 707.7ZM640.1 706.3 640.1 708.2 638.8 709.0 637.7 707.8 638.1 706.7ZM599.9 709.6 598.0 710.4 597.2 708.3 598.6 707.7ZM603.0 708.8 603.6 707.1 605.1 707.7 605.7 709.2 604.5 710.2ZM620.2 710.7 618.6 710.7 618.9 708.9 620.3 709.0ZM622.2 709.8 622.7 708.7 624.8 708.4 625.0 709.6 624.6 711.4 622.8 710.8ZM626.0 709.2 627.6 710.4 626.4 711.8 625.0 711.1ZM636.2 709.7 637.4 708.6 638.5 709.2 638.7 710.9 636.7 711.0ZM597.3 715.3 596.0 714.6 596.6 713.2 597.8 713.1 598.3 714.4ZM603.9 712.0 603.3 713.5 602.1 713.8 601.3 712.8 601.5 711.9 602.9 711.9ZM613.2 712.1 614.5 713.0 613.1 714.4 612.1 714.3 611.5 712.7 612.2 711.7ZM622.7 712.1 622.8 713.5 620.8 713.6 620.9 711.6ZM624.2 711.9 625.9 712.8 625.1 713.6 623.8 713.6 623.3 712.4ZM626.8 711.4 628.6 710.9 630.0 711.9 628.0 713.5ZM633.7 711.0 633.5 712.9 632.5 713.4 631.0 712.2 630.9 711.2 632.6 710.3ZM636.4 712.1 635.8 713.0 634.0 712.4 634.8 710.9 635.5 710.4 637.0 710.6ZM638.8 714.6 639.0 713.4 639.9 712.2 641.0 712.9 640.6 714.3ZM643.9 713.2 642.4 713.6 642.0 711.8 643.8 711.2ZM603.2 717.3 602.0 718.5 600.8 716.9 601.7 715.5 603.4 715.5ZM630.0 716.6 629.6 715.9 629.9 713.7 631.5 714.6 631.8 715.6ZM637.9 717.9 637.3 717.4 637.5 716.2 639.1 715.6 639.9 717.0 639.2 717.7ZM650.6 713.8 651.9 714.6 652.1 716.0 651.0 717.0 649.9 715.5ZM654.6 716.0 653.1 714.4 655.1 713.9 655.9 715.1ZM605.3 720.2 604.1 720.8 602.8 720.2 602.9 718.7 604.3 718.4ZM609.8 718.3 611.3 719.8 610.2 720.9 608.5 719.7ZM612.5 719.2 614.2 717.4 615.1 718.9 614.7 720.4 613.5 720.1ZM619.1 716.9 620.7 717.2 621.3 718.2 621.0 719.7 619.4 718.8ZM629.6 717.8 628.7 719.2 627.5 718.3 628.6 716.5ZM636.8 717.9 637.9 718.9 636.9 720.4 635.5 720.3 634.9 719.0ZM641.6 721.3 640.4 719.7 641.4 718.7 643.2 719.1ZM645.9 718.0 646.9 718.9 645.9 720.1 645.4 720.3 644.6 718.9 644.7 718.3ZM653.7 719.3 654.5 720.5 653.3 721.3 651.9 721.2 651.8 720.3 652.5 719.4ZM603.6 723.6 603.0 721.8 605.4 721.7 605.7 723.1ZM609.4 723.3 608.6 724.8 606.9 724.0 606.9 722.5 608.3 722.0ZM625.7 722.3 627.3 721.7 628.6 722.5 628.5 724.0 626.7 723.7ZM634.3 725.1 632.9 723.7 632.9 722.6 634.8 722.0 635.8 723.0 635.7 724.5ZM652.1 721.0 652.4 722.4 649.5 722.0 650.6 720.0ZM654.3 721.3 656.3 720.4 657.1 721.6 656.3 723.0 655.3 722.5ZM663.6 722.6 662.0 723.2 660.8 721.5 661.9 720.8 663.4 721.1ZM664.8 721.5 665.6 720.5 666.9 721.7 667.0 722.7 665.5 723.5 664.7 722.7ZM668.4 722.9 670.4 722.2 671.6 723.3 669.2 724.3ZM614.0 725.6 612.9 727.8 611.5 726.8 612.6 725.0ZM664.9 726.0 663.8 724.6 664.7 723.3 666.5 723.4 666.1 725.2ZM674.4 723.7 675.9 723.0 677.5 724.6 675.8 725.9ZM628.9 727.6 628.1 729.1 626.2 729.2 626.3 727.1ZM640.8 729.7 640.0 727.5 641.6 726.9 642.6 728.6ZM647.1 728.8 645.5 730.5 644.3 728.9 645.4 727.6ZM648.9 728.1 649.8 729.7 648.2 731.2 646.6 729.9 647.3 728.2ZM653.2 727.5 651.9 729.4 650.2 727.7 652.0 726.5ZM657.3 728.3 658.6 727.3 659.5 728.7 659.2 730.1 657.5 730.1ZM666.4 727.9 664.2 728.8 664.2 726.6 665.9 726.3ZM667.5 726.6 669.0 726.1 670.2 727.5 668.2 728.9ZM620.4 731.9 621.0 729.4 622.9 730.5 622.2 731.7ZM643.7 731.2 645.1 733.1 643.1 733.7 642.3 731.9ZM662.3 732.5 663.7 730.8 664.7 731.6 663.7 733.9ZM677.2 729.3 677.6 730.8 676.5 731.4 675.1 731.1 674.7 730.0 675.7 729.2ZM682.6 733.4 682.6 731.7 684.3 731.8 684.6 733.9ZM689.2 730.1 690.1 731.8 688.6 732.5 687.7 731.1ZM633.2 733.7 634.9 734.4 634.8 735.6 634.0 736.1 632.5 735.3ZM642.4 735.3 640.9 735.6 640.0 734.7 640.4 733.6 642.1 733.3 642.6 734.3ZM643.4 735.8 643.2 734.3 644.8 733.4 645.9 734.9 645.3 736.1ZM647.6 733.8 649.1 734.6 649.1 735.6 647.5 736.0 646.0 735.1 647.0 734.1ZM655.0 735.3 654.2 735.0 653.2 733.4 654.9 732.8 656.4 734.0ZM658.3 734.4 660.6 734.6 660.4 736.0 659.6 736.8 658.2 736.1ZM662.1 735.8 661.5 734.6 663.2 733.3 664.0 735.0 663.4 736.0ZM676.9 736.2 675.6 736.6 674.9 735.7 674.6 734.0 676.6 733.9 676.9 735.1ZM680.7 732.9 682.1 732.5 682.6 733.8 681.9 734.6 680.7 734.2ZM690.0 735.4 689.3 736.3 687.3 736.0 687.3 735.1 687.9 733.8 689.6 734.2ZM695.7 735.9 694.3 735.2 694.9 733.9 696.5 733.7 696.7 735.5ZM641.8 738.6 640.2 739.1 639.0 738.4 639.6 737.0 640.8 737.1ZM648.2 740.0 646.0 739.3 646.4 737.2 647.7 737.5 648.9 738.9ZM653.6 736.4 655.1 736.8 654.9 738.6 653.6 739.0 652.0 737.8 652.2 736.8ZM662.3 737.8 661.1 739.1 659.4 737.6 660.9 735.8ZM676.6 736.1 678.7 735.6 679.0 737.9 676.7 737.8ZM694.0 737.9 692.5 738.6 691.6 736.7 693.0 735.7 694.3 736.2ZM662.9 741.8 662.0 742.3 660.9 741.5 660.7 740.7 661.9 740.1 663.3 740.7ZM668.8 741.0 670.4 740.7 670.5 742.9 669.1 743.6 668.0 742.6ZM674.9 740.3 675.1 741.8 673.4 742.6 672.2 741.2 672.7 739.5 673.9 739.5ZM678.5 742.3 677.9 743.0 675.8 742.4 676.1 740.8 677.2 740.2 678.4 740.8ZM684.3 740.2 686.4 741.3 685.0 743.0 683.1 741.0ZM687.8 742.9 686.3 742.3 686.5 740.5 688.4 741.1ZM691.1 741.7 689.2 741.7 689.0 739.9 689.8 739.1 691.5 740.3ZM694.8 738.6 695.3 740.2 694.4 741.4 693.3 740.9 692.8 739.6 693.4 738.8ZM703.1 743.0 701.8 742.1 702.9 740.7 704.3 741.0 704.4 742.8ZM709.1 739.0 709.6 739.1 709.9 741.1 708.4 741.5 707.3 740.9 707.3 739.1ZM648.9 743.1 650.9 743.4 651.1 745.0 649.7 746.2 648.3 744.7ZM657.0 746.0 657.4 744.3 658.2 743.7 659.4 744.4 659.8 745.8 658.2 746.4ZM679.5 743.8 678.2 744.7 677.2 744.1 677.5 742.5 678.5 742.7ZM680.4 745.0 682.1 744.0 683.9 745.7 682.2 746.5ZM685.2 745.4 686.7 743.8 687.5 744.3 688.1 746.1 686.4 746.6ZM689.6 741.8 690.9 742.1 691.8 743.6 689.9 744.5 689.0 742.9ZM693.5 746.3 691.6 746.6 690.4 745.6 691.4 743.9 692.8 744.7ZM697.4 744.0 698.5 744.5 697.9 746.3 695.6 745.9 695.5 744.2ZM708.2 742.3 708.7 743.5 708.5 744.8 707.0 745.4 706.0 744.2 706.7 743.0ZM712.1 745.2 711.1 745.7 710.3 744.5 711.1 742.7 711.8 742.9 713.3 744.3ZM663.7 746.6 664.2 748.3 662.8 749.0 661.5 747.9 662.5 746.8ZM675.7 746.2 675.4 748.3 673.1 748.3 673.6 745.6ZM678.6 746.3 677.4 748.0 676.0 747.1 676.4 745.8 678.0 745.2ZM683.5 747.4 684.5 748.3 683.7 749.7 682.1 749.5 682.6 747.5ZM685.3 748.2 685.6 746.4 686.9 745.8 687.8 747.7 686.6 748.8ZM692.1 749.3 691.0 749.8 690.3 748.6 691.0 747.6 691.7 746.9 693.2 748.3ZM694.9 747.3 696.1 745.7 697.8 747.1 696.5 748.7ZM700.3 747.6 701.9 746.8 702.7 748.8 701.2 749.6ZM705.2 747.2 707.8 747.3 706.9 749.2 705.4 749.4ZM707.9 745.3 709.5 744.6 710.2 746.2 709.4 747.3 708.3 747.2ZM663.4 749.7 661.9 750.3 660.8 750.3 661.0 748.7 661.9 747.9 662.6 748.6ZM667.5 752.2 666.5 751.5 667.8 750.1 669.0 750.1 669.4 751.5 668.5 752.5ZM691.8 752.4 690.6 752.7 689.6 751.4 690.9 750.4 691.7 751.1ZM693.5 748.8 695.0 749.8 693.9 751.0 691.9 750.8 692.2 749.0ZM695.3 750.1 695.9 749.1 697.3 748.9 697.8 750.5 697.5 751.8 695.9 750.8ZM699.8 750.1 699.4 748.8 701.2 747.7 702.1 749.0 701.5 750.8ZM708.1 749.5 709.2 749.4 710.0 750.7 709.2 751.7 708.2 751.6 707.5 750.3ZM712.0 748.2 712.8 749.8 711.1 751.3 710.1 749.4ZM716.6 749.1 718.2 749.0 719.2 750.9 716.9 751.0ZM668.1 751.1 668.5 752.3 667.0 753.6 665.3 752.6 665.5 751.2ZM676.2 752.4 678.1 752.0 678.3 753.8 676.9 754.9 675.7 754.0ZM679.4 753.1 681.1 752.6 681.9 753.5 681.7 754.5 681.0 755.8 679.7 754.8ZM683.1 753.2 683.9 751.2 684.7 751.1 686.1 752.0 685.4 753.6 684.2 753.8ZM691.8 755.2 689.9 755.6 689.8 754.2 690.4 752.9 691.6 753.3ZM702.8 751.6 704.3 752.2 703.2 754.1 701.9 753.3ZM715.9 753.6 715.7 755.2 713.6 755.6 712.6 754.4 714.0 753.2ZM697.3 759.3 696.4 759.0 694.8 757.6 695.8 756.3 696.7 756.9 697.7 757.8ZM701.0 754.7 701.9 754.6 702.5 755.7 702.0 757.1 700.5 756.6 699.6 755.8ZM711.2 757.4 709.7 757.4 709.2 755.9 710.1 754.8 711.7 756.0ZM715.1 757.1 714.0 756.6 714.2 754.6 715.6 755.1 716.4 756.9ZM723.1 756.8 721.4 758.3 720.5 757.8 720.9 756.3ZM695.2 759.4 693.2 759.7 693.2 758.6 695.1 757.7ZM701.0 758.2 701.2 759.5 700.1 760.5 698.9 759.8 698.7 758.4ZM703.5 758.1 704.5 759.4 702.8 760.5 701.3 759.9 701.6 758.0ZM710.4 761.3 708.6 761.5 708.3 759.6 709.6 759.2 711.3 759.5ZM717.1 758.1 717.6 759.3 715.6 759.7 714.6 759.1 715.3 757.6ZM696.2 763.1 694.9 762.2 695.1 761.0 696.2 761.0 697.7 761.9ZM701.9 763.5 703.2 762.1 704.0 763.0 704.3 764.9 702.6 765.0ZM706.4 762.6 707.5 762.1 708.6 763.4 708.3 764.3 706.7 765.0 705.7 763.8ZM717.9 762.4 719.8 761.8 720.3 763.2 720.1 764.0 719.1 764.6 718.0 763.6ZM697.5 765.2 698.7 763.9 699.9 764.7 699.4 765.8 698.7 766.7ZM704.1 764.7 704.8 766.1 703.5 767.5 702.1 766.6 702.6 765.0ZM717.4 765.6 718.5 765.6 718.9 766.8 718.5 768.0 716.8 767.7 716.5 766.7ZM707.8 769.9 706.9 768.4 707.5 767.4 709.3 767.9 709.3 769.3Z" fill="#ecdca8"/><path d="M600.8 697.3 601.7 696.1 602.9 696.3 603.2 697.6 601.3 698.2ZM605.9 695.0 607.0 695.9 605.9 697.7 604.4 696.6 604.3 695.3ZM614.4 697.5 614.3 695.9 616.2 694.8 617.3 696.5 616.7 697.6ZM598.2 700.3 598.2 701.4 597.1 703.0 596.0 702.0 595.7 700.9 596.8 700.0ZM612.5 700.1 613.8 698.7 615.2 700.1 613.8 701.6ZM617.5 699.4 618.8 700.3 617.9 701.3 616.1 701.6 616.0 699.3ZM596.6 704.2 595.9 702.7 597.1 701.2 598.4 702.4 598.2 703.4ZM608.3 703.9 610.3 703.0 610.9 703.4 611.2 705.5 609.8 706.2 608.2 705.2ZM613.7 703.1 613.2 704.9 612.0 704.7 610.8 703.9 612.4 702.4ZM617.5 704.3 615.3 705.1 614.2 704.4 615.4 703.0 616.7 702.4ZM618.9 704.4 617.2 703.9 617.5 702.5 618.4 702.1 619.7 703.0ZM632.1 705.2 631.6 704.4 631.5 703.4 633.0 702.9 633.9 703.9 633.5 705.6ZM599.9 708.2 599.4 706.7 601.1 705.4 601.8 706.7 601.7 708.2ZM606.8 704.6 606.5 706.6 604.2 706.4 604.5 704.1ZM609.1 707.5 609.4 706.7 611.0 706.6 611.7 707.4 610.7 709.2 609.2 708.8ZM601.4 709.5 603.2 709.9 602.9 711.7 600.9 711.7 600.5 710.6ZM610.2 709.4 609.3 710.6 608.7 711.6 607.8 710.5 607.4 708.8 609.0 708.1ZM612.4 709.3 613.4 708.3 614.6 709.3 613.6 710.9 612.6 710.8ZM616.4 710.0 615.2 708.7 616.7 706.8 617.6 707.9 618.0 709.3ZM640.7 708.5 640.8 710.5 639.9 710.9 638.9 710.2 639.6 708.5ZM599.8 710.6 600.6 711.8 599.6 713.1 597.8 712.7 598.4 711.2ZM608.2 713.2 606.4 712.9 605.8 711.5 608.1 710.6 608.9 711.8ZM617.3 711.0 618.6 710.4 619.7 711.6 618.6 712.8 617.5 712.7ZM648.4 714.3 647.2 715.0 645.7 714.2 646.7 713.0 648.3 713.2ZM652.1 714.1 651.3 713.2 651.9 711.6 653.6 712.4 653.1 713.6ZM598.5 717.8 596.3 718.1 596.3 716.1 597.6 715.9ZM606.3 715.9 604.6 714.5 606.2 713.4 607.9 714.2ZM608.3 718.1 606.3 717.5 605.9 716.5 607.4 714.8 608.3 716.1ZM611.1 715.1 612.2 715.0 612.4 717.1 611.6 717.5 609.8 716.7 610.0 715.8ZM618.8 714.9 618.4 716.0 616.8 716.2 615.9 715.0 617.2 713.9ZM620.3 715.8 618.8 717.4 617.2 715.3 618.9 715.0ZM623.8 715.1 624.2 716.2 624.1 717.1 623.0 717.4 621.7 716.5 621.9 715.5ZM639.6 716.2 641.2 715.5 642.4 717.0 640.8 718.6ZM644.4 716.1 645.5 715.1 646.6 716.2 646.1 718.0 644.3 717.8ZM649.3 716.3 648.1 717.3 646.8 717.7 646.4 716.5 647.4 715.1 648.3 715.5ZM656.8 716.5 657.0 714.7 659.1 715.1 659.2 716.8 657.9 717.6ZM606.5 718.4 607.4 719.3 607.3 720.6 605.8 720.9 604.7 719.4ZM616.3 720.6 616.7 719.3 618.3 719.2 618.6 720.5 617.8 722.0ZM639.7 720.8 638.9 721.4 637.3 720.7 637.2 719.5 638.1 718.7 639.5 718.9ZM650.1 717.6 651.0 716.9 652.3 718.3 651.8 719.5 650.4 720.0 649.9 719.0ZM656.2 720.2 655.0 719.0 655.4 717.2 656.5 717.0 657.3 718.4ZM658.9 720.1 658.8 718.5 660.3 718.0 661.4 718.5 660.6 720.4ZM612.0 722.1 612.7 723.1 612.9 723.9 611.9 724.8 610.4 724.4 610.9 722.5ZM621.0 723.2 619.8 724.6 618.9 723.7 618.7 722.4 620.3 721.6ZM637.6 720.2 638.9 720.2 639.5 721.4 639.0 722.5 638.1 722.9 637.4 721.7ZM641.4 722.3 639.9 721.5 641.3 719.3 642.5 721.0ZM659.1 720.3 659.9 721.6 659.4 723.5 657.7 722.6 657.6 721.6ZM606.5 723.7 607.5 722.7 608.6 724.2 607.9 726.0 606.5 725.1ZM611.9 724.9 611.4 726.7 610.3 727.0 608.9 726.3 609.9 724.5ZM630.3 726.8 628.6 725.9 628.4 724.8 629.8 723.8 631.2 725.8ZM631.9 725.2 630.4 725.6 630.1 724.1 631.0 723.0 632.4 723.4ZM633.9 726.1 634.8 724.6 636.3 725.2 636.4 726.4 635.9 727.2 633.8 726.9ZM646.7 724.2 647.5 725.7 645.8 726.1 644.7 725.7 645.0 723.7ZM650.1 722.6 652.1 723.5 652.1 725.1 651.1 725.9 649.6 724.6ZM652.7 723.9 654.7 724.1 655.0 725.9 652.3 726.2ZM659.6 727.5 659.0 726.9 658.8 725.8 659.4 724.7 660.6 725.1 660.8 726.1ZM667.4 725.0 668.7 723.6 670.3 724.8 669.6 725.9 668.1 725.9ZM631.7 727.3 633.2 726.3 634.3 727.6 633.3 728.8 631.8 728.4ZM635.7 727.3 636.9 726.9 637.7 727.9 637.4 729.4 635.6 729.4 635.4 728.9ZM657.1 727.3 657.8 728.8 656.4 729.2 655.0 728.6 654.8 727.2 655.9 726.2ZM676.5 728.5 677.4 727.3 678.7 727.8 679.3 728.9 678.2 730.4 677.1 730.0ZM628.6 730.2 629.5 731.3 628.2 732.4 626.9 731.5 626.5 730.4ZM634.0 732.2 632.6 733.4 631.4 732.7 632.1 731.2 633.2 730.4 634.2 730.8ZM634.8 733.8 634.7 731.5 635.2 731.2 636.6 731.6 637.4 733.0 635.9 733.9ZM638.6 730.3 640.0 730.7 640.6 732.1 638.8 733.1 637.6 731.8ZM648.6 732.6 648.4 731.0 648.9 730.3 650.4 730.5 651.2 731.4 650.8 732.3ZM656.0 730.8 655.4 732.8 653.0 732.0 654.3 730.7ZM658.3 732.7 656.9 731.9 657.5 730.4 658.9 731.4ZM679.0 733.5 677.2 732.2 678.5 730.9 679.5 732.2ZM685.6 730.4 686.9 731.3 686.7 732.8 685.3 732.5ZM635.2 734.5 635.3 733.5 636.9 732.4 637.3 734.1 636.5 735.6ZM650.7 736.7 649.0 735.5 650.6 734.3 652.1 735.0ZM666.7 734.1 665.9 736.5 664.6 735.8 664.1 734.9 664.8 733.9ZM668.2 734.4 667.9 733.8 668.4 732.5 670.2 732.2 670.5 733.2 670.2 734.5ZM670.8 735.6 672.0 734.3 673.7 734.2 673.7 736.1 672.4 736.9ZM689.9 734.5 690.5 734.1 691.4 735.3 690.7 736.6 689.8 736.9 688.7 736.0ZM637.1 736.1 638.1 737.6 636.6 739.2 634.6 737.7 635.6 736.6ZM657.6 736.6 657.6 738.1 656.3 738.6 655.0 737.3 655.9 736.0ZM664.2 736.4 665.3 736.9 665.6 738.3 664.2 738.6 662.8 738.1ZM673.7 736.7 675.4 736.9 675.8 738.2 674.3 739.2 673.5 737.8ZM682.1 736.4 683.6 736.1 684.4 737.2 683.2 738.7 682.3 737.9ZM687.1 739.8 685.7 739.7 685.6 738.3 687.3 737.9ZM690.2 738.2 689.3 737.3 689.5 736.6 690.5 736.2 691.5 736.9 691.3 738.6ZM700.0 738.9 698.9 737.9 699.6 736.4 700.8 736.2 701.1 738.1ZM645.6 741.9 644.2 743.0 642.6 741.9 643.2 740.9 644.7 740.7ZM660.4 742.5 658.8 742.4 658.1 741.1 658.5 740.5 660.0 740.8ZM665.7 740.5 667.1 741.6 666.9 742.9 665.2 743.1 664.2 741.3ZM679.3 741.6 681.0 740.7 681.5 743.4 679.6 742.8ZM697.6 739.8 698.9 740.1 699.5 741.0 697.8 742.3 696.6 741.1ZM703.6 742.6 704.0 739.8 705.3 740.4 706.4 742.0 705.1 742.8ZM653.7 741.8 655.2 743.0 655.1 744.1 653.9 744.9 653.1 744.1 652.6 743.1ZM664.0 745.9 662.4 745.2 662.7 743.7 664.9 744.0 665.0 745.3ZM670.4 744.7 668.5 745.1 667.9 743.4 668.6 742.5 669.8 742.7ZM672.5 743.4 671.8 744.5 670.7 744.5 670.3 743.5 670.4 742.3 672.4 742.2ZM674.7 743.5 674.9 742.5 675.4 742.2 676.8 742.3 676.8 743.5 676.2 744.5ZM705.9 742.7 706.5 744.7 705.3 745.7 703.9 745.1 704.0 742.8ZM661.0 746.6 659.3 747.8 658.6 746.1 660.5 745.4ZM666.0 748.5 665.0 746.7 666.2 745.7 667.5 746.9 667.3 748.7ZM669.9 747.8 669.7 749.0 668.3 749.1 667.0 748.3 667.7 746.8 668.9 746.9ZM698.1 749.5 698.5 746.9 700.4 747.4 700.1 749.0ZM713.2 745.3 714.1 747.1 712.7 747.5 711.3 747.1 711.6 745.1ZM717.5 748.7 715.9 747.9 717.3 746.5 718.6 747.2ZM665.2 750.0 666.4 751.1 664.7 752.2 663.8 751.7 663.6 750.0ZM671.0 748.0 672.3 749.2 672.3 750.5 670.2 750.5 669.4 749.4ZM674.3 749.5 676.1 749.6 676.4 751.7 674.2 750.9ZM678.4 748.1 679.1 750.3 678.2 750.7 676.5 750.4 676.9 748.6ZM720.4 749.4 722.0 749.3 722.0 751.6 719.4 751.2ZM674.6 754.6 673.6 755.8 671.6 754.4 672.5 752.9 673.7 753.3ZM690.3 752.7 689.3 755.0 687.5 754.1 688.5 752.0ZM699.1 753.6 700.9 753.8 700.6 755.8 698.5 755.5 698.4 754.0ZM715.8 751.9 717.0 750.8 718.3 751.3 717.9 752.9 717.6 753.5 716.0 753.1ZM722.3 752.2 721.4 753.9 720.1 753.1 719.9 752.0 720.8 750.8ZM675.1 757.4 673.8 756.4 674.7 755.0 676.5 755.8 676.8 757.3ZM680.7 755.9 680.5 757.5 679.1 758.2 678.1 757.2 678.9 756.3ZM682.9 757.2 681.8 757.5 680.8 756.7 681.9 754.8 683.1 755.7ZM685.3 754.2 686.4 754.6 686.8 756.6 685.6 757.1 684.7 757.0 683.8 755.6ZM688.1 754.9 689.5 755.9 689.2 757.6 687.7 757.7 686.8 756.5ZM695.0 756.2 694.3 757.5 693.2 757.4 692.7 756.2 694.1 755.2ZM705.2 753.8 706.2 754.7 706.3 755.5 705.6 756.3 704.4 756.0 703.5 755.2ZM707.9 755.5 707.6 757.2 706.0 757.5 705.8 756.0ZM718.1 755.4 719.2 754.4 720.7 756.0 719.6 757.3 718.1 757.2ZM684.7 760.5 682.8 759.6 682.6 758.2 684.3 757.4 685.2 759.1ZM706.4 758.3 707.5 760.7 705.5 761.5 705.0 759.6ZM694.8 763.9 693.8 764.3 693.0 764.0 692.7 762.8 694.1 762.1 695.1 762.2ZM708.3 762.2 709.1 760.7 711.0 760.9 710.9 762.4 710.3 763.4ZM716.9 763.0 716.7 763.9 714.8 764.3 714.3 762.8 716.0 762.3ZM705.8 767.6 705.2 766.3 706.0 764.6 707.3 765.5 708.0 765.9 707.0 767.2ZM710.6 767.6 709.4 768.6 708.4 767.3 709.4 766.0 710.8 765.9ZM720.7 764.7 720.3 766.0 719.6 766.4 718.5 765.3 719.3 763.7ZM702.8 768.7 704.3 767.8 705.6 769.2 703.8 769.8ZM712.7 769.3 711.4 770.2 710.4 769.5 711.4 768.1ZM712.6 770.5 712.8 768.9 714.1 768.3 715.5 768.8 715.3 770.3 714.3 771.1Z" fill="#f8f2dc"/><path d="M606.1 694.0 606.8 693.4 608.0 694.3 607.8 695.6 606.2 695.5ZM609.9 699.3 610.2 698.4 611.4 698.2 612.0 699.7 610.6 700.2ZM619.1 701.1 618.8 699.8 619.9 699.3 620.9 699.8 620.6 701.0ZM629.9 704.7 628.5 705.4 628.0 704.3 628.6 703.6 629.5 703.6ZM617.7 704.9 618.8 705.5 618.4 706.7 617.1 706.3 617.0 705.5ZM622.0 704.2 622.6 705.4 622.1 706.6 621.0 706.3 620.4 705.0ZM629.5 709.3 630.1 710.7 628.9 711.4 627.7 709.4ZM632.2 711.1 631.8 709.9 633.4 709.0 634.0 709.7 634.3 710.8ZM608.7 713.2 609.7 712.0 611.3 713.0 610.0 714.2ZM651.3 712.2 651.7 712.6 652.4 713.4 650.9 714.1 650.4 713.7 649.8 712.4ZM627.7 717.9 626.5 717.5 626.6 716.4 627.3 715.7 627.9 716.0 628.7 717.1ZM631.8 715.9 632.6 715.0 634.1 715.3 634.1 716.3 632.5 716.9ZM599.9 718.6 598.4 719.8 597.6 717.8 598.7 717.4ZM625.0 719.5 625.5 718.4 626.8 719.0 627.2 720.2 626.3 720.7 625.2 720.0ZM630.9 718.2 632.0 717.5 633.1 718.2 633.2 719.9 631.3 720.0ZM662.5 718.8 663.4 718.3 664.0 718.1 664.9 719.2 663.8 720.1 662.4 720.0ZM617.3 721.4 617.7 722.5 616.5 723.5 615.4 723.0 616.1 721.3ZM623.8 721.5 623.1 722.1 621.8 721.6 622.4 719.9 623.5 720.2ZM631.1 723.8 629.5 724.0 628.9 723.1 629.7 722.0 630.4 722.2ZM643.6 723.6 642.6 722.9 643.0 722.0 644.4 721.8 644.8 723.4ZM648.2 720.1 649.2 721.6 648.1 722.2 646.7 721.7 647.1 720.5ZM617.7 726.2 616.2 726.2 616.2 724.8 617.1 724.1 618.3 725.1ZM620.6 725.6 622.0 726.0 621.6 727.6 619.9 726.6ZM622.8 723.3 624.5 723.7 623.8 725.0 622.5 724.9ZM640.2 726.2 638.9 727.2 638.5 725.7 638.6 724.8 640.1 724.9ZM640.7 724.7 641.6 723.4 642.8 723.9 643.2 724.9 642.1 725.6ZM655.1 724.6 655.7 723.6 656.8 722.9 657.6 723.8 657.2 725.3 655.9 725.2ZM672.1 725.3 671.2 724.2 671.9 723.5 673.1 724.2ZM618.0 729.1 617.5 728.1 618.1 727.0 619.1 726.8 620.0 728.3 619.4 729.2ZM621.3 727.0 622.3 726.8 622.8 727.5 622.8 728.2 622.3 729.3 620.9 728.6ZM630.6 729.7 631.3 728.2 632.5 728.8 631.7 730.6ZM660.2 728.8 661.0 727.9 662.3 728.9 662.1 729.8 660.9 730.3ZM675.0 729.1 673.5 729.6 673.5 728.0 675.1 727.8ZM682.4 728.1 681.6 728.7 680.1 728.5 679.7 727.5 680.2 726.5 681.6 727.1ZM687.6 728.4 688.2 729.6 688.1 730.2 686.8 730.6 686.1 730.3 686.9 728.9ZM626.3 729.9 626.9 731.4 625.1 731.7 624.9 730.5ZM647.9 731.2 648.8 732.3 647.5 733.4 646.7 732.5 646.8 730.9ZM660.2 732.2 660.8 730.3 662.3 731.4 661.6 732.4ZM669.4 731.3 667.9 731.1 667.1 730.2 668.1 729.6 669.4 729.9ZM671.4 730.3 672.3 730.1 673.0 730.8 672.3 732.2 670.7 731.4ZM630.2 734.1 630.3 732.6 631.6 732.8 632.1 734.0 630.6 734.8ZM683.5 734.7 682.9 733.4 684.2 732.9 685.0 734.1ZM699.1 735.1 697.8 736.3 696.3 735.7 696.5 734.4 698.2 733.9ZM642.3 738.6 641.5 737.0 643.0 736.5 643.4 738.1ZM650.1 737.9 649.7 736.9 650.9 736.2 651.8 737.0 651.8 738.5 651.1 738.7ZM667.4 739.9 667.1 738.4 668.2 737.9 669.3 738.7 668.6 739.7ZM673.7 737.9 673.3 739.1 672.6 739.3 671.6 738.5 672.2 737.2ZM696.6 739.5 695.2 739.6 695.1 737.9 696.4 737.7ZM645.7 740.9 647.1 740.1 648.4 742.0 647.4 742.8 645.9 742.2ZM652.0 741.9 650.6 742.8 650.1 742.4 650.1 740.6 651.3 740.5 651.9 741.0ZM654.2 740.3 655.2 739.8 656.3 740.6 656.0 741.6 654.5 741.9 653.9 741.1ZM663.0 743.7 662.5 744.5 661.5 744.9 660.2 744.4 661.0 743.3 661.5 743.1ZM700.1 744.1 700.7 744.3 701.7 745.3 700.8 746.0 699.7 746.2 698.9 744.8ZM715.2 745.8 713.9 746.2 713.0 745.2 713.4 744.1 714.9 744.4ZM680.4 745.7 681.5 746.1 681.0 747.0 679.6 747.7 678.9 746.5 679.5 745.7ZM681.5 749.0 682.5 749.0 683.6 749.8 683.5 750.8 682.0 751.4 681.0 750.4ZM687.2 750.2 685.9 750.2 685.3 749.5 685.5 748.2 687.4 748.4ZM702.2 748.8 703.4 747.9 704.1 749.4 702.9 750.5ZM713.5 751.8 712.7 750.9 713.9 749.6 715.1 751.3ZM695.5 754.5 693.9 755.4 693.1 754.4 693.6 753.1 695.0 753.5ZM706.6 754.8 706.0 753.6 706.4 752.7 708.0 752.8 708.1 754.2ZM709.0 751.6 710.0 752.0 709.9 753.3 708.7 753.9 707.7 752.5ZM721.8 753.7 721.6 752.1 722.9 752.0 723.5 752.8 722.9 753.8ZM686.2 760.1 688.1 760.1 688.6 761.5 686.4 761.6ZM691.9 759.8 691.2 759.8 690.1 758.9 691.1 758.0 692.5 758.7ZM714.1 759.9 713.9 761.1 712.5 760.8 712.2 759.8 712.9 758.6ZM717.8 760.5 719.2 759.4 720.2 760.2 719.8 761.4 718.4 761.6ZM701.4 765.0 700.2 764.9 700.4 763.4 701.5 762.5 701.9 764.0ZM714.6 766.4 715.3 767.4 714.5 768.2 713.6 767.8 713.6 766.6Z" fill="#e6d391"/></g>
<path d="M591,718.0 L684,759.5 L684,766.5 L591,725.0 Z" fill="#b9b9b9"/>
<circle cx="591" cy="721.5" r="3.5" fill="#b0b0b0"/>
<path d="M598,721.5 L684,763.0 L684,766.0 L598,724.5 Z" fill="#e9dca6"/>
<path d="M591,736.2 L684,777.8 L684,784.8 L591,743.2 Z" fill="#b9b9b9"/>
<circle cx="591" cy="739.7" r="3.5" fill="#b0b0b0"/>
<path d="M598,739.7 L684,781.3 L684,784.3 L598,742.7 Z" fill="#e9dca6"/>
<path d="M591,754.4 L684,796.1 L684,803.1 L591,761.4 Z" fill="#b9b9b9"/>
<circle cx="591" cy="757.9" r="3.5" fill="#b0b0b0"/>
<path d="M598,757.9 L684,799.6 L684,802.6 L598,760.9 Z" fill="#e9dca6"/>
<path d="M591,772.6 L684,814.4 L684,821.4 L591,779.6 Z" fill="#b9b9b9"/>
<circle cx="591" cy="776.1" r="3.5" fill="#b0b0b0"/>
<path d="M598,776.1 L684,817.9 L684,820.9 L598,779.1 Z" fill="#e9dca6"/>
<path d="M591,790.8 L684,832.7 L684,839.7 L591,797.8 Z" fill="#b9b9b9"/>
<circle cx="591" cy="794.3" r="3.5" fill="#b0b0b0"/>
<path d="M598,794.3 L684,836.2 L684,839.2 L598,797.3 Z" fill="#e9dca6"/>
<path d="M591,809.0 L684,851.0 L684,858.0 L591,816.0 Z" fill="#b9b9b9"/>
<circle cx="591" cy="812.5" r="3.5" fill="#b0b0b0"/>
<path d="M596,813.0 L684,855.0 L684,857.5 L596,815.5 Z" fill="#cfcfcf"/>
<rect x="632" y="840" width="8.5" height="8" fill="#cacaca"/>
<defs><linearGradient id="gStem" x1="0" y1="0" x2="1" y2="0"><stop offset="0" stop-color="#d4d4d4"/><stop offset="0.3" stop-color="#e6e6e6"/><stop offset="0.65" stop-color="#dcdcdc"/><stop offset="1" stop-color="#cfcfcf"/></linearGradient></defs>
<path d="M712,642 C712,636 720,634 728.5,634 C737,634 745,636 745,642 C747,660 748,690 746,706 C745,711 738,713 728.5,713 C719,713 712,711 711,706 C709,690 710,660 712,642 Z" fill="url(#gStem)"/>
<ellipse cx="729" cy="639.5" rx="14" ry="4" fill="#a9a9a9"/>
<defs><clipPath id="cFoamY"><path d="M598,703 C598,699 602,698 607,699 L700,731 C712,735 722,742 722,755 C722,767 714,773 706,773 C698,773 692,768 692,760 C692,753 688,749 682,747 L603,713 C599,711 598,707 598,703 Z"/></clipPath></defs>
<defs><radialGradient id="gCot" cx="0.45" cy="0.4" r="0.62"><stop offset="0" stop-color="#e5e4e3"/><stop offset="0.45" stop-color="#dbdad8"/><stop offset="0.8" stop-color="#cac9c7"/><stop offset="1" stop-color="#b0afae"/></radialGradient><filter id="cb12" x="-0.2" y="-0.2" width="1.4" height="1.4"><feGaussianBlur stdDeviation="14"/></filter><filter id="cb6" x="-0.2" y="-0.2" width="1.4" height="1.4"><feGaussianBlur stdDeviation="4"/></filter>
<g id="cot">
 <rect x="0" y="0" width="1000" height="1000" fill="#e6e6e6"/>
 <rect x="0" y="0" width="1000" height="300" fill="#ebebeb"/>
 <rect x="0" y="860" width="1000" height="140" fill="#c4c6ca"/>
 <g filter="url(#cb12)">
  <ellipse cx="300" cy="315" rx="165" ry="175" fill="#b4b4b5"/>
  <ellipse cx="640" cy="270" rx="215" ry="150" fill="#b8b8b9"/>
  <ellipse cx="190" cy="555" rx="155" ry="185" fill="#b4b4b5"/>
  <ellipse cx="665" cy="525" rx="235" ry="215" fill="#b0b0b1"/>
  <ellipse cx="400" cy="710" rx="215" ry="190" fill="#acacad"/>
 </g>
 <path d="M450,135 L490,175 L470,300 L445,420 L430,300 Z" fill="#8f7a70"/>
 <path d="M700,330 C760,320 830,350 870,420 L840,440 C800,400 760,380 700,370 Z" fill="#7d5d4c"/>
 <path d="M100,660 C130,700 170,760 220,800 L200,830 C150,800 110,740 95,690 Z" fill="#7a5a48"/>
 <path d="M530,660 C600,700 660,760 720,820 L660,840 C610,790 560,740 520,700 Z" fill="#6a4a3a"/>
 <path d="M280,420 L390,510 L370,525 L270,440 Z" fill="#8a7466"/>
 <g filter="url(#cb6)">
  <ellipse cx="640" cy="265" rx="215" ry="150" fill="url(#gCot)"/>
  <ellipse cx="305" cy="310" rx="168" ry="178" fill="url(#gCot)"/>
  <ellipse cx="185" cy="558" rx="158" ry="185" fill="url(#gCot)"/>
  <ellipse cx="662" cy="522" rx="225" ry="205" fill="url(#gCot)"/>
  <ellipse cx="395" cy="708" rx="212" ry="182" fill="url(#gCot)"/>
 </g>
 <g filter="url(#cb12)" fill="none" stroke="#a3a19f" stroke-linecap="round" opacity="0.75">
  <path d="M455,160 C450,250 445,330 440,420" stroke-width="22"/>
  <path d="M270,430 C320,470 360,500 400,520" stroke-width="24"/>
  <path d="M470,420 C520,400 600,330 720,345" stroke-width="20"/>
  <path d="M220,650 C260,600 300,560 360,535" stroke-width="18"/>
  <path d="M530,680 C580,720 640,780 690,820" stroke-width="26"/>
 </g>
 <path d="M555,690 C600,720 640,760 690,810 L660,825 C620,790 580,750 545,720 Z" fill="#5e4234" opacity="0.85"/>
 <path d="M720,345 C770,345 820,370 850,410 L835,420 C800,390 760,375 720,365 Z" fill="#6e5040" opacity="0.85"/>
 <path d="M120,690 C150,730 180,770 215,795 L200,810 C165,785 135,745 115,705 Z" fill="#6e5040" opacity="0.7"/>
 <path d="M300,440 L380,505 L372,512 L292,448 Z" fill="#7a6456" opacity="0.8"/>
 <path d="M455,150 L475,190 L458,300 L448,400 L442,300 Z" fill="#8a7a72" opacity="0.8"/>
</g>
</defs>
<g clip-path="url(#cC1)"><use href="#cot" transform="translate(805.00,58.50) scale(0.142)"/></g>
<circle cx="876" cy="129.5" r="70" fill="none" stroke="#27aad2" stroke-width="4"/>
<g clip-path="url(#cC3)"><use href="#cot" transform="translate(490.00,525.00) scale(0.142)"/></g>
<circle cx="561" cy="596" r="70" fill="none" stroke="#27aad2" stroke-width="4"/>
<g clip-path="url(#cC2)"><rect x="478" y="292" width="144" height="144" fill="#141412"/><path d="M554.2 290.3 553.1 296.0 548.9 295.7 546.2 290.4 549.9 286.0ZM569.1 293.8 561.4 294.7 559.4 290.9 563.7 287.0 567.9 286.1 569.3 290.5ZM575.1 287.3 575.1 290.7 569.1 292.0 567.7 286.6ZM600.5 292.4 595.4 296.4 593.8 294.0 592.5 290.4 595.1 287.0 598.0 289.1ZM630.4 290.0 627.2 293.3 624.6 294.4 621.9 289.6 626.4 284.7 631.1 287.7ZM520.7 294.9 518.7 298.4 512.7 297.2 516.8 289.7ZM550.8 295.9 550.3 300.2 547.3 302.6 543.6 297.8 546.8 293.7ZM554.0 289.9 557.2 293.5 557.1 299.0 552.2 298.8 548.8 293.9ZM610.2 298.0 612.1 293.8 615.7 295.7 617.2 299.2 615.7 302.6 610.8 301.0ZM616.5 302.1 617.4 295.4 622.5 295.5 621.9 300.9ZM498.9 298.3 501.2 305.0 495.4 307.4 493.4 302.1ZM519.0 307.3 512.6 308.0 511.9 301.8 519.0 300.9ZM593.3 304.2 589.6 307.5 585.5 304.9 587.9 298.3 592.5 300.1ZM600.8 301.9 598.5 305.7 593.0 304.0 594.5 299.4 597.4 297.6ZM482.7 309.6 479.7 307.9 484.6 302.0 487.0 304.1 489.1 309.2 486.2 311.2ZM496.2 306.6 502.5 304.3 503.5 309.8 498.0 312.1ZM505.8 309.9 508.3 306.8 511.9 307.8 513.0 311.2 510.2 316.1 504.6 313.3ZM579.3 306.2 584.3 309.9 580.3 313.9 573.8 311.9ZM476.4 317.3 472.3 316.3 472.2 311.6 477.6 310.8 480.6 315.8ZM484.8 311.5 489.1 313.3 487.7 317.4 481.6 317.4 481.2 313.5ZM491.1 314.2 495.5 311.8 498.9 312.3 499.8 319.7 495.5 319.1ZM584.7 313.2 586.9 317.1 581.2 318.8 577.9 315.5 580.3 310.7ZM607.1 320.3 602.0 318.5 602.5 313.5 605.1 310.6 609.5 312.9 609.3 316.7ZM505.6 320.6 502.4 324.5 497.2 321.2 497.7 316.6 503.4 316.3ZM511.3 323.4 506.6 320.1 509.9 315.4 515.3 318.0ZM519.1 320.6 522.4 324.2 520.3 328.7 516.8 327.8 515.8 322.8ZM547.0 318.4 550.7 322.3 547.5 326.8 544.7 325.3 541.8 321.3ZM556.4 327.9 550.7 327.5 547.9 324.0 548.8 321.0 554.2 319.0 556.1 323.3ZM563.5 326.3 565.4 319.7 570.3 321.2 570.8 327.3ZM589.9 322.7 587.4 326.3 582.6 326.6 581.9 323.2 582.6 319.2 586.1 318.6ZM614.4 318.0 617.2 322.6 615.2 327.4 608.3 324.9 608.1 320.7ZM475.6 323.9 480.5 324.0 482.6 327.7 479.3 329.7 474.8 328.1ZM484.6 327.0 489.1 330.3 486.6 333.7 480.7 332.6ZM489.8 330.2 486.4 327.9 488.5 324.3 490.7 323.9 494.0 326.5 495.5 329.6ZM539.2 331.4 542.5 326.6 548.1 329.6 547.6 333.6 542.6 336.8ZM575.2 330.5 579.2 326.5 585.0 330.4 580.3 335.0 577.3 334.2ZM591.3 331.6 584.8 327.7 588.8 323.6 593.0 326.1ZM601.9 328.5 603.1 324.7 609.4 326.2 611.3 328.9 607.8 331.9 602.5 332.9ZM504.5 338.9 501.2 342.6 498.9 340.2 497.4 335.0 502.9 334.2ZM531.0 332.5 536.0 333.2 536.3 337.8 535.0 340.0 530.7 339.5 526.9 336.5ZM538.1 334.5 542.9 334.8 543.6 340.6 538.8 340.2 536.4 336.8ZM544.7 331.9 550.3 328.9 552.2 332.6 551.4 337.8 546.1 338.4ZM582.6 338.8 577.8 339.0 574.5 334.0 579.1 330.1 583.3 331.4ZM587.9 331.6 587.9 336.8 581.9 338.0 583.9 330.2ZM594.7 329.4 596.2 330.8 596.9 334.5 592.8 337.0 590.6 335.1 589.6 331.1ZM596.0 336.8 600.2 334.8 604.0 338.0 603.7 342.0 597.9 341.9ZM487.2 339.7 489.5 337.2 494.1 341.2 489.6 345.7ZM521.8 340.3 520.4 346.9 514.8 346.7 515.3 340.8ZM530.0 340.9 533.2 346.5 529.7 347.6 525.6 345.6 524.5 341.5ZM551.9 342.2 557.9 341.1 561.3 344.9 557.8 348.8 552.4 347.6ZM613.6 349.6 609.4 346.4 608.9 340.0 617.6 342.3ZM498.0 349.8 497.5 345.6 501.4 344.3 504.6 347.5 502.0 351.6ZM511.7 349.8 505.5 350.5 504.8 348.4 504.9 342.8 508.6 342.2 510.5 346.8ZM542.4 351.1 536.8 351.4 536.1 345.9 542.2 343.5 544.5 348.1ZM559.2 349.0 557.0 353.6 550.9 351.9 550.9 344.9 554.5 345.4ZM566.8 353.8 566.0 349.2 568.4 345.0 572.2 346.7 571.9 353.6ZM582.6 348.1 583.2 354.0 577.4 353.4 576.3 350.0 579.9 346.1ZM619.9 350.1 622.7 344.4 628.0 345.0 628.3 351.4ZM634.0 346.4 632.9 353.8 625.8 351.1 628.7 346.1ZM480.5 356.4 485.8 353.6 487.8 357.7 481.8 361.4ZM486.9 352.8 491.4 351.0 492.9 355.8 492.1 360.7 487.2 357.9ZM512.8 355.7 507.6 356.5 504.8 356.4 506.0 350.7 508.4 349.2 512.2 351.8ZM529.4 350.3 532.6 354.8 527.7 356.3 522.9 354.7 524.3 351.1ZM552.3 358.5 556.9 352.4 560.1 356.5 560.6 359.8 556.7 362.8ZM560.2 355.1 561.8 351.8 565.2 348.2 568.4 350.4 567.6 354.8 565.2 356.1ZM576.0 356.6 571.4 354.2 572.3 351.6 575.0 347.7 579.9 350.3 580.7 354.8ZM596.4 351.0 600.3 353.8 598.9 359.0 595.9 359.0 592.2 356.4 592.9 353.2ZM612.7 359.4 614.0 353.6 619.2 354.6 621.9 358.1 620.5 361.7 616.2 360.9ZM626.4 351.6 626.4 358.5 622.9 360.9 618.7 357.1 620.4 351.6ZM511.2 357.3 514.0 361.3 513.5 364.5 508.4 364.0 505.3 360.8 509.1 357.2ZM524.2 358.5 530.6 363.1 525.0 367.4 521.1 363.5ZM598.7 355.0 603.5 358.5 603.9 360.1 602.5 364.9 597.2 364.7 597.2 358.6ZM631.5 355.4 634.2 357.3 633.0 363.1 630.6 362.8 625.9 362.1 627.1 354.9ZM477.9 365.3 478.8 368.7 474.0 371.8 471.9 367.4 474.0 363.0ZM488.3 364.5 495.0 362.9 497.0 368.9 490.6 370.4ZM508.1 369.7 510.9 366.4 516.5 368.6 513.8 373.2 509.0 372.7ZM521.1 372.5 517.5 366.7 520.8 365.0 526.6 366.9 526.3 371.3ZM567.0 361.6 571.3 363.7 571.5 368.2 568.0 369.8 563.9 365.9ZM603.7 362.0 606.7 368.2 603.2 371.6 598.1 368.9 600.4 362.6ZM622.9 363.6 628.5 360.8 630.2 365.5 630.1 367.6 624.4 370.1 622.1 368.1ZM535.0 376.1 531.5 381.6 527.4 377.5 529.3 372.0ZM542.8 377.4 542.6 371.8 551.0 372.6 549.0 377.6ZM571.6 374.2 573.3 370.4 576.2 369.6 579.2 372.2 577.3 377.6 573.0 375.9ZM618.3 374.6 617.2 378.9 611.9 377.1 614.1 372.0ZM624.8 374.3 626.1 380.0 620.7 380.2 619.7 374.8ZM630.2 370.9 632.1 374.7 626.0 377.6 624.6 372.8 626.3 368.3ZM490.6 385.7 489.9 382.1 493.8 377.8 497.0 381.4 496.7 386.2ZM502.5 382.2 503.8 379.4 507.5 378.7 508.6 382.7 507.1 386.7 503.3 386.2ZM518.7 386.8 514.9 388.2 510.7 384.9 513.7 379.6 517.0 381.4ZM536.2 380.0 542.5 377.3 544.5 381.9 543.9 385.4 537.7 386.1ZM549.9 375.9 555.4 377.4 553.0 381.9 548.3 383.6 546.6 378.6ZM555.3 380.0 559.1 377.7 560.2 383.7 557.0 385.6 553.8 383.5ZM575.1 380.8 575.9 384.1 572.5 387.7 568.4 383.7 570.0 380.2ZM614.3 385.5 608.3 387.0 605.0 383.6 606.5 379.7 612.6 381.5ZM504.4 386.4 509.5 383.3 514.3 387.0 510.4 392.5ZM553.3 390.1 549.8 392.6 546.2 392.5 545.3 386.7 548.2 384.4 552.4 385.4ZM589.4 395.6 586.8 390.7 589.7 386.4 593.4 388.9ZM613.7 389.8 609.2 388.3 609.6 385.4 613.2 381.6 617.0 386.5ZM618.8 386.7 619.4 382.8 622.8 381.3 626.4 386.0 624.2 388.5 620.7 389.0ZM480.2 393.0 484.8 396.0 481.5 400.2 476.9 397.3ZM489.2 392.6 494.3 396.2 490.8 401.0 485.2 396.3ZM558.0 395.1 555.1 400.3 550.2 397.4 551.8 393.8ZM582.7 392.2 581.4 396.2 573.9 394.4 575.2 390.2 580.2 388.3ZM614.8 392.2 615.8 398.4 611.0 399.1 609.5 394.4ZM476.2 397.0 481.1 396.1 482.1 400.7 480.4 403.5 476.6 401.7ZM483.9 396.4 490.3 395.0 491.7 398.8 491.1 402.4 487.1 402.9 484.2 401.6ZM504.4 404.7 501.2 407.6 496.5 404.3 500.0 400.5 503.5 399.0ZM612.0 405.0 610.5 401.4 609.7 396.8 615.1 396.3 618.6 399.9ZM629.6 408.4 624.2 406.7 626.2 398.4 632.1 400.3ZM497.0 406.3 493.2 409.1 488.9 407.7 488.1 402.8 492.7 401.6ZM545.8 410.4 539.4 411.6 537.0 408.5 540.9 403.3 545.3 406.0ZM630.6 406.3 623.1 410.1 622.6 405.8 626.2 401.6ZM481.0 408.5 484.8 414.2 482.2 416.5 478.7 416.4 477.5 410.3ZM487.7 411.0 489.0 415.9 485.5 420.4 480.5 414.9ZM513.8 415.1 506.4 415.9 505.0 410.9 508.9 407.0 513.2 410.0ZM540.2 412.7 543.9 416.8 539.8 420.0 536.5 419.8 536.2 413.6ZM555.2 414.2 557.2 409.7 561.8 408.6 564.8 410.8 564.2 414.9 560.1 417.1ZM576.3 419.6 572.5 413.5 577.5 408.9 582.4 414.4ZM598.3 419.6 594.9 416.6 594.6 412.2 601.0 411.1 603.5 416.0ZM472.6 420.1 477.9 417.4 478.3 423.7 474.1 424.9ZM482.1 421.0 485.4 417.8 489.4 420.1 489.7 424.0 485.7 428.4 480.7 424.7ZM510.4 419.3 511.3 423.3 509.8 427.7 504.9 426.1 504.4 420.8ZM552.4 418.3 555.6 422.4 550.1 425.7 546.6 422.9 548.4 418.1ZM557.4 419.2 561.7 422.9 558.8 427.4 553.6 423.8ZM578.7 422.7 575.9 419.9 575.7 416.8 581.0 416.3 585.0 419.0 584.0 421.3ZM602.3 418.9 604.3 421.6 603.3 427.0 596.3 423.6 597.9 419.9ZM621.6 419.7 621.7 425.0 619.1 425.8 615.6 425.1 614.6 420.8 616.8 418.1ZM509.2 419.3 513.4 422.9 509.4 428.3 503.6 425.0ZM540.1 431.6 534.5 428.0 537.9 423.4 541.7 421.5 542.6 427.0ZM589.5 421.3 590.1 425.2 589.3 429.1 585.6 430.0 582.0 427.0 584.6 422.9ZM632.9 421.3 636.6 428.1 631.1 430.4 627.4 426.6ZM472.1 431.7 478.0 429.1 480.2 434.0 477.6 436.5 471.1 436.1ZM504.2 431.4 509.4 433.4 508.2 439.6 504.2 437.4ZM509.0 437.6 509.7 429.9 515.9 431.7 515.1 439.0ZM552.5 439.2 548.3 436.4 554.3 432.3 558.8 435.1ZM576.6 438.1 571.1 440.2 568.5 438.1 568.7 434.3 572.8 432.1 577.4 433.9ZM580.6 426.8 585.3 431.2 585.2 435.6 579.1 435.3 578.7 429.9ZM583.8 433.9 586.7 430.5 591.1 433.4 590.7 437.9 583.8 438.2ZM608.9 435.1 603.5 439.1 601.2 436.1 599.5 431.3 606.8 432.0ZM482.1 439.7 486.4 437.0 491.1 439.6 488.7 444.4 484.7 443.8ZM507.1 434.8 505.7 440.4 501.8 441.5 498.3 437.5 502.5 433.3ZM514.2 434.7 517.7 437.3 520.4 441.4 515.5 443.9 512.6 440.8ZM526.3 436.6 529.7 441.8 523.1 442.4 519.7 437.0ZM539.8 445.6 537.1 441.4 538.3 435.7 542.1 436.7 545.1 440.4 544.0 444.3ZM544.7 444.6 540.6 442.2 546.0 437.6 549.5 442.2ZM571.1 434.6 575.2 435.8 574.1 441.0 567.4 441.3 566.9 437.7ZM576.9 443.0 572.5 440.1 576.6 433.8 580.0 437.2 580.3 441.9ZM599.3 438.2 605.6 437.7 606.5 443.1 602.4 444.4 597.1 442.1Z" fill="#1a1a18"/><path d="M472.0 288.7 476.3 286.9 479.8 288.0 478.3 293.9 473.5 294.8 470.5 292.3ZM501.9 285.9 502.7 291.0 493.7 291.7 494.3 285.4ZM507.8 295.0 502.8 295.2 499.2 292.3 502.7 288.0 507.3 290.1ZM510.9 289.4 513.6 288.3 516.8 289.5 517.2 295.9 511.1 293.7ZM533.1 286.9 539.0 284.1 540.6 288.2 537.4 292.8 533.7 290.8ZM559.1 288.2 560.6 293.1 555.5 296.5 550.9 293.5 553.6 288.5ZM583.4 291.5 577.0 289.5 579.6 283.1 583.7 285.6ZM599.4 292.8 596.8 288.7 602.0 285.5 604.3 287.7 604.0 293.1ZM493.8 294.1 491.6 298.0 486.6 300.8 484.5 296.4 485.1 293.0 490.4 291.5ZM525.9 300.7 524.0 303.8 520.4 301.3 520.5 295.9 522.6 294.7 526.2 296.8ZM529.3 297.6 533.2 294.5 538.4 297.2 537.3 301.2 530.5 302.2ZM559.0 297.8 558.6 294.1 563.5 291.0 564.0 298.1ZM577.2 294.5 581.4 294.1 583.8 299.8 579.2 301.9 574.7 300.1ZM584.9 291.5 590.1 297.4 587.0 299.6 582.0 298.7 581.9 295.1ZM606.7 301.5 604.9 297.5 606.1 292.3 609.3 292.9 612.8 296.0 610.6 298.7ZM494.1 299.9 495.3 304.2 494.3 308.5 489.3 307.7 486.4 305.4 489.1 300.1ZM560.3 309.6 553.7 308.5 554.8 303.1 557.5 301.4 562.4 303.8ZM611.3 301.4 616.4 299.3 619.4 302.8 615.1 307.8ZM527.9 312.2 521.3 312.8 519.9 307.8 525.7 307.2ZM583.0 316.4 580.7 308.6 586.0 307.6 588.3 312.5ZM620.1 313.7 620.3 309.7 626.0 307.9 626.5 311.9 622.7 316.1ZM495.1 312.3 495.4 317.7 489.5 318.3 488.2 315.3 491.6 311.5ZM511.2 321.3 506.4 320.0 503.9 316.9 509.3 314.1 511.2 315.5ZM514.4 318.5 510.9 318.1 512.2 314.3 515.4 311.7 518.2 315.0 517.8 318.4ZM528.0 318.2 522.0 316.1 523.1 310.5 528.4 309.6 532.1 315.1ZM538.6 314.0 536.7 318.1 531.9 318.3 528.7 315.4 532.7 311.8ZM552.5 319.1 548.0 319.9 546.8 312.7 551.6 313.4ZM569.6 311.9 571.8 314.0 569.9 318.9 564.2 317.8 564.4 312.5ZM578.3 316.4 574.0 316.7 571.9 312.3 574.0 310.2 577.8 309.1 580.0 314.7ZM592.4 310.3 591.4 317.6 586.2 316.4 583.2 312.4 586.4 309.7ZM619.2 312.6 621.1 316.3 618.7 320.1 612.5 317.7 614.4 312.1ZM481.8 320.9 480.3 325.2 476.4 324.3 475.4 320.8 476.6 317.9 481.8 317.6ZM493.3 321.0 492.1 325.3 487.3 324.4 484.1 320.6 487.4 318.4 490.6 318.3ZM519.3 318.2 524.9 317.5 527.9 319.9 525.2 324.8 519.7 322.8ZM616.6 321.9 620.9 319.1 624.2 324.1 617.6 327.8ZM522.0 335.6 514.3 333.0 517.4 328.8 522.7 330.7ZM531.1 330.6 526.8 329.1 528.0 324.5 531.5 322.1 535.3 326.1ZM557.6 330.0 551.9 330.0 553.2 325.7 554.4 322.3 559.2 325.3 560.6 328.0ZM571.9 334.5 565.0 333.0 564.1 327.7 570.4 328.2ZM597.7 334.1 593.0 334.0 594.1 328.0 596.2 325.1 599.9 329.4ZM615.3 335.5 614.9 330.3 616.9 327.0 621.4 330.7 619.4 335.0ZM492.2 330.2 493.2 335.4 488.1 337.4 485.8 330.1ZM516.8 337.8 514.9 331.7 519.9 329.8 522.6 336.3ZM554.2 339.5 552.5 333.1 557.8 332.7 561.7 335.4 558.1 339.5ZM556.6 338.9 556.4 335.6 559.3 333.5 561.2 333.1 563.9 337.1 560.3 341.5ZM612.5 337.0 617.2 333.5 621.0 333.6 620.8 338.4 619.1 341.5 612.5 339.8ZM627.5 330.6 631.6 332.1 633.7 334.1 631.6 338.9 626.7 337.2 624.4 335.2ZM488.6 340.3 488.6 347.8 482.0 347.7 482.4 342.1ZM533.6 338.0 539.1 340.0 539.3 344.5 532.1 346.0 531.3 341.4ZM583.2 337.7 587.2 338.9 585.4 344.9 581.2 344.4 578.1 339.8ZM475.7 352.5 477.4 348.4 479.6 346.8 484.3 348.5 485.1 352.4 480.0 356.3ZM500.0 349.4 495.5 351.8 491.1 350.3 492.0 344.2 494.6 343.1 498.5 344.0ZM584.1 344.1 587.6 347.6 582.3 351.2 577.6 345.9ZM597.3 352.5 596.2 347.2 601.9 345.9 601.9 351.3ZM608.1 345.9 608.8 350.9 605.9 353.9 601.1 351.0 602.7 346.6ZM499.7 358.7 493.7 354.3 494.1 350.4 500.6 350.4 501.8 354.9ZM516.5 349.2 518.8 352.1 519.2 357.1 513.7 359.0 510.2 357.0 511.5 352.3ZM552.0 348.8 556.3 351.3 555.6 357.7 550.0 358.0 548.6 353.2ZM606.1 359.0 600.7 359.6 599.9 356.8 603.6 352.6 608.1 354.2ZM614.8 358.7 610.7 357.1 606.8 353.6 613.0 349.1 615.0 352.3ZM484.4 364.4 479.4 366.1 476.3 360.6 479.5 357.0 483.7 359.4ZM499.8 359.2 497.6 364.0 492.2 365.9 491.1 360.9 495.0 357.4ZM498.7 358.3 502.7 357.5 503.8 360.4 502.4 364.7 498.9 364.4 495.0 359.9ZM538.9 358.8 542.8 356.7 545.6 360.8 540.3 364.3ZM612.4 363.9 607.8 362.0 610.6 358.1 615.5 355.7 617.5 361.3ZM488.6 373.3 485.7 375.5 480.5 371.8 482.4 368.5 485.4 365.0 489.6 369.2ZM538.6 371.8 538.2 367.8 545.2 364.2 547.5 370.1 545.5 373.0ZM544.5 368.1 549.0 363.2 552.7 368.4 548.7 371.6ZM562.9 366.1 560.8 369.7 555.0 367.7 555.9 363.4 560.0 363.0ZM577.8 370.2 573.5 373.5 569.4 369.7 568.8 366.9 574.9 365.1ZM579.8 364.2 584.8 366.2 581.6 371.2 576.7 369.5ZM588.8 363.7 594.1 367.0 592.9 370.3 589.0 372.6 584.5 368.9ZM613.4 364.8 614.0 368.9 608.2 371.9 605.5 370.5 605.9 366.1 608.0 362.9ZM481.8 367.3 482.6 371.0 483.7 375.0 478.0 377.0 475.5 375.7 477.1 368.6ZM494.2 376.0 490.9 380.8 486.3 381.5 485.0 378.6 486.9 373.1 491.0 372.9ZM491.6 368.6 496.6 369.2 496.4 374.8 491.0 376.8 489.0 373.1ZM521.1 371.3 524.7 370.9 529.1 373.8 527.4 376.6 522.8 376.3ZM564.3 377.4 561.2 381.6 557.4 376.9 558.3 372.9 563.1 373.5ZM563.6 377.1 567.1 373.6 571.2 374.1 574.3 378.5 569.3 379.8ZM588.7 373.1 584.7 378.4 579.9 375.1 582.1 369.0ZM613.4 370.5 610.8 378.6 605.3 374.0 608.4 369.9ZM515.2 378.4 520.1 377.7 523.1 379.0 520.1 384.5 516.3 384.8ZM527.0 383.0 529.5 377.6 533.8 378.2 533.1 384.5 530.4 387.2ZM538.4 378.6 535.4 384.8 530.7 382.0 528.8 376.9 534.9 376.2ZM569.0 377.8 569.0 382.9 565.5 384.6 561.8 381.1 563.6 377.1ZM583.3 376.3 583.8 381.6 581.0 383.3 577.0 379.3 578.7 376.5ZM593.3 385.1 595.3 380.2 601.4 379.9 601.5 386.9 597.1 387.1ZM603.8 386.2 598.4 386.5 596.6 381.7 599.9 378.2 603.7 379.1ZM622.7 382.3 624.8 374.8 630.9 376.6 632.0 381.1 628.3 384.6ZM486.5 393.9 481.8 390.5 483.3 386.1 487.5 386.9ZM502.2 385.7 506.0 382.4 508.6 387.9 505.6 391.3 501.7 389.8ZM517.6 392.7 513.9 392.2 511.7 387.9 514.6 386.0 520.6 387.7ZM525.4 383.1 528.5 384.4 530.0 389.9 525.9 392.5 522.3 387.8ZM539.9 385.8 544.8 387.5 542.5 392.6 537.5 391.1ZM575.6 385.7 574.0 390.3 571.7 391.5 567.6 390.0 567.9 386.3 570.6 382.6ZM600.9 383.2 605.4 383.9 606.4 388.8 604.3 391.7 598.5 389.3 597.9 386.6ZM606.0 388.5 604.4 386.1 607.6 381.6 612.0 384.0 611.7 388.4 608.6 390.5ZM521.9 396.7 517.2 392.2 523.0 389.5 525.4 394.3ZM538.5 398.9 532.1 396.8 534.4 390.2 541.5 391.7ZM543.6 393.5 545.0 398.5 540.3 399.8 537.7 396.7 539.5 394.0ZM567.4 389.0 569.4 394.2 565.9 396.8 562.9 394.9 564.6 390.3ZM576.6 398.0 569.5 397.6 568.0 393.0 572.1 391.5 577.9 393.5ZM587.7 389.8 592.0 393.7 589.8 397.4 585.2 397.8 581.6 394.3 582.6 389.7ZM602.8 392.6 604.9 388.9 610.1 393.3 608.7 397.7 604.8 399.4ZM620.7 396.2 616.5 397.6 614.9 391.5 618.9 389.6 622.7 391.8ZM489.8 402.9 489.9 397.7 492.1 394.3 495.5 397.2 496.0 400.0 493.2 404.3ZM520.6 397.4 524.5 398.5 525.1 402.7 522.6 404.5 518.6 401.6ZM532.9 394.5 532.6 399.6 530.1 402.7 524.5 398.4 527.7 396.0ZM534.4 402.0 533.1 396.9 538.8 397.0 541.3 399.9 540.2 403.2ZM552.7 400.2 549.2 404.1 545.0 402.8 545.1 398.2 549.7 396.2ZM576.0 405.6 573.5 401.9 578.7 399.7 579.7 403.8ZM476.3 413.3 472.9 409.0 474.0 406.5 477.9 406.7 482.2 410.0 478.6 412.6ZM507.3 411.5 503.7 409.2 506.7 405.7 511.7 405.8 510.3 410.9ZM534.4 402.9 538.0 403.8 538.6 408.9 534.7 411.5 530.8 408.1 530.6 404.2ZM578.4 409.3 579.3 405.5 586.3 405.6 584.1 412.6ZM600.4 411.5 597.3 412.6 592.5 411.1 594.5 404.5 598.5 404.3ZM612.1 413.4 607.2 412.9 606.6 409.3 611.0 404.4 614.7 407.7 616.1 411.7ZM613.4 411.8 613.8 404.9 622.4 407.0 619.2 412.2ZM513.7 409.3 519.2 409.7 517.6 417.5 509.9 413.7ZM535.1 411.3 532.8 415.9 527.1 414.5 531.5 407.9ZM569.9 419.2 565.6 416.0 564.2 411.1 568.1 408.5 573.6 413.7ZM583.7 408.6 587.7 412.3 585.1 415.9 579.9 416.1 579.8 411.4ZM609.0 411.5 612.3 414.1 609.3 417.0 605.3 418.1 601.5 415.4 605.0 412.1ZM618.7 413.1 617.8 417.6 615.5 418.6 610.6 417.3 609.6 413.7 613.3 411.8ZM618.9 419.9 616.6 415.8 618.7 412.8 623.7 413.5 626.1 416.4 622.7 420.5ZM488.0 424.8 483.9 421.6 488.0 416.3 491.7 418.7ZM522.4 423.9 518.4 420.3 517.6 415.9 523.8 415.2 524.9 419.9ZM532.4 417.2 534.9 415.9 540.6 415.2 540.4 419.0 539.5 421.8 534.3 422.6ZM560.1 420.6 559.2 415.4 563.2 413.3 567.6 418.0 566.1 422.3 563.8 423.7ZM578.9 420.0 575.6 423.2 572.0 422.3 568.9 417.5 572.3 415.9 576.7 417.3ZM623.0 416.6 626.6 416.8 629.8 420.5 625.6 424.4 620.6 421.7ZM490.5 423.5 496.2 424.5 495.6 432.1 489.9 431.0ZM534.7 433.7 530.9 432.0 528.8 427.1 533.4 424.0 538.1 426.9ZM545.6 425.1 551.8 425.1 551.2 430.9 546.6 433.3 542.6 429.8ZM573.9 431.9 568.3 429.4 569.2 425.0 575.8 427.9ZM579.8 430.5 575.2 426.6 577.8 422.3 583.1 421.1 584.5 426.6ZM595.9 428.3 593.5 432.7 589.4 432.3 587.1 428.3 587.2 424.7 593.9 425.1ZM607.7 427.5 603.3 431.2 598.6 430.2 596.9 427.3 600.0 423.2 603.7 424.2ZM518.7 434.7 518.4 430.2 525.4 428.4 527.1 431.9 524.9 437.8ZM537.2 431.6 540.6 429.3 546.3 430.0 545.0 436.7 540.5 436.6ZM482.5 442.6 477.3 445.1 475.2 441.0 478.0 438.4 482.4 438.3ZM498.0 442.1 495.7 447.3 491.0 443.4 493.5 437.6ZM601.8 442.8 600.4 440.0 605.2 437.2 609.9 439.0 607.6 443.2ZM629.4 433.1 632.4 439.1 630.1 441.3 626.8 440.5 626.3 436.3Z" fill="#282826"/><path d="M486.3 293.1 480.7 292.1 482.5 286.7 489.2 288.9ZM496.1 287.9 496.2 291.8 491.8 294.3 487.3 289.9 488.8 286.0 494.0 285.5ZM531.9 288.1 531.4 292.3 524.9 293.9 524.6 289.2 528.4 286.3ZM592.5 294.8 587.7 292.3 586.1 286.8 591.6 284.6 594.9 290.4ZM485.0 298.1 481.0 297.9 476.2 293.7 479.9 290.9 484.7 291.0ZM543.4 298.6 539.4 299.5 536.8 294.8 539.2 292.2 545.6 293.3ZM564.3 294.6 568.5 291.7 571.6 296.1 570.6 300.5 565.2 300.3ZM590.8 295.2 594.0 290.2 597.7 294.4 593.5 299.0ZM632.8 294.9 628.4 298.4 625.4 296.2 622.6 291.9 628.0 291.0ZM479.1 300.7 475.9 304.0 470.5 299.4 475.7 295.3ZM523.2 299.9 525.0 305.3 520.4 305.3 519.3 301.3ZM525.8 306.1 525.5 300.9 531.4 299.8 533.2 303.0 532.1 307.9ZM530.9 303.2 531.9 299.2 537.8 298.6 538.4 301.8 536.3 304.7ZM545.2 301.9 547.7 297.8 551.9 299.2 552.2 303.0 547.7 303.9ZM586.4 304.1 581.5 308.4 578.3 303.6 578.0 299.9 584.9 299.9ZM611.7 310.0 609.3 304.1 611.3 302.4 615.7 302.6 616.3 308.6ZM627.9 309.2 625.4 306.7 623.4 303.0 627.8 300.2 632.9 302.3 631.8 308.7ZM476.4 310.2 473.5 307.9 476.3 304.0 481.7 305.7 480.6 308.7ZM488.2 307.0 491.7 304.4 495.5 307.3 497.0 311.3 491.8 312.2 487.3 310.5ZM548.4 311.4 551.0 305.4 555.3 303.7 555.6 309.6 554.4 312.0ZM597.5 307.1 599.8 304.7 604.9 308.8 603.6 312.0 599.2 314.3 596.5 312.6ZM612.3 304.2 617.0 307.6 613.9 312.3 607.3 310.7ZM520.0 313.3 523.3 312.3 526.6 315.7 523.7 321.3 518.9 318.8ZM613.4 314.7 616.3 319.0 612.4 323.0 609.0 316.6ZM628.3 318.8 624.8 321.3 620.8 317.7 625.4 313.4ZM495.7 324.0 492.1 324.0 489.9 321.3 491.3 316.1 495.9 317.5 498.6 320.8ZM527.3 321.7 531.2 318.3 534.8 321.8 536.9 325.2 532.6 327.5 529.3 328.0ZM576.4 320.7 582.6 322.1 581.5 326.6 576.9 328.0 575.2 324.0ZM591.6 321.1 594.5 326.4 591.2 328.9 586.1 326.8 587.6 321.9ZM600.7 320.1 606.7 322.1 604.5 327.4 600.6 329.7 598.6 324.5ZM606.7 316.1 612.7 316.8 611.6 324.6 605.8 323.6ZM629.1 316.6 634.0 320.2 633.8 323.7 628.1 325.3 625.9 322.2 624.9 317.9ZM551.7 326.2 551.9 332.8 548.3 334.1 543.8 332.3 547.1 325.8ZM570.8 325.4 576.9 324.5 579.3 329.1 576.0 333.0 571.4 328.9ZM626.9 327.2 629.2 330.5 626.2 333.4 622.6 333.6 622.4 328.9ZM484.6 333.5 480.4 338.6 474.6 337.2 474.9 332.0 480.6 331.1ZM512.0 338.0 507.4 341.6 503.3 338.9 504.4 333.3 510.1 333.6ZM609.2 338.3 605.2 340.1 601.6 337.5 602.5 332.9 606.9 330.2 608.3 333.2ZM499.7 334.7 504.6 337.1 502.7 341.8 499.0 345.1 495.9 340.1ZM511.8 340.3 517.8 340.7 518.3 344.4 516.3 348.0 512.4 347.2 508.7 344.1ZM563.2 341.0 564.0 337.6 568.2 337.7 570.3 340.6 569.8 344.1 564.9 345.8ZM593.0 343.0 589.8 343.0 585.8 339.5 591.0 335.1 594.4 339.9ZM594.2 348.4 593.2 343.0 597.1 340.9 602.4 341.2 600.9 347.5ZM599.7 342.5 601.5 339.6 604.8 336.6 608.1 340.7 606.8 343.6 603.4 345.6ZM625.1 342.5 618.6 346.1 616.4 341.6 616.1 337.6 623.7 338.7ZM471.6 358.7 475.1 354.0 478.9 356.7 476.2 362.5ZM519.6 354.5 525.2 353.4 526.4 358.3 519.7 360.8ZM542.3 355.7 543.3 352.1 546.1 352.3 549.4 354.7 548.8 359.2 543.0 358.2ZM484.8 358.9 489.0 357.7 492.6 361.4 489.6 364.3 484.8 362.5ZM556.7 359.8 558.9 361.6 558.5 367.3 553.5 367.8 552.3 363.8 553.4 359.5ZM565.2 362.5 563.3 368.6 560.2 367.0 559.0 361.3 562.3 359.5ZM573.3 365.3 575.4 361.0 578.3 358.7 582.3 360.6 582.3 366.1 577.1 367.8ZM586.0 359.0 590.1 360.8 590.3 364.9 585.0 366.1 582.8 362.6ZM609.2 359.2 611.7 363.6 608.4 366.8 604.6 364.5 603.2 360.2 606.1 358.7ZM493.7 373.7 493.5 369.6 496.3 366.7 500.4 366.8 501.6 370.5 499.0 374.2ZM616.1 370.2 613.3 367.6 615.6 362.5 619.2 363.9 620.5 367.6ZM516.1 368.7 520.7 373.3 517.4 377.6 513.4 374.4ZM538.7 369.7 541.3 369.9 544.6 373.1 542.4 375.4 538.0 377.3 536.0 373.3ZM591.7 373.0 596.8 372.1 597.9 377.4 592.0 381.3 590.2 376.4ZM474.9 387.7 472.1 383.0 475.5 379.7 479.8 379.5 481.5 382.0 479.7 386.0ZM487.2 380.4 488.0 384.4 486.3 386.0 481.8 386.7 480.9 383.3 483.4 378.5ZM496.9 387.2 496.4 390.6 492.9 393.1 489.5 389.3 488.9 386.3 494.2 384.4ZM537.5 385.4 536.0 388.6 532.8 391.3 529.6 388.7 529.6 383.0 533.6 382.7ZM551.6 386.6 557.1 386.5 556.2 392.7 552.2 393.7 547.4 389.1ZM558.7 381.9 563.3 384.0 564.3 386.6 561.6 391.8 558.6 390.6 557.6 386.9ZM576.6 391.5 575.6 389.0 577.6 385.7 581.5 385.1 583.7 388.1 580.5 391.4ZM479.5 398.7 474.5 395.0 474.7 392.1 478.5 391.3 480.8 394.2ZM497.1 391.9 501.9 394.0 502.0 398.4 496.5 398.4 495.2 394.1ZM526.6 399.2 523.3 395.9 524.2 390.8 531.1 393.6 531.6 398.3ZM556.2 394.0 562.0 394.6 560.0 401.8 553.9 398.1ZM595.5 390.5 600.6 391.3 600.3 395.9 595.4 396.5 591.6 393.4ZM505.8 399.8 509.9 394.6 513.7 394.2 515.6 401.0 511.1 403.2ZM511.3 400.3 515.1 396.0 519.9 396.8 520.8 402.3 517.0 404.1ZM559.5 406.4 556.7 402.6 558.3 399.4 563.7 397.9 563.1 404.5ZM566.7 403.6 568.1 399.9 573.0 399.7 573.9 404.6 568.7 406.1ZM586.6 399.0 588.4 401.7 586.2 406.4 581.7 403.6 582.2 397.7ZM603.4 404.6 604.0 397.0 609.6 399.1 607.7 404.0ZM494.0 409.6 492.1 403.5 497.4 401.2 500.3 404.3 499.9 409.5ZM510.0 410.1 508.9 404.6 514.3 401.7 517.4 406.4 514.0 410.9ZM518.4 409.4 517.6 401.3 522.6 402.5 525.7 407.3ZM530.5 411.1 525.8 411.2 522.5 407.3 522.8 404.0 528.7 403.4 530.4 406.0ZM546.7 409.4 545.3 406.9 547.0 403.3 551.9 405.8 552.5 410.9ZM608.2 412.3 600.4 412.8 601.7 406.9 607.0 407.2ZM503.7 411.9 503.9 415.8 499.3 418.0 496.3 412.0 501.0 409.6ZM545.2 413.0 549.1 415.4 547.6 419.0 543.8 419.3 542.6 414.8ZM555.1 413.3 554.5 416.8 550.1 419.3 549.2 413.0 552.2 410.4ZM628.0 418.4 622.2 414.7 627.5 411.4 632.1 413.1ZM519.8 418.9 515.5 422.2 511.3 415.4 517.7 414.4ZM528.1 419.1 532.5 421.1 533.3 424.9 529.4 427.3 526.3 422.8ZM547.0 419.5 545.7 425.4 540.1 423.9 538.4 419.1 541.1 416.3ZM588.4 423.6 583.7 421.8 587.7 413.9 592.5 418.8ZM590.7 424.2 591.5 419.3 595.6 419.2 597.6 425.6ZM615.3 422.0 610.7 424.0 606.8 419.3 610.5 417.0 614.4 417.4ZM498.9 425.5 502.3 424.1 505.7 427.6 504.4 432.2 500.5 433.6 497.4 429.6ZM603.1 430.3 600.6 427.0 604.5 424.1 606.9 423.3 609.5 425.8 608.4 430.8ZM611.3 430.1 610.2 425.7 615.8 425.6 617.3 430.0 613.2 434.2ZM478.4 433.5 482.1 430.0 485.8 433.3 482.8 439.3ZM502.4 432.3 499.7 436.8 496.2 436.4 493.7 431.1 497.0 428.2 502.1 429.0ZM531.5 436.5 526.4 440.2 523.3 435.7 526.7 431.6 531.3 431.3ZM614.3 433.9 615.3 428.6 621.6 429.2 620.0 435.5ZM565.6 437.1 566.7 442.6 561.7 443.9 558.4 441.8 560.4 436.8ZM593.3 445.3 589.8 441.6 593.3 435.6 597.7 437.1 598.4 444.1ZM624.4 435.9 626.2 439.4 623.9 443.4 621.5 442.9 618.4 438.5 619.0 435.5Z" fill="#383835"/><path d="M540.8 295.7 538.0 292.5 541.3 288.0 545.1 288.1 544.6 292.8ZM616.6 291.2 614.0 294.1 610.5 291.3 609.2 288.8 611.9 284.8 614.4 287.1ZM496.5 299.3 491.8 299.6 489.8 295.7 491.5 293.2 495.8 294.1ZM512.5 296.2 511.0 300.3 505.9 299.6 504.0 296.7 507.1 293.0 511.2 292.4ZM506.6 301.9 504.4 307.7 501.1 305.2 499.7 300.3 504.2 298.6ZM549.1 302.8 548.8 308.0 544.4 307.8 542.2 305.2 542.8 300.4 545.6 299.3ZM569.7 302.7 565.9 306.8 562.4 303.0 562.6 300.2 567.0 299.7ZM606.9 305.8 603.5 308.2 598.4 306.4 599.5 302.5 604.7 301.3ZM530.0 305.9 532.9 307.0 534.3 311.1 530.2 314.1 528.3 312.8 528.2 309.0ZM536.6 309.6 532.6 306.2 536.7 302.6 541.9 305.6 539.5 310.1ZM549.5 310.8 545.8 309.4 543.5 306.8 547.3 303.1 551.0 304.9 551.2 309.9ZM560.5 308.7 563.8 307.9 564.2 313.1 562.0 316.5 558.8 312.8ZM569.4 311.6 568.4 308.8 567.6 305.1 571.5 303.9 574.9 307.1 574.5 311.7ZM557.1 315.5 559.8 310.9 565.4 314.5 561.2 318.6ZM595.7 316.9 595.9 312.3 598.4 311.3 601.6 314.5 603.0 316.7 598.3 318.6ZM563.7 327.9 560.2 329.3 556.1 324.1 558.9 320.9 563.1 322.0 563.8 323.9ZM499.4 327.5 502.2 328.7 503.9 332.7 500.1 336.0 496.0 330.9ZM512.0 330.4 505.5 332.0 504.6 328.8 507.5 323.8 510.9 326.4ZM510.8 333.6 507.5 329.5 509.4 326.2 513.3 326.8 514.9 330.8ZM491.3 331.7 495.5 333.2 496.5 338.6 491.7 337.8 489.0 334.0ZM521.5 334.8 522.8 332.0 526.3 329.8 529.6 333.8 527.2 337.9 524.4 337.3ZM565.7 340.5 563.6 336.7 566.5 334.0 571.4 335.8 571.1 339.6ZM623.6 340.3 619.0 339.3 617.1 336.4 621.2 333.5 623.6 333.5 625.0 337.5ZM477.2 340.7 477.0 343.8 470.6 343.4 469.9 340.0 472.3 335.8 476.1 337.6ZM506.7 347.7 505.5 345.2 505.2 340.8 509.7 339.3 510.9 340.8 510.8 344.8ZM543.5 343.9 540.6 341.0 542.8 338.1 548.6 339.0 546.4 343.3ZM548.6 346.2 546.5 341.6 551.2 337.8 553.6 341.2 553.0 345.2ZM625.7 341.2 629.7 344.0 625.3 348.7 622.0 344.9ZM522.6 348.8 522.7 352.5 518.4 355.8 514.8 353.2 514.7 350.5 517.0 347.1ZM529.4 349.1 530.0 344.0 533.2 342.7 534.9 346.7 533.9 349.6ZM541.3 349.2 547.6 346.5 549.8 350.8 545.5 355.2 543.1 353.6ZM557.0 347.6 557.8 343.4 562.2 342.2 565.5 347.0 562.3 349.4 559.2 351.2ZM589.9 351.5 587.9 345.5 592.7 345.1 595.0 350.9ZM610.4 346.6 611.4 344.0 614.9 343.5 618.0 345.1 617.6 350.6 613.7 349.7ZM592.0 350.0 595.0 354.6 591.6 357.1 587.5 353.4ZM515.3 365.1 512.4 363.9 512.0 360.8 514.5 359.0 518.0 360.0 519.2 364.5ZM538.1 359.5 538.9 362.8 533.2 365.0 531.7 360.8 534.2 357.8ZM499.3 366.6 501.7 364.5 506.5 366.4 505.9 369.7 501.0 371.7ZM528.8 364.3 529.5 369.2 525.3 368.8 522.7 366.9 523.3 363.4 526.7 362.7ZM534.1 367.7 536.4 362.4 539.4 362.8 539.1 368.4 535.4 369.3ZM595.5 363.4 599.7 364.1 601.7 366.8 599.7 371.3 595.4 371.5 594.5 367.3ZM506.4 369.8 508.6 369.3 512.5 372.3 509.3 376.8 505.1 373.6ZM557.9 372.2 559.2 375.5 557.1 379.3 553.9 377.0 552.5 373.3 555.6 371.3ZM587.6 377.0 592.7 379.6 591.3 382.1 587.1 385.0 586.1 380.9ZM477.1 383.8 482.1 386.4 479.2 391.4 476.1 388.8ZM635.7 391.7 632.3 393.8 627.6 392.0 626.7 389.6 631.0 386.8 634.8 387.7ZM503.8 397.3 504.8 393.4 507.5 391.0 511.3 394.1 511.2 398.6 507.5 399.7ZM603.4 396.6 601.9 401.8 595.1 400.8 597.0 396.9ZM483.2 412.0 480.0 406.9 485.3 404.3 488.7 408.8ZM559.2 407.3 554.2 408.8 552.9 405.0 557.5 401.5 561.1 403.9ZM568.9 409.1 566.9 413.1 562.4 412.9 561.6 409.5 563.7 407.0 567.3 407.1ZM570.4 410.7 569.3 406.1 573.1 404.6 577.5 406.2 574.9 410.2ZM519.3 414.1 520.2 410.5 525.8 410.4 526.4 413.5 523.6 418.1ZM475.7 429.5 477.9 423.8 481.6 424.2 483.8 428.8 480.0 430.9ZM520.5 427.0 522.7 432.0 516.7 431.5 514.0 427.8ZM549.8 432.2 548.6 429.4 550.5 425.4 554.1 427.3 556.3 431.2 552.5 433.9ZM626.9 428.5 620.2 430.5 617.9 425.4 624.4 423.6ZM489.5 434.3 487.5 430.2 493.2 429.8 496.6 432.8 493.5 435.5ZM563.6 437.7 559.1 434.6 562.0 431.5 566.3 431.4 566.4 436.2ZM592.7 434.0 596.5 430.2 600.7 433.9 599.1 436.9 595.4 436.4ZM613.6 435.8 609.9 436.4 608.9 432.7 610.3 430.9 613.1 430.8 615.8 432.2ZM621.2 433.8 624.1 432.3 628.6 434.1 625.6 437.8 622.1 437.9ZM506.9 446.3 504.1 442.3 508.0 439.5 511.7 441.2 510.4 445.5ZM550.2 436.6 555.9 437.0 557.3 441.3 552.6 445.5 548.4 441.9ZM583.6 435.7 587.6 440.4 585.8 442.5 580.7 441.5 581.0 437.8ZM620.0 440.1 617.9 444.7 611.8 443.6 612.5 439.1 616.3 436.6Z" fill="#4e4e4a"/><path d="M499.8 294.0 504.1 294.5 503.2 299.4 500.9 301.6 497.5 298.8ZM480.3 306.7 480.2 301.6 485.3 302.0 485.8 307.3ZM633.1 310.7 629.4 312.8 627.4 309.8 628.9 305.2 633.2 308.2ZM547.1 314.2 545.5 317.5 541.9 316.7 540.4 314.7 542.7 311.4 546.4 312.0ZM543.6 324.5 541.0 328.4 538.4 326.7 537.8 322.3 541.9 322.8ZM579.0 338.7 579.0 342.1 576.1 343.8 573.9 342.6 573.0 338.0 576.4 337.3ZM483.3 345.6 487.0 343.9 489.7 343.8 490.2 347.8 488.9 350.0 485.5 350.4ZM576.5 355.4 578.6 352.8 583.0 353.6 583.8 356.8 580.8 358.4ZM596.8 366.0 592.2 367.3 589.6 363.6 592.3 361.1 596.4 363.1ZM503.5 377.0 499.2 374.3 501.9 371.0 505.1 371.1 507.6 374.6ZM597.3 376.9 597.4 374.6 601.0 372.9 602.8 374.7 600.9 378.2ZM499.1 378.5 502.8 378.2 505.3 380.8 503.5 385.0 500.8 384.7 498.7 382.0ZM619.1 378.0 620.1 381.0 620.1 384.3 615.0 382.8 613.8 379.5ZM510.8 394.2 512.5 391.6 515.1 391.0 517.5 394.1 518.0 396.3 515.1 397.0ZM622.8 393.1 627.5 391.9 628.8 394.9 623.5 397.4ZM556.7 407.7 552.3 402.8 557.0 400.1 560.6 402.3ZM595.7 401.6 594.4 403.9 589.9 402.4 589.7 398.1 595.3 397.8ZM624.1 399.8 627.0 400.2 627.5 403.3 624.7 406.0 621.5 403.1ZM494.8 417.1 491.4 418.7 488.9 414.6 493.6 412.2ZM592.2 413.4 598.2 416.5 594.4 420.5 590.3 416.4ZM496.1 422.6 496.2 418.9 498.3 416.0 501.0 419.4 500.2 423.3ZM490.6 428.4 487.9 427.0 486.7 424.7 489.4 422.2 493.1 423.2 492.7 425.4ZM524.4 430.3 520.9 427.7 524.0 424.2 527.1 425.4 526.7 429.4ZM557.1 425.6 557.6 423.0 558.7 421.0 562.0 424.5 563.0 427.9 558.6 428.5ZM556.8 432.0 560.0 434.5 557.2 437.1 552.9 434.2ZM530.3 441.0 527.6 439.3 530.9 435.2 534.3 437.1 535.3 440.5 533.9 441.6Z" fill="#72726e"/><path d="M517.6 293.7 517.0 291.0 519.1 288.0 522.3 289.6 522.3 293.5ZM618.3 291.8 614.1 291.9 613.5 288.7 615.0 286.8 619.0 287.6ZM599.9 293.8 598.8 296.6 596.7 296.3 595.0 294.4 596.4 291.7ZM573.8 302.0 573.1 300.0 574.6 298.4 578.5 298.3 579.1 301.1 576.8 302.6ZM519.8 310.6 516.1 309.8 516.5 307.5 519.1 306.3 522.2 307.8ZM592.3 309.3 589.0 308.5 590.0 304.2 593.6 306.4ZM609.3 306.1 611.9 308.2 612.1 309.9 610.2 311.2 607.8 309.6 608.1 306.9ZM536.8 326.2 540.6 326.8 541.3 330.6 537.2 331.7 535.5 329.6ZM612.0 329.5 609.2 328.0 609.7 325.6 612.4 324.9 613.8 326.7ZM521.7 352.1 520.1 349.0 522.9 346.3 525.2 347.6 527.1 350.3 523.6 352.6ZM536.4 355.8 537.1 357.1 535.3 359.8 533.5 358.7 532.8 355.0ZM552.5 362.6 549.6 365.9 547.4 363.6 549.1 360.1ZM570.4 361.2 571.7 363.0 570.2 366.7 567.0 366.1 566.4 363.9 567.5 360.6ZM623.6 357.6 624.0 361.1 620.3 362.9 618.6 360.2 619.3 357.1ZM588.1 385.8 587.7 388.4 584.8 389.7 583.9 386.1 585.3 384.3ZM584.6 409.5 583.7 405.3 587.3 404.5 589.8 406.5 587.2 409.2ZM532.8 434.9 533.1 432.5 535.5 430.3 538.2 433.3 537.1 436.7Z" fill="#a8a8a4"/></g>
<circle cx="550" cy="364" r="70" fill="none" stroke="#27aad2" stroke-width="4"/>
<polyline points="876.5,200 876.5,462.5 795.5,462.5" fill="none" stroke="#2aa6cd" stroke-width="2.7"/>
<circle cx="795.5" cy="462.5" r="3.6" fill="#2aa6cd"/>
<polyline points="620,365.5 727.8,365.5 727.8,480.5" fill="none" stroke="#2aa6cd" stroke-width="2.7"/>
<circle cx="727.8" cy="480.5" r="3.6" fill="#2aa6cd"/>
<polyline points="631,596 704.8,596 704.8,750" fill="none" stroke="#2aa6cd" stroke-width="2.7"/>
<circle cx="704.8" cy="750" r="3.6" fill="#2aa6cd"/>
<g opacity="0.999">
<text x="249" y="327" font-family="Liberation Sans" font-size="20" fill="#3d3d3d" stroke="#3d3d3d" stroke-width="0.35" text-anchor="middle" textLength="113.4" lengthAdjust="spacing">Filtering hair</text>
<text x="249" y="349" font-family="Liberation Sans" font-size="20" fill="#3d3d3d" stroke="#3d3d3d" stroke-width="0.35" text-anchor="middle" textLength="115.6" lengthAdjust="spacing">and sundries</text>
<text x="249" y="472" font-family="Liberation Sans" font-size="20" fill="#3d3d3d" stroke="#3d3d3d" stroke-width="0.35" text-anchor="middle" textLength="175.6" lengthAdjust="spacing">Prevent debris from</text>
<text x="249.5" y="492" font-family="Liberation Sans" font-size="20" fill="#3d3d3d" stroke="#3d3d3d" stroke-width="0.35" text-anchor="middle" textLength="167.2" lengthAdjust="spacing">entering the pump</text>
<text x="248.5" y="619" font-family="Liberation Sans" font-size="20" fill="#3d3d3d" stroke="#3d3d3d" stroke-width="0.35" text-anchor="middle" textLength="142.5" lengthAdjust="spacing">Filter small dust</text>
<text x="249" y="640" font-family="Liberation Sans" font-size="20" fill="#3d3d3d" stroke="#3d3d3d" stroke-width="0.35" text-anchor="middle" textLength="177.4" lengthAdjust="spacing">and foreign matters</text>
<text x="248" y="762" font-family="Liberation Sans" font-size="20" fill="#3d3d3d" stroke="#3d3d3d" stroke-width="0.35" text-anchor="middle" textLength="121.4" lengthAdjust="spacing">Remove odor</text>
<text x="247.5" y="782" font-family="Liberation Sans" font-size="20" fill="#3d3d3d" stroke="#3d3d3d" stroke-width="0.35" text-anchor="middle" textLength="113.9" lengthAdjust="spacing">and bacteria</text>
<text x="606" y="117.5" font-family="Liberation Sans" font-size="20" fill="#3d3d3d" stroke="#3d3d3d" stroke-width="0.35" text-anchor="start" textLength="179.7" lengthAdjust="spacing">High-density Cotton</text>
<text x="476" y="459" font-family="Liberation Sans" font-size="20" fill="#3d3d3d" stroke="#3d3d3d" stroke-width="0.35" text-anchor="start" textLength="154.4" lengthAdjust="spacing">Activated Carbon</text>
<text x="472" y="696" font-family="Liberation Sans" font-size="20" fill="#3d3d3d" stroke="#3d3d3d" stroke-width="0.35" text-anchor="start" textLength="180.7" lengthAdjust="spacing">High-density Cotton</text>
</g>
</svg>
</body></html>
